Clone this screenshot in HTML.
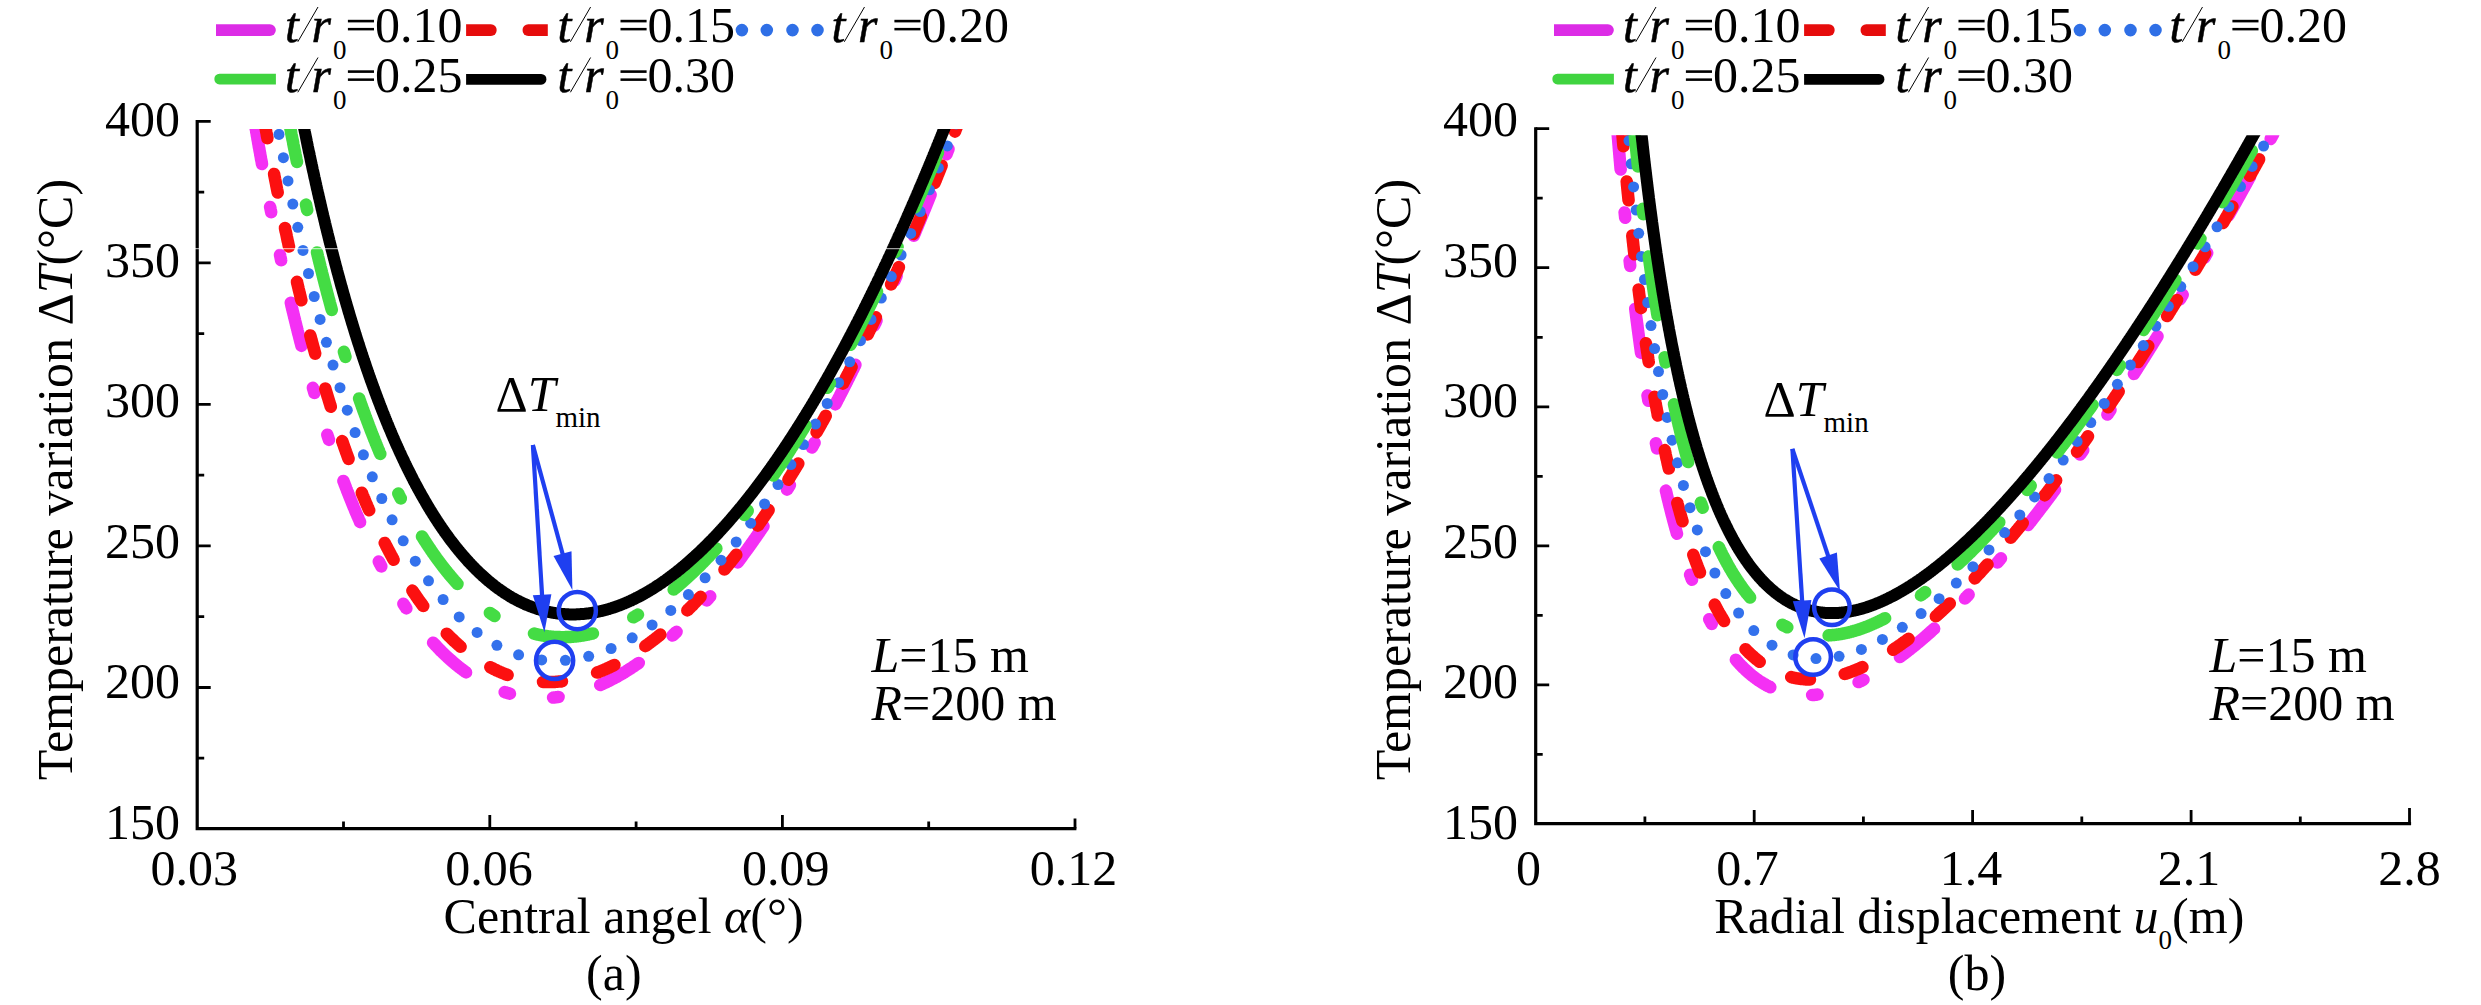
<!DOCTYPE html>
<html><head><meta charset="utf-8"><style>html,body{margin:0;padding:0;background:#fff;overflow:hidden}svg{display:block}text{font-family:"Liberation Serif",serif}</style></head><body>
<svg width="2481" height="1005" viewBox="0 0 2481 1005">
<rect width="2481" height="1005" fill="#fff"/>
<clipPath id="clipL"><rect x="197.2" y="129.0" width="877.8" height="700.0"/></clipPath>
<g clip-path="url(#clipL)"><path d="M254.3,120.3 254.4,120.8 254.5,121.3 254.6,121.7 254.6,122.2 254.7,122.7 254.8,123.2 254.9,123.7 255.0,124.2 255.1,124.7 255.1,125.2 255.2,125.7 255.3,126.2 255.4,126.7 255.5,127.2 255.6,127.7 255.7,128.2 255.7,128.6 255.8,129.1 255.9,129.6 256.0,130.1 256.1,130.6 256.2,131.1 256.2,131.6 256.3,132.1 256.4,132.6 256.5,133.1 256.6,133.6 256.7,134.1 256.8,134.6 256.8,135.0 256.9,135.5 257.0,136.0 257.1,136.5 257.2,137.0 257.3,137.5 257.4,138.0 257.4,138.5 257.5,139.0 257.6,139.5 257.7,140.0 257.8,140.5 257.9,141.0 258.0,141.4 258.1,141.9 258.1,142.4 258.2,142.9 258.3,143.4 258.4,143.9 258.5,144.4 258.6,144.9 258.7,145.4 258.7,145.9 258.8,146.4 258.9,146.9 259.0,147.4 259.1,147.8 259.2,148.3 259.3,148.8 259.4,149.3 259.4,149.8 259.5,150.3 259.6,150.8 259.7,151.3 259.8,151.8 259.9,152.3 260.0,152.8 260.1,153.3 260.2,153.8 260.2,154.2 260.3,154.7 260.4,155.2 260.5,155.7 260.6,156.2 260.7,156.7 260.8,157.2 260.9,157.7 260.9,158.2 261.0,158.7 261.1,159.2 261.2,159.7 261.3,160.1 261.4,160.6 261.5,161.1 261.6,161.6 261.7,162.1 261.8,162.6 261.8,163.1 261.9,163.6 262.0,164.1 262.0,164.1 M270.1,206.9 270.2,207.3 270.3,207.8 270.4,208.3 270.5,208.8 270.6,209.3 270.7,209.8 270.8,210.2 270.9,210.7 271.0,211.2 271.1,211.7 271.2,212.2 271.2,212.3 M280.0,254.9 280.1,255.3 280.2,255.8 280.3,256.3 280.4,256.8 280.5,257.2 280.6,257.7 280.7,258.2 280.8,258.7 280.9,259.2 281.0,259.7 281.1,260.2 281.2,260.3 M290.8,302.7 290.9,303.1 291.0,303.6 291.1,304.0 291.2,304.5 291.3,305.0 291.4,305.5 291.5,306.0 291.7,306.5 291.8,307.0 291.9,307.4 292.0,307.9 292.1,308.4 292.2,308.9 292.4,309.4 292.5,309.9 292.6,310.4 292.7,310.9 292.8,311.3 292.9,311.8 293.1,312.3 293.2,312.8 293.3,313.3 293.4,313.8 293.5,314.3 293.7,314.7 293.8,315.2 293.9,315.7 294.0,316.2 294.1,316.7 294.2,317.2 294.4,317.7 294.5,318.1 294.6,318.6 294.7,319.1 294.8,319.6 295.0,320.1 295.1,320.6 295.2,321.1 295.3,321.5 295.4,322.0 295.6,322.5 295.7,323.0 295.8,323.5 295.9,324.0 296.0,324.5 296.2,324.9 296.3,325.4 296.4,325.9 296.5,326.4 296.6,326.9 296.8,327.4 296.9,327.8 297.0,328.3 297.1,328.8 297.2,329.3 297.4,329.8 297.5,330.3 297.6,330.8 297.7,331.2 297.8,331.7 298.0,332.2 298.1,332.7 298.2,333.2 298.3,333.7 298.5,334.1 298.6,334.6 298.7,335.1 298.8,335.6 299.0,336.1 299.1,336.6 299.2,337.1 299.3,337.5 299.4,338.0 299.6,338.5 299.7,339.0 299.8,339.5 299.9,340.0 300.1,340.4 300.2,340.9 300.3,341.4 300.4,341.9 300.6,342.4 300.7,342.9 300.8,343.3 300.9,343.8 301.1,344.3 301.2,344.8 301.3,345.3 301.4,345.8 301.5,345.9 M312.9,387.8 313.0,388.2 313.2,388.7 313.3,389.2 313.5,389.6 313.6,390.1 313.7,390.6 313.9,391.1 314.0,391.6 314.1,392.0 314.3,392.5 314.4,393.0 314.5,393.1 M327.3,434.7 327.4,435.0 327.5,435.5 327.7,436.0 327.8,436.5 328.0,436.9 328.2,437.4 328.3,437.9 328.5,438.4 328.6,438.8 328.8,439.3 328.9,439.8 329.0,439.9 M343.4,480.9 343.6,481.3 343.7,481.7 343.9,482.2 344.1,482.7 344.3,483.1 344.4,483.6 344.6,484.1 344.8,484.5 345.0,485.0 345.1,485.5 345.3,486.0 345.5,486.4 345.7,486.9 345.9,487.4 346.0,487.8 346.2,488.3 346.4,488.8 346.6,489.2 346.8,489.7 346.9,490.1 347.1,490.6 347.3,491.1 347.5,491.5 347.7,492.0 347.9,492.5 348.0,492.9 348.2,493.4 348.4,493.9 348.6,494.3 348.8,494.8 348.9,495.3 349.1,495.7 349.3,496.2 349.5,496.7 349.7,497.1 349.9,497.6 350.1,498.1 350.2,498.5 350.4,499.0 350.6,499.5 350.8,499.9 351.0,500.4 351.2,500.8 351.4,501.3 351.5,501.8 351.7,502.2 351.9,502.7 352.1,503.2 352.3,503.6 352.5,504.1 352.7,504.5 352.9,505.0 353.0,505.5 353.2,505.9 353.4,506.4 353.6,506.9 353.8,507.3 354.0,507.8 354.2,508.2 354.4,508.7 354.6,509.2 354.8,509.6 355.0,510.1 355.1,510.6 355.3,511.0 355.5,511.5 355.7,511.9 355.9,512.4 356.1,512.9 356.3,513.3 356.5,513.8 356.7,514.2 356.9,514.7 357.1,515.2 357.3,515.6 357.5,516.1 357.7,516.5 357.9,517.0 358.1,517.5 358.3,517.9 358.5,518.4 358.7,518.8 358.9,519.3 359.1,519.8 359.3,520.2 359.5,520.7 359.7,521.1 359.9,521.6 360.1,522.1 360.1,522.2 M378.8,561.5 378.9,561.8 379.1,562.2 379.4,562.7 379.6,563.1 379.8,563.6 380.1,564.0 380.3,564.4 380.5,564.9 380.8,565.3 381.0,565.8 381.2,566.2 381.3,566.4 M403.4,603.8 403.5,604.1 403.8,604.5 404.1,604.9 404.4,605.3 404.7,605.8 404.9,606.2 405.2,606.6 405.5,607.0 405.8,607.4 406.0,607.8 406.3,608.3 406.4,608.4 M433.1,642.7 433.4,642.9 433.7,643.3 434.0,643.6 434.4,644.0 434.7,644.4 435.0,644.8 435.4,645.1 435.7,645.5 436.1,645.8 436.4,646.2 436.8,646.6 437.1,646.9 437.4,647.3 437.8,647.7 438.1,648.0 438.5,648.4 438.8,648.7 439.2,649.1 439.5,649.5 439.9,649.8 440.2,650.2 440.6,650.5 440.9,650.9 441.3,651.2 441.6,651.6 442.0,651.9 442.4,652.3 442.7,652.6 443.1,653.0 443.4,653.3 443.8,653.7 444.1,654.0 444.5,654.4 444.9,654.7 445.2,655.1 445.6,655.4 446.0,655.8 446.3,656.1 446.7,656.4 447.1,656.8 447.4,657.1 447.8,657.5 448.2,657.8 448.5,658.1 448.9,658.5 449.3,658.8 449.6,659.1 450.0,659.5 450.4,659.8 450.8,660.1 451.1,660.5 451.5,660.8 451.9,661.1 452.3,661.5 452.6,661.8 453.0,662.1 453.4,662.4 453.8,662.8 454.2,663.1 454.5,663.4 454.9,663.7 455.3,664.0 455.7,664.4 456.1,664.7 456.5,665.0 456.9,665.3 457.2,665.6 457.6,665.9 458.0,666.3 458.4,666.6 458.8,666.9 459.2,667.2 459.6,667.5 460.0,667.8 460.4,668.1 460.8,668.4 461.2,668.7 461.6,669.0 462.0,669.3 462.4,669.6 462.8,669.9 463.2,670.2 463.6,670.5 464.0,670.8 464.4,671.1 464.8,671.4 465.2,671.7 465.6,672.0 466.0,672.3 466.1,672.4 M504.7,692.1 505.0,692.2 505.5,692.4 506.0,692.5 506.4,692.7 506.9,692.8 507.4,693.0 507.9,693.1 508.4,693.2 508.8,693.4 509.3,693.5 509.8,693.7 510.0,693.7 M553.1,697.6 553.4,697.5 553.9,697.5 554.4,697.4 554.9,697.4 555.4,697.3 555.9,697.3 556.4,697.2 556.8,697.2 557.3,697.1 557.8,697.1 558.3,697.0 558.6,697.0 M600.2,685.0 600.5,684.9 600.9,684.7 601.4,684.5 601.8,684.3 602.3,684.1 602.7,683.8 603.2,683.6 603.7,683.4 604.1,683.2 604.6,683.0 605.0,682.8 605.5,682.6 605.9,682.4 606.4,682.2 606.8,681.9 607.3,681.7 607.7,681.5 608.2,681.3 608.6,681.1 609.1,680.8 609.5,680.6 610.0,680.4 610.4,680.2 610.8,679.9 611.3,679.7 611.7,679.5 612.2,679.2 612.6,679.0 613.1,678.8 613.5,678.5 613.9,678.3 614.4,678.1 614.8,677.8 615.3,677.6 615.7,677.3 616.1,677.1 616.6,676.9 617.0,676.6 617.5,676.4 617.9,676.1 618.3,675.9 618.8,675.6 619.2,675.4 619.6,675.2 620.1,674.9 620.5,674.7 620.9,674.4 621.4,674.1 621.8,673.9 622.2,673.6 622.7,673.4 623.1,673.1 623.5,672.9 623.9,672.6 624.4,672.4 624.8,672.1 625.2,671.8 625.6,671.6 626.1,671.3 626.5,671.1 626.9,670.8 627.3,670.5 627.8,670.3 628.2,670.0 628.6,669.7 629.0,669.5 629.5,669.2 629.9,668.9 630.3,668.6 630.7,668.4 631.1,668.1 631.6,667.8 632.0,667.6 632.4,667.3 632.8,667.0 633.2,666.7 633.6,666.5 634.1,666.2 634.5,665.9 634.9,665.6 635.3,665.3 635.7,665.1 636.1,664.8 636.5,664.5 636.9,664.2 637.4,663.9 637.8,663.6 638.2,663.4 638.6,663.1 638.8,662.9 M672.5,635.5 672.7,635.4 673.1,635.0 673.5,634.7 673.8,634.3 674.2,634.0 674.6,633.7 674.9,633.3 675.3,633.0 675.6,632.6 676.0,632.3 676.4,632.0 676.6,631.8 M706.7,600.4 706.9,600.3 707.2,599.9 707.5,599.5 707.8,599.1 708.2,598.8 708.5,598.4 708.8,598.0 709.2,597.6 709.5,597.2 709.8,596.9 710.1,596.5 710.3,596.3 M737.6,562.4 737.8,562.3 738.1,561.9 738.4,561.5 738.7,561.1 739.0,560.7 739.3,560.3 739.6,559.9 739.9,559.5 740.2,559.1 740.5,558.7 740.8,558.3 741.1,557.9 741.4,557.5 741.7,557.1 742.0,556.7 742.2,556.3 742.5,555.9 742.8,555.5 743.1,555.1 743.4,554.6 743.7,554.2 744.0,553.8 744.3,553.4 744.6,553.0 744.9,552.6 745.2,552.2 745.5,551.8 745.8,551.4 746.1,551.0 746.4,550.6 746.7,550.2 747.0,549.8 747.3,549.4 747.6,549.0 747.9,548.6 748.1,548.2 748.4,547.8 748.7,547.4 749.0,547.0 749.3,546.6 749.6,546.2 749.9,545.7 750.2,545.3 750.5,544.9 750.8,544.5 751.1,544.1 751.3,543.7 751.6,543.3 751.9,542.9 752.2,542.5 752.5,542.1 752.8,541.7 753.1,541.3 753.4,540.9 753.7,540.4 753.9,540.0 754.2,539.6 754.5,539.2 754.8,538.8 755.1,538.4 755.4,538.0 755.7,537.6 756.0,537.2 756.2,536.8 756.5,536.4 756.8,535.9 757.1,535.5 757.4,535.1 757.7,534.7 758.0,534.3 758.2,533.9 758.5,533.5 758.8,533.1 759.1,532.7 759.4,532.2 759.7,531.8 759.9,531.4 760.2,531.0 760.5,530.6 760.8,530.2 761.1,529.8 761.3,529.4 761.6,528.9 761.9,528.5 762.2,528.1 762.5,527.7 762.8,527.3 763.0,526.9 763.3,526.5 763.5,526.2 M787.0,489.7 787.2,489.5 787.4,489.1 787.7,488.6 787.9,488.2 788.2,487.8 788.5,487.4 788.7,486.9 789.0,486.5 789.3,486.1 789.5,485.7 789.8,485.2 789.9,485.0 M811.9,447.5 812.0,447.3 812.3,446.9 812.5,446.4 812.8,446.0 813.0,445.6 813.3,445.1 813.5,444.7 813.7,444.2 814.0,443.8 814.2,443.4 814.5,442.9 814.6,442.7 M835.3,404.4 835.4,404.3 835.6,403.8 835.9,403.4 836.1,402.9 836.3,402.5 836.6,402.0 836.8,401.6 837.0,401.1 837.3,400.7 837.5,400.3 837.7,399.8 837.9,399.4 838.2,398.9 838.4,398.5 838.6,398.0 838.9,397.6 839.1,397.2 839.3,396.7 839.6,396.3 839.8,395.8 840.0,395.4 840.2,394.9 840.5,394.5 840.7,394.0 840.9,393.6 841.2,393.2 841.4,392.7 841.6,392.3 841.8,391.8 842.1,391.4 842.3,390.9 842.5,390.5 842.8,390.0 843.0,389.6 843.2,389.2 843.4,388.7 843.7,388.3 843.9,387.8 844.1,387.4 844.3,386.9 844.6,386.5 844.8,386.0 845.0,385.6 845.2,385.1 845.5,384.7 845.7,384.2 845.9,383.8 846.2,383.4 846.4,382.9 846.6,382.5 846.8,382.0 847.1,381.6 847.3,381.1 847.5,380.7 847.7,380.2 848.0,379.8 848.2,379.3 848.4,378.9 848.6,378.4 848.9,378.0 849.1,377.6 849.3,377.1 849.5,376.7 849.7,376.2 850.0,375.8 850.2,375.3 850.4,374.9 850.6,374.4 850.9,374.0 851.1,373.5 851.3,373.1 851.5,372.6 851.8,372.2 852.0,371.7 852.2,371.3 852.4,370.8 852.6,370.4 852.9,369.9 853.1,369.5 853.3,369.1 853.5,368.6 853.8,368.2 854.0,367.7 854.2,367.3 854.4,366.8 854.6,366.4 854.9,365.9 855.1,365.5 855.3,365.0 855.4,364.7 M874.2,325.5 874.3,325.3 874.5,324.9 874.7,324.4 874.9,324.0 875.1,323.5 875.3,323.1 875.6,322.6 875.8,322.2 876.0,321.7 876.2,321.3 876.4,320.8 876.5,320.5 M894.4,280.8 894.5,280.7 894.7,280.3 894.9,279.8 895.1,279.3 895.3,278.9 895.5,278.4 895.7,278.0 895.9,277.5 896.1,277.0 896.3,276.6 896.5,276.1 896.6,275.8 M913.8,235.8 913.8,235.7 914.0,235.2 914.2,234.8 914.4,234.3 914.6,233.8 914.8,233.4 915.0,232.9 915.2,232.5 915.4,232.0 915.5,231.5 915.7,231.1 915.9,230.6 916.1,230.2 916.3,229.7 916.5,229.2 916.7,228.8 916.9,228.3 917.1,227.8 917.3,227.4 917.5,226.9 917.7,226.5 917.8,226.0 918.0,225.5 918.2,225.1 918.4,224.6 918.6,224.2 918.8,223.7 919.0,223.2 919.2,222.8 919.4,222.3 919.6,221.8 919.8,221.4 919.9,220.9 920.1,220.5 920.3,220.0 920.5,219.5 920.7,219.1 920.9,218.6 921.1,218.1 921.3,217.7 921.5,217.2 921.7,216.8 921.8,216.3 922.0,215.8 922.2,215.4 922.4,214.9 922.6,214.4 922.8,214.0 923.0,213.5 923.2,213.1 923.4,212.6 923.5,212.1 923.7,211.7 923.9,211.2 924.1,210.7 924.3,210.3 924.5,209.8 924.7,209.4 924.9,208.9 925.1,208.4 925.2,208.0 925.4,207.5 925.6,207.0 925.8,206.6 926.0,206.1 926.2,205.7 926.4,205.2 926.6,204.7 926.7,204.3 926.9,203.8 927.1,203.3 927.3,202.9 927.5,202.4 927.7,201.9 927.9,201.5 928.1,201.0 928.2,200.6 928.4,200.1 928.6,199.6 928.8,199.2 929.0,198.7 929.2,198.2 929.4,197.8 929.6,197.3 929.7,196.8 929.9,196.4 930.1,195.9 930.3,195.5 930.5,195.0 930.6,194.6 M946.5,154.2 946.6,154.0 946.8,153.6 946.9,153.1 947.1,152.6 947.3,152.2 947.5,151.7 947.7,151.3 947.8,150.8 948.0,150.3 948.2,149.9 948.4,149.4 948.5,149.0 M963.9,108.3 963.9,108.2 964.1,107.8 964.2,107.3 964.4,106.8 964.6,106.3 964.8,105.9 964.9,105.4 965.1,104.9 965.3,104.5 965.4,104.0 965.4,104.0" fill="none" stroke="#f430f4" stroke-width="12.5" stroke-linecap="round" stroke-linejoin="round"/>
<path d="M264.1,119.6 264.1,119.8 264.2,120.3 264.3,120.7 264.4,121.2 264.5,121.7 264.6,122.2 264.6,122.7 264.7,123.2 264.8,123.7 264.9,124.2 265.0,124.7 265.1,125.2 265.2,125.7 265.3,126.2 265.3,126.7 265.4,127.1 265.5,127.6 265.6,128.1 265.7,128.6 265.8,129.1 265.9,129.6 266.0,130.1 266.0,130.6 266.1,131.1 266.2,131.6 266.3,132.1 266.4,132.6 266.5,133.1 266.6,133.5 266.7,134.0 266.8,134.5 266.8,135.0 266.9,135.5 267.0,136.0 267.1,136.5 267.2,137.0 267.3,137.5 267.4,138.0 267.4,138.3 M274.1,173.9 274.2,174.3 274.2,174.8 274.3,175.3 274.4,175.8 274.5,176.3 274.6,176.8 274.7,177.3 274.8,177.8 274.9,178.3 275.0,178.8 275.1,179.3 275.2,179.7 275.3,180.2 275.4,180.7 275.5,181.2 275.6,181.7 275.7,182.2 275.8,182.7 275.9,183.2 276.0,183.7 276.1,184.2 276.2,184.7 276.2,185.1 276.3,185.6 276.4,186.1 276.5,186.6 276.6,187.1 276.7,187.6 276.8,188.1 276.9,188.6 277.0,189.1 277.1,189.6 277.2,190.0 277.3,190.5 277.4,191.0 277.5,191.5 277.6,192.0 277.7,192.5 277.7,192.5 M285.0,228.0 285.0,228.3 285.1,228.7 285.2,229.2 285.3,229.7 285.4,230.2 285.5,230.7 285.6,231.2 285.8,231.7 285.9,232.2 286.0,232.7 286.1,233.1 286.2,233.6 286.3,234.1 286.4,234.6 286.5,235.1 286.6,235.6 286.7,236.1 286.8,236.6 286.9,237.1 287.0,237.5 287.1,238.0 287.2,238.5 287.3,239.0 287.4,239.5 287.5,240.0 287.6,240.5 287.7,241.0 287.9,241.5 288.0,241.9 288.1,242.4 288.2,242.9 288.3,243.4 288.4,243.9 288.5,244.4 288.6,244.9 288.7,245.4 288.8,245.9 288.9,246.3 289.0,246.5 M297.0,281.8 297.0,281.9 297.1,282.4 297.2,282.9 297.3,283.4 297.5,283.9 297.6,284.4 297.7,284.9 297.8,285.3 297.9,285.8 298.0,286.3 298.1,286.8 298.3,287.3 298.4,287.8 298.5,288.3 298.6,288.7 298.7,289.2 298.8,289.7 299.0,290.2 299.1,290.7 299.2,291.2 299.3,291.7 299.4,292.1 299.5,292.6 299.7,293.1 299.8,293.6 299.9,294.1 300.0,294.6 300.1,295.1 300.2,295.6 300.4,296.0 300.5,296.5 300.6,297.0 300.7,297.5 300.8,298.0 300.9,298.5 301.1,299.0 301.2,299.4 301.3,299.9 301.4,300.3 M310.3,335.4 310.4,335.8 310.5,336.3 310.7,336.8 310.8,337.2 310.9,337.7 311.0,338.2 311.2,338.7 311.3,339.2 311.4,339.7 311.6,340.1 311.7,340.6 311.8,341.1 311.9,341.6 312.1,342.1 312.2,342.5 312.3,343.0 312.5,343.5 312.6,344.0 312.7,344.5 312.9,345.0 313.0,345.4 313.1,345.9 313.2,346.4 313.4,346.9 313.5,347.4 313.6,347.9 313.8,348.3 313.9,348.8 314.0,349.3 314.2,349.8 314.3,350.3 314.4,350.8 314.6,351.2 314.7,351.7 314.8,352.2 315.0,352.7 315.1,353.2 315.2,353.6 315.2,353.8 M325.3,388.5 325.3,388.7 325.4,389.2 325.6,389.7 325.7,390.2 325.9,390.6 326.0,391.1 326.2,391.6 326.3,392.1 326.5,392.6 326.6,393.0 326.8,393.5 326.9,394.0 327.0,394.5 327.2,394.9 327.3,395.4 327.5,395.9 327.6,396.4 327.8,396.9 327.9,397.3 328.1,397.8 328.2,398.3 328.4,398.8 328.5,399.2 328.7,399.7 328.8,400.2 329.0,400.7 329.1,401.2 329.2,401.6 329.4,402.1 329.5,402.6 329.7,403.1 329.8,403.5 330.0,404.0 330.1,404.5 330.3,405.0 330.4,405.4 330.6,405.9 330.7,406.4 330.8,406.7 M342.2,441.1 342.4,441.5 342.5,442.0 342.7,442.5 342.9,442.9 343.0,443.4 343.2,443.9 343.4,444.4 343.5,444.8 343.7,445.3 343.9,445.8 344.0,446.2 344.2,446.7 344.4,447.2 344.5,447.7 344.7,448.1 344.9,448.6 345.0,449.1 345.2,449.5 345.4,450.0 345.5,450.5 345.7,451.0 345.9,451.4 346.0,451.9 346.2,452.4 346.4,452.8 346.5,453.3 346.7,453.8 346.9,454.2 347.1,454.7 347.2,455.2 347.4,455.7 347.6,456.1 347.7,456.6 347.9,457.1 348.1,457.5 348.3,458.0 348.4,458.5 348.6,458.9 348.6,459.0 M361.8,492.7 361.9,492.9 362.1,493.4 362.2,493.9 362.4,494.3 362.6,494.8 362.8,495.3 363.0,495.7 363.2,496.2 363.4,496.6 363.6,497.1 363.8,497.6 364.0,498.0 364.2,498.5 364.4,498.9 364.6,499.4 364.8,499.9 365.0,500.3 365.1,500.8 365.3,501.2 365.5,501.7 365.7,502.2 365.9,502.6 366.1,503.1 366.3,503.5 366.5,504.0 366.7,504.5 366.9,504.9 367.1,505.4 367.3,505.8 367.5,506.3 367.7,506.7 367.9,507.2 368.1,507.7 368.3,508.1 368.5,508.6 368.7,509.0 368.9,509.5 369.1,510.0 369.2,510.2 M384.7,542.9 384.7,542.9 385.0,543.4 385.2,543.8 385.4,544.3 385.7,544.7 385.9,545.2 386.1,545.6 386.3,546.0 386.6,546.5 386.8,546.9 387.0,547.4 387.3,547.8 387.5,548.3 387.7,548.7 388.0,549.2 388.2,549.6 388.4,550.0 388.7,550.5 388.9,550.9 389.1,551.4 389.4,551.8 389.6,552.2 389.8,552.7 390.1,553.1 390.3,553.6 390.5,554.0 390.8,554.5 391.0,554.9 391.3,555.3 391.5,555.8 391.7,556.2 392.0,556.6 392.2,557.1 392.4,557.5 392.7,558.0 392.9,558.4 393.2,558.8 393.4,559.3 393.6,559.7 M412.4,590.6 412.6,590.9 412.9,591.3 413.1,591.7 413.4,592.2 413.7,592.6 414.0,593.0 414.3,593.4 414.5,593.8 414.8,594.2 415.1,594.6 415.4,595.1 415.7,595.5 416.0,595.9 416.2,596.3 416.5,596.7 416.8,597.1 417.1,597.5 417.4,597.9 417.7,598.3 418.0,598.7 418.2,599.2 418.5,599.6 418.8,600.0 419.1,600.4 419.4,600.8 419.7,601.2 420.0,601.6 420.3,602.0 420.6,602.4 420.9,602.8 421.2,603.2 421.5,603.6 421.8,604.0 422.0,604.4 422.3,604.8 422.6,605.2 422.9,605.6 423.2,606.0 423.3,606.1 M446.7,633.7 446.8,633.8 447.2,634.2 447.5,634.5 447.9,634.9 448.2,635.3 448.6,635.6 448.9,636.0 449.3,636.3 449.7,636.7 450.0,637.0 450.4,637.4 450.7,637.7 451.1,638.1 451.4,638.4 451.8,638.8 452.2,639.1 452.5,639.5 452.9,639.8 453.3,640.1 453.6,640.5 454.0,640.8 454.3,641.2 454.7,641.5 455.1,641.9 455.4,642.2 455.8,642.5 456.2,642.9 456.6,643.2 456.9,643.5 457.3,643.9 457.7,644.2 458.0,644.5 458.4,644.9 458.8,645.2 459.2,645.5 459.6,645.9 459.9,646.2 460.3,646.5 460.6,646.7 M490.3,667.2 490.7,667.5 491.1,667.7 491.6,667.9 492.0,668.1 492.5,668.4 492.9,668.6 493.4,668.8 493.8,669.1 494.3,669.3 494.7,669.5 495.2,669.7 495.6,669.9 496.1,670.1 496.5,670.4 497.0,670.6 497.4,670.8 497.9,671.0 498.3,671.2 498.8,671.4 499.3,671.6 499.7,671.8 500.2,672.0 500.6,672.2 501.1,672.4 501.6,672.6 502.0,672.8 502.5,673.0 502.9,673.2 503.4,673.3 503.9,673.5 504.3,673.7 504.8,673.9 505.3,674.1 505.7,674.2 506.2,674.4 506.7,674.6 507.1,674.8 507.6,674.9 507.6,674.9 M543.0,682.0 543.3,682.0 543.8,682.0 544.3,682.0 544.8,682.0 545.3,682.0 545.8,682.0 546.3,682.0 546.8,682.1 547.3,682.1 547.8,682.1 548.3,682.1 548.8,682.1 549.3,682.1 549.8,682.1 550.3,682.0 550.8,682.0 551.3,682.0 551.8,682.0 552.3,682.0 552.8,682.0 553.3,682.0 553.8,681.9 554.3,681.9 554.8,681.9 555.3,681.9 555.8,681.8 556.3,681.8 556.8,681.8 557.3,681.7 557.8,681.7 558.3,681.6 558.8,681.6 559.3,681.6 559.8,681.5 560.3,681.5 560.8,681.4 561.3,681.4 561.7,681.3 562.0,681.3 M597.0,672.6 597.1,672.6 597.6,672.4 598.0,672.2 598.5,672.1 599.0,671.9 599.4,671.7 599.9,671.5 600.4,671.3 600.8,671.1 601.3,671.0 601.7,670.8 602.2,670.6 602.7,670.4 603.1,670.2 603.6,670.0 604.0,669.8 604.5,669.6 605.0,669.4 605.4,669.2 605.9,669.0 606.3,668.8 606.8,668.6 607.2,668.4 607.7,668.2 608.2,668.0 608.6,667.8 609.1,667.5 609.5,667.3 610.0,667.1 610.4,666.9 610.9,666.7 611.3,666.5 611.8,666.3 612.2,666.0 612.7,665.8 613.1,665.6 613.6,665.4 614.0,665.2 614.4,665.0 M645.3,646.2 645.6,645.9 646.0,645.7 646.4,645.4 646.8,645.1 647.2,644.8 647.6,644.5 648.0,644.2 648.4,643.9 648.8,643.6 649.2,643.3 649.6,643.0 650.0,642.7 650.4,642.4 650.8,642.1 651.2,641.8 651.6,641.5 652.0,641.2 652.4,640.9 652.8,640.6 653.2,640.3 653.6,640.0 654.0,639.7 654.4,639.4 654.8,639.1 655.2,638.8 655.6,638.5 656.0,638.2 656.4,637.8 656.8,637.5 657.2,637.2 657.6,636.9 658.0,636.6 658.3,636.3 658.7,636.0 659.1,635.7 659.5,635.4 659.9,635.0 660.3,634.7 660.4,634.6 M687.3,610.4 687.4,610.3 687.8,610.0 688.1,609.6 688.5,609.3 688.8,608.9 689.2,608.6 689.6,608.2 689.9,607.9 690.3,607.5 690.6,607.2 691.0,606.8 691.3,606.4 691.7,606.1 692.0,605.7 692.4,605.4 692.7,605.0 693.1,604.7 693.4,604.3 693.8,603.9 694.1,603.6 694.5,603.2 694.8,602.9 695.2,602.5 695.5,602.2 695.9,601.8 696.2,601.4 696.6,601.1 696.9,600.7 697.2,600.4 697.6,600.0 697.9,599.6 698.3,599.3 698.6,598.9 699.0,598.5 699.3,598.2 699.7,597.8 700.0,597.4 700.3,597.1 700.6,596.8 M724.4,569.6 724.7,569.3 725.0,568.9 725.3,568.5 725.7,568.1 726.0,567.7 726.3,567.3 726.6,566.9 726.9,566.6 727.2,566.2 727.6,565.8 727.9,565.4 728.2,565.0 728.5,564.6 728.8,564.2 729.1,563.8 729.4,563.4 729.8,563.1 730.1,562.7 730.4,562.3 730.7,561.9 731.0,561.5 731.3,561.1 731.6,560.7 731.9,560.3 732.3,559.9 732.6,559.5 732.9,559.1 733.2,558.7 733.5,558.4 733.8,558.0 734.1,557.6 734.4,557.2 734.7,556.8 735.0,556.4 735.3,556.0 735.6,555.6 736.0,555.2 736.3,554.8 736.3,554.8 M757.8,525.7 758.0,525.5 758.3,525.1 758.5,524.7 758.8,524.2 759.1,523.8 759.4,523.4 759.7,523.0 760.0,522.6 760.3,522.2 760.6,521.8 760.8,521.4 761.1,521.0 761.4,520.6 761.7,520.2 762.0,519.7 762.3,519.3 762.6,518.9 762.8,518.5 763.1,518.1 763.4,517.7 763.7,517.3 764.0,516.9 764.3,516.5 764.5,516.0 764.8,515.6 765.1,515.2 765.4,514.8 765.7,514.4 766.0,514.0 766.2,513.6 766.5,513.1 766.8,512.7 767.1,512.3 767.4,511.9 767.6,511.5 767.9,511.1 768.2,510.7 768.5,510.3 768.6,510.0 M788.4,479.7 788.4,479.7 788.6,479.2 788.9,478.8 789.2,478.4 789.4,478.0 789.7,477.5 790.0,477.1 790.2,476.7 790.5,476.3 790.8,475.8 791.0,475.4 791.3,475.0 791.5,474.6 791.8,474.1 792.1,473.7 792.3,473.3 792.6,472.9 792.9,472.4 793.1,472.0 793.4,471.6 793.6,471.2 793.9,470.7 794.2,470.3 794.4,469.9 794.7,469.5 794.9,469.0 795.2,468.6 795.5,468.2 795.7,467.7 796.0,467.3 796.2,466.9 796.5,466.5 796.8,466.0 797.0,465.6 797.3,465.2 797.5,464.8 797.8,464.3 798.1,463.9 798.3,463.5 M816.6,432.3 816.7,432.0 817.0,431.5 817.2,431.1 817.5,430.7 817.7,430.2 818.0,429.8 818.2,429.4 818.5,428.9 818.7,428.5 819.0,428.0 819.2,427.6 819.4,427.2 819.7,426.7 819.9,426.3 820.2,425.9 820.4,425.4 820.7,425.0 820.9,424.6 821.2,424.1 821.4,423.7 821.6,423.2 821.9,422.8 822.1,422.4 822.4,421.9 822.6,421.5 822.9,421.1 823.1,420.6 823.3,420.2 823.6,419.7 823.8,419.3 824.1,418.9 824.3,418.4 824.6,418.0 824.8,417.6 825.0,417.1 825.3,416.7 825.5,416.2 825.8,415.8 825.8,415.7 M842.9,383.7 843.0,383.6 843.2,383.2 843.4,382.7 843.7,382.3 843.9,381.9 844.1,381.4 844.4,381.0 844.6,380.5 844.8,380.1 845.1,379.6 845.3,379.2 845.5,378.7 845.7,378.3 846.0,377.9 846.2,377.4 846.4,377.0 846.7,376.5 846.9,376.1 847.1,375.6 847.3,375.2 847.6,374.7 847.8,374.3 848.0,373.9 848.3,373.4 848.5,373.0 848.7,372.5 848.9,372.1 849.2,371.6 849.4,371.2 849.6,370.7 849.9,370.3 850.1,369.9 850.3,369.4 850.5,369.0 850.8,368.5 851.0,368.1 851.2,367.6 851.4,367.2 851.6,366.9 M867.7,334.4 867.9,334.0 868.1,333.6 868.3,333.1 868.5,332.7 868.7,332.2 869.0,331.8 869.2,331.3 869.4,330.9 869.6,330.4 869.8,330.0 870.0,329.5 870.3,329.1 870.5,328.6 870.7,328.2 870.9,327.7 871.1,327.3 871.3,326.8 871.6,326.4 871.8,325.9 872.0,325.5 872.2,325.0 872.4,324.6 872.6,324.1 872.9,323.7 873.1,323.2 873.3,322.8 873.5,322.3 873.7,321.9 873.9,321.4 874.1,321.0 874.4,320.5 874.6,320.1 874.8,319.6 875.0,319.2 875.2,318.7 875.4,318.3 875.6,317.8 875.9,317.3 875.9,317.3 M891.1,284.4 891.2,284.2 891.4,283.8 891.6,283.3 891.8,282.9 892.0,282.4 892.2,282.0 892.4,281.5 892.6,281.0 892.9,280.6 893.1,280.1 893.3,279.7 893.5,279.2 893.7,278.8 893.9,278.3 894.1,277.9 894.3,277.4 894.5,276.9 894.7,276.5 894.9,276.0 895.1,275.6 895.3,275.1 895.5,274.7 895.7,274.2 895.9,273.7 896.1,273.3 896.3,272.8 896.5,272.4 896.7,271.9 897.0,271.5 897.2,271.0 897.4,270.6 897.6,270.1 897.8,269.6 898.0,269.2 898.2,268.7 898.4,268.3 898.6,267.8 898.8,267.4 898.9,267.1 M913.4,233.9 913.4,233.9 913.6,233.4 913.8,233.0 914.0,232.5 914.2,232.1 914.4,231.6 914.6,231.1 914.8,230.7 915.0,230.2 915.1,229.8 915.3,229.3 915.5,228.8 915.7,228.4 915.9,227.9 916.1,227.5 916.3,227.0 916.5,226.5 916.7,226.1 916.9,225.6 917.1,225.2 917.3,224.7 917.5,224.2 917.7,223.8 917.9,223.3 918.1,222.9 918.3,222.4 918.5,221.9 918.7,221.5 918.9,221.0 919.1,220.6 919.2,220.1 919.4,219.6 919.6,219.2 919.8,218.7 920.0,218.3 920.2,217.8 920.4,217.3 920.6,216.9 920.8,216.4 M934.6,183.0 934.7,182.7 934.9,182.2 935.1,181.8 935.3,181.3 935.5,180.8 935.7,180.4 935.9,179.9 936.0,179.4 936.2,179.0 936.4,178.5 936.6,178.0 936.8,177.6 937.0,177.1 937.2,176.7 937.4,176.2 937.5,175.7 937.7,175.3 937.9,174.8 938.1,174.3 938.3,173.9 938.5,173.4 938.7,172.9 938.9,172.5 939.0,172.0 939.2,171.6 939.4,171.1 939.6,170.6 939.8,170.2 940.0,169.7 940.2,169.2 940.3,168.8 940.5,168.3 940.7,167.8 940.9,167.4 941.1,166.9 941.3,166.5 941.5,166.0 941.6,165.5 941.7,165.4 M955.0,131.7 955.0,131.6 955.2,131.1 955.4,130.6 955.5,130.2 955.7,129.7 955.9,129.2 956.1,128.8 956.3,128.3 956.4,127.8 956.6,127.4 956.8,126.9 957.0,126.4 957.2,126.0 957.3,125.5 957.5,125.0 957.7,124.6 957.9,124.1 958.1,123.6 958.2,123.2 958.4,122.7 958.6,122.2 958.8,121.8 958.9,121.3 959.1,120.8 959.3,120.4 959.5,119.9 959.7,119.4 959.8,119.0 960.0,118.5 960.2,118.0 960.4,117.6 960.6,117.1 960.7,116.6 960.9,116.2 961.1,115.7 961.3,115.2 961.4,114.8 961.6,114.3 961.8,113.9" fill="none" stroke="#fc1010" stroke-width="12.5" stroke-linecap="round" stroke-linejoin="round"/>
<g fill="#3371ec"><circle cx="274.7" cy="111.1" r="5.5"/><circle cx="279.0" cy="134.4" r="5.5"/><circle cx="283.4" cy="157.7" r="5.5"/><circle cx="288.0" cy="180.9" r="5.5"/><circle cx="292.8" cy="204.1" r="5.5"/><circle cx="297.8" cy="227.3" r="5.5"/><circle cx="303.0" cy="250.4" r="5.5"/><circle cx="308.5" cy="273.5" r="5.5"/><circle cx="314.2" cy="296.5" r="5.5"/><circle cx="320.1" cy="319.4" r="5.5"/><circle cx="326.4" cy="342.3" r="5.5"/><circle cx="333.0" cy="365.1" r="5.5"/><circle cx="340.0" cy="387.7" r="5.5"/><circle cx="347.3" cy="410.2" r="5.5"/><circle cx="355.1" cy="432.6" r="5.5"/><circle cx="363.4" cy="454.8" r="5.5"/><circle cx="372.3" cy="476.8" r="5.5"/><circle cx="381.8" cy="498.5" r="5.5"/><circle cx="392.1" cy="519.8" r="5.5"/><circle cx="403.2" cy="540.8" r="5.5"/><circle cx="415.3" cy="561.2" r="5.5"/><circle cx="428.5" cy="580.8" r="5.5"/><circle cx="443.1" cy="599.5" r="5.5"/><circle cx="459.2" cy="616.9" r="5.5"/><circle cx="477.1" cy="632.4" r="5.5"/><circle cx="496.9" cy="645.3" r="5.5"/><circle cx="518.6" cy="654.8" r="5.5"/><circle cx="541.7" cy="659.9" r="5.5"/><circle cx="565.4" cy="660.3" r="5.5"/><circle cx="588.7" cy="656.3" r="5.5"/><circle cx="611.1" cy="648.5" r="5.5"/><circle cx="632.2" cy="637.8" r="5.5"/><circle cx="652.1" cy="624.9" r="5.5"/><circle cx="670.8" cy="610.4" r="5.5"/><circle cx="688.4" cy="594.6" r="5.5"/><circle cx="705.1" cy="577.8" r="5.5"/><circle cx="721.0" cy="560.2" r="5.5"/><circle cx="736.2" cy="542.0" r="5.5"/><circle cx="750.7" cy="523.2" r="5.5"/><circle cx="764.6" cy="504.0" r="5.5"/><circle cx="778.0" cy="484.5" r="5.5"/><circle cx="790.9" cy="464.6" r="5.5"/><circle cx="803.4" cy="444.5" r="5.5"/><circle cx="815.5" cy="424.1" r="5.5"/><circle cx="827.2" cy="403.5" r="5.5"/><circle cx="838.6" cy="382.7" r="5.5"/><circle cx="849.7" cy="361.8" r="5.5"/><circle cx="860.5" cy="340.7" r="5.5"/><circle cx="871.0" cy="319.4" r="5.5"/><circle cx="881.3" cy="298.1" r="5.5"/><circle cx="891.3" cy="276.6" r="5.5"/><circle cx="901.1" cy="255.0" r="5.5"/><circle cx="910.7" cy="233.4" r="5.5"/><circle cx="920.2" cy="211.6" r="5.5"/><circle cx="929.4" cy="189.8" r="5.5"/><circle cx="938.4" cy="167.9" r="5.5"/><circle cx="947.3" cy="145.9" r="5.5"/><circle cx="956.1" cy="123.9" r="5.5"/></g>
<path d="M285.8,104.0 285.8,104.0 285.9,104.5 286.0,105.0 286.1,105.5 286.1,106.0 286.2,106.5 286.3,106.9 286.4,107.4 286.5,107.9 286.6,108.4 286.7,108.9 286.8,109.4 286.9,109.9 287.0,110.4 287.1,110.9 287.1,111.4 287.2,111.9 287.3,112.4 287.4,112.8 287.5,113.3 287.6,113.8 287.7,114.3 287.8,114.8 287.9,115.3 288.0,115.8 288.1,116.3 288.2,116.8 288.2,117.3 288.3,117.8 288.4,118.3 288.5,118.7 288.6,119.2 288.7,119.7 288.8,120.2 288.9,120.7 289.0,121.2 289.1,121.7 289.2,122.2 289.3,122.7 289.4,123.2 289.5,123.7 289.5,124.1 289.6,124.6 289.7,125.1 289.8,125.6 289.9,126.1 290.0,126.6 290.1,127.1 290.2,127.6 290.3,128.1 290.4,128.6 290.5,129.1 290.6,129.5 290.7,130.0 290.8,130.5 290.9,131.0 291.0,131.5 291.1,132.0 291.1,132.5 291.2,133.0 291.3,133.5 291.4,134.0 291.5,134.5 291.6,134.9 291.7,135.4 291.8,135.9 291.9,136.4 292.0,136.9 292.1,137.4 292.2,137.9 292.3,138.4 292.4,138.9 292.5,139.4 292.6,139.8 292.7,140.3 292.8,140.8 292.9,141.3 293.0,141.8 293.1,142.3 293.2,142.8 293.2,143.3 293.3,143.8 293.4,144.3 293.5,144.8 293.6,145.2 293.7,145.7 293.8,146.2 293.9,146.7 294.0,147.2 294.1,147.7 294.2,148.2 294.3,148.7 294.4,149.2 294.5,149.7 294.6,150.1 294.7,150.6 294.8,151.1 294.9,151.6 295.0,152.1 295.1,152.6 295.2,153.1 295.3,153.6 295.4,154.1 295.5,154.6 295.6,155.0 295.7,155.5 295.8,156.0 295.9,156.5 296.0,157.0 296.1,157.5 296.2,158.0 296.3,158.5 296.4,159.0 296.5,159.5 296.6,159.9 296.7,160.4 296.8,160.9 296.9,161.4 297.0,161.9 297.0,162.1 M306.0,204.6 306.1,204.9 306.2,205.4 306.3,205.9 306.4,206.4 306.5,206.9 306.6,207.4 306.7,207.9 306.8,208.4 306.9,208.8 307.0,209.3 307.1,209.8 307.2,210.0 M317.0,252.4 317.1,252.7 317.2,253.2 317.3,253.6 317.4,254.1 317.5,254.6 317.6,255.1 317.8,255.6 317.9,256.1 318.0,256.6 318.1,257.0 318.2,257.5 318.4,258.0 318.5,258.5 318.6,259.0 318.7,259.5 318.8,260.0 319.0,260.4 319.1,260.9 319.2,261.4 319.3,261.9 319.4,262.4 319.6,262.9 319.7,263.4 319.8,263.8 319.9,264.3 320.0,264.8 320.2,265.3 320.3,265.8 320.4,266.3 320.5,266.8 320.6,267.2 320.8,267.7 320.9,268.2 321.0,268.7 321.1,269.2 321.2,269.7 321.4,270.1 321.5,270.6 321.6,271.1 321.7,271.6 321.9,272.1 322.0,272.6 322.1,273.1 322.2,273.5 322.3,274.0 322.5,274.5 322.6,275.0 322.7,275.5 322.8,276.0 323.0,276.4 323.1,276.9 323.2,277.4 323.3,277.9 323.5,278.4 323.6,278.9 323.7,279.4 323.8,279.8 323.9,280.3 324.1,280.8 324.2,281.3 324.3,281.8 324.4,282.3 324.6,282.7 324.7,283.2 324.8,283.7 324.9,284.2 325.1,284.7 325.2,285.2 325.3,285.6 325.4,286.1 325.6,286.6 325.7,287.1 325.8,287.6 326.0,288.1 326.1,288.5 326.2,289.0 326.3,289.5 326.5,290.0 326.6,290.5 326.7,291.0 326.8,291.4 327.0,291.9 327.1,292.4 327.2,292.9 327.3,293.4 327.5,293.9 327.6,294.3 327.7,294.8 327.9,295.3 328.0,295.8 328.1,296.3 328.2,296.8 328.4,297.2 328.5,297.7 328.6,298.2 328.8,298.7 328.9,299.2 329.0,299.7 329.2,300.1 329.3,300.6 329.4,301.1 329.5,301.6 329.7,302.1 329.8,302.6 329.9,303.0 330.1,303.5 330.2,304.0 330.3,304.5 330.5,305.0 330.6,305.4 330.7,305.9 330.8,306.4 331.0,306.9 331.1,307.4 331.2,307.9 331.4,308.3 331.5,308.8 331.6,309.3 331.8,309.8 331.8,310.0 M343.9,351.8 344.0,352.0 344.1,352.5 344.3,353.0 344.4,353.5 344.6,353.9 344.7,354.4 344.9,354.9 345.0,355.4 345.2,355.9 345.3,356.3 345.5,356.8 345.5,357.0 M359.1,398.4 359.2,398.6 359.3,399.1 359.5,399.5 359.7,400.0 359.8,400.5 360.0,401.0 360.2,401.4 360.3,401.9 360.5,402.4 360.7,402.8 360.8,403.3 361.0,403.8 361.2,404.3 361.3,404.7 361.5,405.2 361.7,405.7 361.8,406.1 362.0,406.6 362.2,407.1 362.3,407.6 362.5,408.0 362.7,408.5 362.9,409.0 363.0,409.4 363.2,409.9 363.4,410.4 363.5,410.9 363.7,411.3 363.9,411.8 364.0,412.3 364.2,412.7 364.4,413.2 364.6,413.7 364.7,414.1 364.9,414.6 365.1,415.1 365.2,415.5 365.4,416.0 365.6,416.5 365.8,417.0 365.9,417.4 366.1,417.9 366.3,418.4 366.5,418.8 366.6,419.3 366.8,419.8 367.0,420.2 367.2,420.7 367.3,421.2 367.5,421.6 367.7,422.1 367.9,422.6 368.0,423.0 368.2,423.5 368.4,424.0 368.6,424.4 368.7,424.9 368.9,425.4 369.1,425.8 369.3,426.3 369.4,426.8 369.6,427.2 369.8,427.7 370.0,428.2 370.2,428.6 370.3,429.1 370.5,429.6 370.7,430.0 370.9,430.5 371.1,431.0 371.2,431.4 371.4,431.9 371.6,432.4 371.8,432.8 372.0,433.3 372.1,433.8 372.3,434.2 372.5,434.7 372.7,435.2 372.9,435.6 373.1,436.1 373.2,436.6 373.4,437.0 373.6,437.5 373.8,438.0 374.0,438.4 374.2,438.9 374.3,439.4 374.5,439.8 374.7,440.3 374.9,440.7 375.1,441.2 375.3,441.7 375.5,442.1 375.6,442.6 375.8,443.1 376.0,443.5 376.2,444.0 376.4,444.5 376.6,444.9 376.8,445.4 377.0,445.8 377.2,446.3 377.3,446.8 377.5,447.2 377.7,447.7 377.9,448.2 378.1,448.6 378.3,449.1 378.5,449.5 378.7,450.0 378.9,450.5 379.1,450.9 379.2,451.4 379.4,451.9 379.6,452.3 379.8,452.8 380.0,453.2 380.2,453.7 380.3,453.9 M398.3,493.5 398.4,493.7 398.7,494.2 398.9,494.6 399.1,495.1 399.3,495.5 399.5,496.0 399.8,496.4 400.0,496.9 400.2,497.3 400.4,497.7 400.7,498.2 400.8,498.4 M422.0,536.4 422.1,536.6 422.4,537.0 422.7,537.4 422.9,537.8 423.2,538.3 423.5,538.7 423.7,539.1 424.0,539.5 424.3,539.9 424.5,540.4 424.8,540.8 425.1,541.2 425.3,541.6 425.6,542.1 425.9,542.5 426.2,542.9 426.4,543.3 426.7,543.7 427.0,544.2 427.3,544.6 427.5,545.0 427.8,545.4 428.1,545.8 428.4,546.2 428.6,546.7 428.9,547.1 429.2,547.5 429.5,547.9 429.7,548.3 430.0,548.7 430.3,549.1 430.6,549.6 430.9,550.0 431.1,550.4 431.4,550.8 431.7,551.2 432.0,551.6 432.3,552.0 432.6,552.4 432.8,552.9 433.1,553.3 433.4,553.7 433.7,554.1 434.0,554.5 434.3,554.9 434.6,555.3 434.9,555.7 435.1,556.1 435.4,556.5 435.7,556.9 436.0,557.3 436.3,557.8 436.6,558.2 436.9,558.6 437.2,559.0 437.5,559.4 437.8,559.8 438.1,560.2 438.4,560.6 438.7,561.0 439.0,561.4 439.3,561.8 439.6,562.2 439.9,562.6 440.2,563.0 440.5,563.4 440.8,563.8 441.1,564.2 441.4,564.6 441.7,565.0 442.0,565.4 442.3,565.8 442.6,566.2 442.9,566.6 443.2,567.0 443.5,567.4 443.8,567.7 444.1,568.1 444.4,568.5 444.7,568.9 445.0,569.3 445.3,569.7 445.7,570.1 446.0,570.5 446.3,570.9 446.6,571.3 446.9,571.7 447.2,572.0 447.5,572.4 447.9,572.8 448.2,573.2 448.5,573.6 448.8,574.0 449.1,574.4 449.4,574.8 449.8,575.1 450.1,575.5 450.4,575.9 450.7,576.3 451.1,576.7 451.4,577.0 451.7,577.4 452.0,577.8 452.4,578.2 452.7,578.6 453.0,578.9 453.3,579.3 453.7,579.7 454.0,580.1 454.3,580.4 454.7,580.8 455.0,581.2 455.3,581.6 455.7,581.9 456.0,582.3 456.3,582.7 456.7,583.1 457.0,583.4 457.3,583.8 457.5,584.0 M489.9,612.9 490.1,613.0 490.5,613.3 490.9,613.6 491.3,613.9 491.7,614.2 492.1,614.4 492.6,614.7 493.0,615.0 493.4,615.3 493.8,615.5 494.2,615.8 494.5,616.0 M534.0,633.6 534.2,633.7 534.7,633.8 535.2,633.9 535.7,634.0 536.1,634.1 536.6,634.3 537.1,634.4 537.6,634.5 538.1,634.6 538.6,634.7 539.1,634.8 539.6,634.9 540.0,635.0 540.5,635.1 541.0,635.2 541.5,635.3 542.0,635.4 542.5,635.4 543.0,635.5 543.5,635.6 544.0,635.7 544.5,635.8 545.0,635.9 545.5,635.9 546.0,636.0 546.5,636.1 546.9,636.1 547.4,636.2 547.9,636.3 548.4,636.3 548.9,636.4 549.4,636.4 549.9,636.5 550.4,636.6 550.9,636.6 551.4,636.7 551.9,636.7 552.4,636.7 552.9,636.8 553.4,636.8 553.9,636.9 554.4,636.9 554.9,636.9 555.4,637.0 555.9,637.0 556.4,637.0 556.9,637.0 557.4,637.1 557.9,637.1 558.4,637.1 558.9,637.1 559.4,637.1 559.9,637.1 560.4,637.2 560.9,637.2 561.4,637.2 561.9,637.2 562.4,637.2 562.9,637.2 563.4,637.2 563.9,637.2 564.4,637.2 564.9,637.2 565.4,637.1 565.9,637.1 566.4,637.1 566.9,637.1 567.4,637.1 567.9,637.1 568.4,637.0 568.9,637.0 569.4,637.0 569.9,636.9 570.4,636.9 570.9,636.9 571.4,636.8 571.9,636.8 572.4,636.8 572.9,636.7 573.4,636.7 573.9,636.6 574.4,636.6 574.9,636.5 575.4,636.5 575.9,636.4 576.4,636.4 576.9,636.3 577.4,636.3 577.9,636.2 578.3,636.1 578.8,636.1 579.3,636.0 579.8,635.9 580.3,635.9 580.8,635.8 581.3,635.7 581.8,635.6 582.3,635.5 582.8,635.5 583.3,635.4 583.8,635.3 584.3,635.2 584.8,635.1 585.3,635.0 585.7,634.9 586.2,634.8 586.7,634.8 587.2,634.7 587.7,634.6 588.2,634.5 588.7,634.3 589.2,634.2 589.7,634.1 590.2,634.0 590.6,633.9 591.1,633.8 591.6,633.7 592.1,633.6 592.6,633.5 592.9,633.4 M633.2,617.3 633.3,617.3 633.8,617.0 634.2,616.8 634.7,616.5 635.1,616.3 635.5,616.0 636.0,615.8 636.4,615.6 636.8,615.3 637.3,615.1 637.7,614.8 638.0,614.6 M673.6,589.6 673.7,589.6 674.0,589.2 674.4,588.9 674.8,588.6 675.2,588.3 675.6,588.0 676.0,587.6 676.3,587.3 676.7,587.0 677.1,586.7 677.5,586.4 677.9,586.0 678.3,585.7 678.6,585.4 679.0,585.1 679.4,584.7 679.8,584.4 680.1,584.1 680.5,583.7 680.9,583.4 681.3,583.1 681.7,582.8 682.0,582.4 682.4,582.1 682.8,581.8 683.2,581.4 683.5,581.1 683.9,580.8 684.3,580.4 684.6,580.1 685.0,579.8 685.4,579.4 685.8,579.1 686.1,578.8 686.5,578.4 686.9,578.1 687.2,577.8 687.6,577.4 688.0,577.1 688.3,576.7 688.7,576.4 689.1,576.1 689.4,575.7 689.8,575.4 690.2,575.0 690.5,574.7 690.9,574.4 691.3,574.0 691.6,573.7 692.0,573.3 692.4,573.0 692.7,572.6 693.1,572.3 693.4,572.0 693.8,571.6 694.2,571.3 694.5,570.9 694.9,570.6 695.3,570.2 695.6,569.9 696.0,569.5 696.3,569.2 696.7,568.8 697.0,568.5 697.4,568.1 697.8,567.8 698.1,567.4 698.5,567.1 698.8,566.7 699.2,566.4 699.5,566.0 699.9,565.7 700.2,565.3 700.6,565.0 700.9,564.6 701.3,564.3 701.7,563.9 702.0,563.6 702.4,563.2 702.7,562.8 703.1,562.5 703.4,562.1 703.8,561.8 704.1,561.4 704.5,561.1 704.8,560.7 705.2,560.3 705.5,560.0 705.9,559.6 706.2,559.3 706.5,558.9 706.9,558.5 707.2,558.2 707.6,557.8 707.9,557.5 708.3,557.1 708.6,556.7 709.0,556.4 709.3,556.0 709.6,555.6 710.0,555.3 710.3,554.9 710.7,554.6 711.0,554.2 711.4,553.8 711.7,553.5 712.0,553.1 712.4,552.7 712.7,552.4 713.1,552.0 713.4,551.6 713.7,551.3 714.1,550.9 714.4,550.5 714.8,550.2 715.1,549.8 715.4,549.4 715.8,549.0 716.1,548.7 716.4,548.4 M744.4,515.1 744.4,515.0 744.7,514.6 745.0,514.2 745.3,513.8 745.6,513.4 745.9,513.0 746.2,512.6 746.5,512.3 746.8,511.9 747.2,511.5 747.5,511.1 747.7,510.7 M773.3,475.5 773.3,475.5 773.6,475.1 773.9,474.6 774.1,474.2 774.4,473.8 774.7,473.4 775.0,473.0 775.3,472.6 775.5,472.2 775.8,471.8 776.1,471.3 776.4,470.9 776.7,470.5 776.9,470.1 777.2,469.7 777.5,469.3 777.8,468.9 778.1,468.4 778.3,468.0 778.6,467.6 778.9,467.2 779.2,466.8 779.5,466.4 779.7,465.9 780.0,465.5 780.3,465.1 780.6,464.7 780.8,464.3 781.1,463.9 781.4,463.5 781.7,463.0 781.9,462.6 782.2,462.2 782.5,461.8 782.8,461.4 783.0,461.0 783.3,460.5 783.6,460.1 783.9,459.7 784.1,459.3 784.4,458.9 784.7,458.4 785.0,458.0 785.2,457.6 785.5,457.2 785.8,456.8 786.1,456.4 786.3,455.9 786.6,455.5 786.9,455.1 787.1,454.7 787.4,454.3 787.7,453.8 788.0,453.4 788.2,453.0 788.5,452.6 788.8,452.2 789.0,451.7 789.3,451.3 789.6,450.9 789.9,450.5 790.1,450.1 790.4,449.6 790.7,449.2 790.9,448.8 791.2,448.4 791.5,447.9 791.7,447.5 792.0,447.1 792.3,446.7 792.5,446.3 792.8,445.8 793.1,445.4 793.3,445.0 793.6,444.6 793.9,444.1 794.1,443.7 794.4,443.3 794.7,442.9 794.9,442.5 795.2,442.0 795.5,441.6 795.7,441.2 796.0,440.8 796.3,440.3 796.5,439.9 796.8,439.5 797.1,439.1 797.3,438.6 797.6,438.2 797.9,437.8 798.1,437.4 798.4,436.9 798.6,436.5 798.9,436.1 799.2,435.7 799.4,435.2 799.7,434.8 800.0,434.4 800.2,434.0 800.5,433.5 800.7,433.1 801.0,432.7 801.3,432.3 801.5,431.8 801.8,431.4 802.1,431.0 802.3,430.6 802.6,430.1 802.8,429.7 803.1,429.3 803.4,428.9 803.6,428.4 803.9,428.0 804.1,427.6 804.4,427.1 804.7,426.7 804.9,426.3 805.2,425.9 805.4,425.5 M827.3,387.8 827.3,387.8 827.5,387.4 827.8,387.0 828.0,386.5 828.2,386.1 828.5,385.7 828.7,385.2 829.0,384.8 829.2,384.3 829.5,383.9 829.7,383.5 829.9,383.0 M850.5,344.7 850.7,344.3 850.9,343.8 851.2,343.4 851.4,342.9 851.6,342.5 851.9,342.0 852.1,341.6 852.3,341.1 852.5,340.7 852.8,340.3 853.0,339.8 853.2,339.4 853.5,338.9 853.7,338.5 853.9,338.0 854.1,337.6 854.4,337.1 854.6,336.7 854.8,336.3 855.1,335.8 855.3,335.4 855.5,334.9 855.7,334.5 856.0,334.0 856.2,333.6 856.4,333.1 856.6,332.7 856.9,332.2 857.1,331.8 857.3,331.4 857.5,330.9 857.8,330.5 858.0,330.0 858.2,329.6 858.5,329.1 858.7,328.7 858.9,328.2 859.1,327.8 859.4,327.3 859.6,326.9 859.8,326.5 860.0,326.0 860.3,325.6 860.5,325.1 860.7,324.7 860.9,324.2 861.1,323.8 861.4,323.3 861.6,322.9 861.8,322.4 862.0,322.0 862.3,321.5 862.5,321.1 862.7,320.6 862.9,320.2 863.2,319.7 863.4,319.3 863.6,318.9 863.8,318.4 864.1,318.0 864.3,317.5 864.5,317.1 864.7,316.6 864.9,316.2 865.2,315.7 865.4,315.3 865.6,314.8 865.8,314.4 866.0,313.9 866.3,313.5 866.5,313.0 866.7,312.6 866.9,312.1 867.2,311.7 867.4,311.2 867.6,310.8 867.8,310.3 868.0,309.9 868.3,309.4 868.5,309.0 868.7,308.5 868.9,308.1 869.1,307.6 869.4,307.2 869.6,306.7 869.8,306.3 870.0,305.9 870.2,305.4 870.5,305.0 870.7,304.5 870.9,304.1 871.1,303.6 871.3,303.2 871.5,302.7 871.8,302.3 872.0,301.8 872.2,301.4 872.4,300.9 872.6,300.5 872.9,300.0 873.1,299.6 873.3,299.1 873.5,298.7 873.7,298.2 873.9,297.8 874.2,297.3 874.4,296.9 874.6,296.4 874.8,296.0 875.0,295.5 875.2,295.1 875.5,294.6 875.7,294.2 875.9,293.7 876.1,293.3 876.3,292.8 876.5,292.4 876.8,291.9 877.0,291.4 877.0,291.4 M895.3,252.0 895.5,251.6 895.7,251.1 895.9,250.7 896.2,250.2 896.4,249.8 896.6,249.3 896.8,248.8 897.0,248.4 897.2,247.9 897.4,247.5 897.6,247.0 897.6,247.0 M915.1,207.2 915.3,206.8 915.5,206.3 915.7,205.8 915.9,205.4 916.1,204.9 916.3,204.5 916.5,204.0 916.7,203.5 916.9,203.1 917.1,202.6 917.3,202.2 917.5,201.7 917.7,201.3 917.9,200.8 918.1,200.3 918.3,199.9 918.5,199.4 918.7,199.0 918.9,198.5 919.1,198.0 919.2,197.6 919.4,197.1 919.6,196.7 919.8,196.2 920.0,195.7 920.2,195.3 920.4,194.8 920.6,194.4 920.8,193.9 921.0,193.4 921.2,193.0 921.4,192.5 921.6,192.1 921.8,191.6 922.0,191.1 922.2,190.7 922.4,190.2 922.6,189.7 922.8,189.3 922.9,188.8 923.1,188.4 923.3,187.9 923.5,187.4 923.7,187.0 923.9,186.5 924.1,186.1 924.3,185.6 924.5,185.1 924.7,184.7 924.9,184.2 925.1,183.8 925.3,183.3 925.5,182.8 925.7,182.4 925.9,181.9 926.0,181.5 926.2,181.0 926.4,180.5 926.6,180.1 926.8,179.6 927.0,179.1 927.2,178.7 927.4,178.2 927.6,177.8 927.8,177.3 928.0,176.8 928.2,176.4 928.4,175.9 928.5,175.5 928.7,175.0 928.9,174.5 929.1,174.1 929.3,173.6 929.5,173.1 929.7,172.7 929.9,172.2 930.1,171.8 930.3,171.3 930.5,170.8 930.6,170.4 930.8,169.9 931.0,169.5 931.2,169.0 931.4,168.5 931.6,168.1 931.8,167.6 932.0,167.1 932.2,166.7 932.4,166.2 932.6,165.8 932.7,165.3 932.9,164.8 933.1,164.4 933.3,163.9 933.5,163.4 933.7,163.0 933.9,162.5 934.1,162.1 934.3,161.6 934.4,161.1 934.6,160.7 934.8,160.2 935.0,159.7 935.2,159.3 935.4,158.8 935.6,158.4 935.8,157.9 936.0,157.4 936.1,157.0 936.3,156.5 936.5,156.0 936.7,155.6 936.9,155.1 937.1,154.6 937.3,154.2 937.5,153.7 937.7,153.3 937.8,152.8 938.0,152.3 938.1,152.3 M954.1,111.8 954.3,111.5 954.4,111.0 954.6,110.5 954.8,110.1 955.0,109.6 955.2,109.1 955.4,108.7 955.5,108.2 955.7,107.7 955.9,107.3 956.1,106.8 956.1,106.7" fill="none" stroke="#44dc44" stroke-width="12.5" stroke-linecap="round" stroke-linejoin="round"/>
<path d="M299.3,104.0 299.4,104.5 299.5,105.0 299.6,105.5 299.7,106.0 299.8,106.5 299.9,106.9 300.0,107.4 300.1,107.9 300.2,108.4 300.3,108.9 300.4,109.4 300.5,109.9 300.6,110.4 300.7,110.9 300.8,111.4 300.9,111.9 301.0,112.3 301.1,112.8 301.1,113.3 301.2,113.8 301.3,114.3 301.4,114.8 301.5,115.3 301.6,115.8 301.7,116.3 301.8,116.8 301.9,117.2 302.0,117.7 302.1,118.2 302.2,118.7 302.3,119.2 302.4,119.7 302.5,120.2 302.6,120.7 302.7,121.2 302.8,121.7 302.9,122.2 303.0,122.6 303.1,123.1 303.2,123.6 303.3,124.1 303.4,124.6 303.5,125.1 303.6,125.6 303.7,126.1 303.8,126.6 303.9,127.1 304.0,127.5 304.1,128.0 304.2,128.5 304.3,129.0 304.4,129.5 304.5,130.0 304.6,130.5 304.7,131.0 304.8,131.5 304.9,132.0 305.0,132.4 305.1,132.9 305.2,133.4 305.3,133.9 305.4,134.4 305.5,134.9 305.6,135.4 305.7,135.9 305.8,136.4 305.9,136.9 306.0,137.3 306.1,137.8 306.2,138.3 306.3,138.8 306.4,139.3 306.5,139.8 306.6,140.3 306.7,140.8 306.8,141.3 306.9,141.8 307.0,142.2 307.1,142.7 307.2,143.2 307.3,143.7 307.4,144.2 307.5,144.7 307.6,145.2 307.7,145.7 307.8,146.2 307.9,146.7 308.0,147.1 308.1,147.6 308.2,148.1 308.3,148.6 308.4,149.1 308.5,149.6 308.6,150.1 308.7,150.6 308.8,151.1 308.9,151.5 309.0,152.0 309.1,152.5 309.3,153.0 309.4,153.5 309.5,154.0 309.6,154.5 309.7,155.0 309.8,155.5 309.9,155.9 310.0,156.4 310.1,156.9 310.2,157.4 310.3,157.9 310.4,158.4 310.5,158.9 310.6,159.4 310.7,159.9 310.8,160.4 310.9,160.8 311.0,161.3 311.1,161.8 311.2,162.3 311.3,162.8 311.4,163.3 311.5,163.8 311.7,164.3 311.8,164.8 311.9,165.2 312.0,165.7 312.1,166.2 312.2,166.7 312.3,167.2 312.4,167.7 312.5,168.2 312.6,168.7 312.7,169.2 312.8,169.6 312.9,170.1 313.0,170.6 313.1,171.1 313.2,171.6 313.4,172.1 313.5,172.6 313.6,173.1 313.7,173.5 313.8,174.0 313.9,174.5 314.0,175.0 314.1,175.5 314.2,176.0 314.3,176.5 314.4,177.0 314.5,177.5 314.6,177.9 314.8,178.4 314.9,178.9 315.0,179.4 315.1,179.9 315.2,180.4 315.3,180.9 315.4,181.4 315.5,181.8 315.6,182.3 315.7,182.8 315.8,183.3 315.9,183.8 316.1,184.3 316.2,184.8 316.3,185.3 316.4,185.8 316.5,186.2 316.6,186.7 316.7,187.2 316.8,187.7 316.9,188.2 317.0,188.7 317.2,189.2 317.3,189.7 317.4,190.1 317.5,190.6 317.6,191.1 317.7,191.6 317.8,192.1 317.9,192.6 318.0,193.1 318.1,193.6 318.3,194.0 318.4,194.5 318.5,195.0 318.6,195.5 318.7,196.0 318.8,196.5 318.9,197.0 319.0,197.5 319.2,197.9 319.3,198.4 319.4,198.9 319.5,199.4 319.6,199.9 319.7,200.4 319.8,200.9 319.9,201.4 320.1,201.8 320.2,202.3 320.3,202.8 320.4,203.3 320.5,203.8 320.6,204.3 320.7,204.8 320.8,205.3 321.0,205.7 321.1,206.2 321.2,206.7 321.3,207.2 321.4,207.7 321.5,208.2 321.6,208.7 321.8,209.1 321.9,209.6 322.0,210.1 322.1,210.6 322.2,211.1 322.3,211.6 322.4,212.1 322.6,212.6 322.7,213.0 322.8,213.5 322.9,214.0 323.0,214.5 323.1,215.0 323.3,215.5 323.4,216.0 323.5,216.4 323.6,216.9 323.7,217.4 323.8,217.9 324.0,218.4 324.1,218.9 324.2,219.4 324.3,219.9 324.4,220.3 324.5,220.8 324.7,221.3 324.8,221.8 324.9,222.3 325.0,222.8 325.1,223.3 325.2,223.7 325.4,224.2 325.5,224.7 325.6,225.2 325.7,225.7 325.8,226.2 325.9,226.7 326.1,227.1 326.2,227.6 326.3,228.1 326.4,228.6 326.5,229.1 326.7,229.6 326.8,230.1 326.9,230.5 327.0,231.0 327.1,231.5 327.3,232.0 327.4,232.5 327.5,233.0 327.6,233.5 327.7,233.9 327.9,234.4 328.0,234.9 328.1,235.4 328.2,235.9 328.3,236.4 328.5,236.9 328.6,237.3 328.7,237.8 328.8,238.3 328.9,238.8 329.1,239.3 329.2,239.8 329.3,240.3 329.4,240.7 329.5,241.2 329.7,241.7 329.8,242.2 329.9,242.7 330.0,243.2 330.2,243.6 330.3,244.1 330.4,244.6 330.5,245.1 330.7,245.6 330.8,246.1 330.9,246.6 331.0,247.0 331.1,247.5 331.3,248.0 331.4,248.5 331.5,249.0 331.6,249.5 331.8,249.9 331.9,250.4 332.0,250.9 332.1,251.4 332.3,251.9 332.4,252.4 332.5,252.9 332.6,253.3 332.8,253.8 332.9,254.3 333.0,254.8 333.1,255.3 333.3,255.8 333.4,256.2 333.5,256.7 333.6,257.2 333.8,257.7 333.9,258.2 334.0,258.7 334.1,259.1 334.3,259.6 334.4,260.1 334.5,260.6 334.6,261.1 334.8,261.6 334.9,262.1 335.0,262.5 335.2,263.0 335.3,263.5 335.4,264.0 335.5,264.5 335.7,265.0 335.8,265.4 335.9,265.9 336.0,266.4 336.2,266.9 336.3,267.4 336.4,267.9 336.6,268.3 336.7,268.8 336.8,269.3 336.9,269.8 337.1,270.3 337.2,270.8 337.3,271.2 337.5,271.7 337.6,272.2 337.7,272.7 337.9,273.2 338.0,273.6 338.1,274.1 338.2,274.6 338.4,275.1 338.5,275.6 338.6,276.1 338.8,276.5 338.9,277.0 339.0,277.5 339.2,278.0 339.3,278.5 339.4,279.0 339.6,279.4 339.7,279.9 339.8,280.4 340.0,280.9 340.1,281.4 340.2,281.9 340.3,282.3 340.5,282.8 340.6,283.3 340.7,283.8 340.9,284.3 341.0,284.7 341.1,285.2 341.3,285.7 341.4,286.2 341.5,286.7 341.7,287.2 341.8,287.6 342.0,288.1 342.1,288.6 342.2,289.1 342.4,289.6 342.5,290.0 342.6,290.5 342.8,291.0 342.9,291.5 343.0,292.0 343.2,292.5 343.3,292.9 343.4,293.4 343.6,293.9 343.7,294.4 343.8,294.9 344.0,295.3 344.1,295.8 344.3,296.3 344.4,296.8 344.5,297.3 344.7,297.7 344.8,298.2 344.9,298.7 345.1,299.2 345.2,299.7 345.4,300.1 345.5,300.6 345.6,301.1 345.8,301.6 345.9,302.1 346.0,302.6 346.2,303.0 346.3,303.5 346.5,304.0 346.6,304.5 346.7,305.0 346.9,305.4 347.0,305.9 347.2,306.4 347.3,306.9 347.4,307.4 347.6,307.8 347.7,308.3 347.9,308.8 348.0,309.3 348.1,309.8 348.3,310.2 348.4,310.7 348.6,311.2 348.7,311.7 348.8,312.2 349.0,312.6 349.1,313.1 349.3,313.6 349.4,314.1 349.6,314.6 349.7,315.0 349.8,315.5 350.0,316.0 350.1,316.5 350.3,316.9 350.4,317.4 350.6,317.9 350.7,318.4 350.8,318.9 351.0,319.3 351.1,319.8 351.3,320.3 351.4,320.8 351.6,321.3 351.7,321.7 351.9,322.2 352.0,322.7 352.1,323.2 352.3,323.7 352.4,324.1 352.6,324.6 352.7,325.1 352.9,325.6 353.0,326.0 353.2,326.5 353.3,327.0 353.5,327.5 353.6,328.0 353.8,328.4 353.9,328.9 354.1,329.4 354.2,329.9 354.3,330.3 354.5,330.8 354.6,331.3 354.8,331.8 354.9,332.3 355.1,332.7 355.2,333.2 355.4,333.7 355.5,334.2 355.7,334.6 355.8,335.1 356.0,335.6 356.1,336.1 356.3,336.6 356.4,337.0 356.6,337.5 356.7,338.0 356.9,338.5 357.0,338.9 357.2,339.4 357.3,339.9 357.5,340.4 357.6,340.8 357.8,341.3 357.9,341.8 358.1,342.3 358.2,342.7 358.4,343.2 358.6,343.7 358.7,344.2 358.9,344.7 359.0,345.1 359.2,345.6 359.3,346.1 359.5,346.6 359.6,347.0 359.8,347.5 359.9,348.0 360.1,348.5 360.2,348.9 360.4,349.4 360.6,349.9 360.7,350.4 360.9,350.8 361.0,351.3 361.2,351.8 361.3,352.3 361.5,352.7 361.6,353.2 361.8,353.7 362.0,354.2 362.1,354.6 362.3,355.1 362.4,355.6 362.6,356.1 362.7,356.5 362.9,357.0 363.1,357.5 363.2,358.0 363.4,358.4 363.5,358.9 363.7,359.4 363.9,359.9 364.0,360.3 364.2,360.8 364.3,361.3 364.5,361.8 364.7,362.2 364.8,362.7 365.0,363.2 365.1,363.6 365.3,364.1 365.5,364.6 365.6,365.1 365.8,365.5 365.9,366.0 366.1,366.5 366.3,367.0 366.4,367.4 366.6,367.9 366.7,368.4 366.9,368.9 367.1,369.3 367.2,369.8 367.4,370.3 367.6,370.7 367.7,371.2 367.9,371.7 368.1,372.2 368.2,372.6 368.4,373.1 368.5,373.6 368.7,374.1 368.9,374.5 369.0,375.0 369.2,375.5 369.4,375.9 369.5,376.4 369.7,376.9 369.9,377.4 370.0,377.8 370.2,378.3 370.4,378.8 370.5,379.2 370.7,379.7 370.9,380.2 371.0,380.7 371.2,381.1 371.4,381.6 371.6,382.1 371.7,382.5 371.9,383.0 372.1,383.5 372.2,383.9 372.4,384.4 372.6,384.9 372.7,385.4 372.9,385.8 373.1,386.3 373.2,386.8 373.4,387.2 373.6,387.7 373.8,388.2 373.9,388.6 374.1,389.1 374.3,389.6 374.5,390.1 374.6,390.5 374.8,391.0 375.0,391.5 375.1,391.9 375.3,392.4 375.5,392.9 375.7,393.3 375.8,393.8 376.0,394.3 376.2,394.7 376.4,395.2 376.5,395.7 376.7,396.2 376.9,396.6 377.1,397.1 377.2,397.6 377.4,398.0 377.6,398.5 377.8,399.0 377.9,399.4 378.1,399.9 378.3,400.4 378.5,400.8 378.7,401.3 378.8,401.8 379.0,402.2 379.2,402.7 379.4,403.2 379.5,403.6 379.7,404.1 379.9,404.6 380.1,405.0 380.3,405.5 380.4,406.0 380.6,406.4 380.8,406.9 381.0,407.4 381.2,407.8 381.4,408.3 381.5,408.8 381.7,409.2 381.9,409.7 382.1,410.2 382.3,410.6 382.4,411.1 382.6,411.6 382.8,412.0 383.0,412.5 383.2,413.0 383.4,413.4 383.6,413.9 383.7,414.3 383.9,414.8 384.1,415.3 384.3,415.7 384.5,416.2 384.7,416.7 384.8,417.1 385.0,417.6 385.2,418.1 385.4,418.5 385.6,419.0 385.8,419.5 386.0,419.9 386.2,420.4 386.3,420.8 386.5,421.3 386.7,421.8 386.9,422.2 387.1,422.7 387.3,423.2 387.5,423.6 387.7,424.1 387.9,424.5 388.1,425.0 388.2,425.5 388.4,425.9 388.6,426.4 388.8,426.9 389.0,427.3 389.2,427.8 389.4,428.2 389.6,428.7 389.8,429.2 390.0,429.6 390.2,430.1 390.4,430.5 390.6,431.0 390.8,431.5 391.0,431.9 391.1,432.4 391.3,432.8 391.5,433.3 391.7,433.8 391.9,434.2 392.1,434.7 392.3,435.1 392.5,435.6 392.7,436.1 392.9,436.5 393.1,437.0 393.3,437.4 393.5,437.9 393.7,438.4 393.9,438.8 394.1,439.3 394.3,439.7 394.5,440.2 394.7,440.7 394.9,441.1 395.1,441.6 395.3,442.0 395.5,442.5 395.7,442.9 395.9,443.4 396.1,443.9 396.3,444.3 396.5,444.8 396.7,445.2 396.9,445.7 397.1,446.1 397.4,446.6 397.6,447.1 397.8,447.5 398.0,448.0 398.2,448.4 398.4,448.9 398.6,449.3 398.8,449.8 399.0,450.2 399.2,450.7 399.4,451.2 399.6,451.6 399.8,452.1 400.0,452.5 400.2,453.0 400.5,453.4 400.7,453.9 400.9,454.3 401.1,454.8 401.3,455.2 401.5,455.7 401.7,456.1 401.9,456.6 402.1,457.1 402.4,457.5 402.6,458.0 402.8,458.4 403.0,458.9 403.2,459.3 403.4,459.8 403.6,460.2 403.9,460.7 404.1,461.1 404.3,461.6 404.5,462.0 404.7,462.5 404.9,462.9 405.1,463.4 405.4,463.8 405.6,464.3 405.8,464.7 406.0,465.2 406.2,465.6 406.5,466.1 406.7,466.5 406.9,467.0 407.1,467.4 407.3,467.9 407.6,468.3 407.8,468.8 408.0,469.2 408.2,469.7 408.4,470.1 408.7,470.6 408.9,471.0 409.1,471.5 409.3,471.9 409.6,472.4 409.8,472.8 410.0,473.2 410.2,473.7 410.5,474.1 410.7,474.6 410.9,475.0 411.1,475.5 411.4,475.9 411.6,476.4 411.8,476.8 412.0,477.3 412.3,477.7 412.5,478.1 412.7,478.6 413.0,479.0 413.2,479.5 413.4,479.9 413.6,480.4 413.9,480.8 414.1,481.3 414.3,481.7 414.6,482.1 414.8,482.6 415.0,483.0 415.3,483.5 415.5,483.9 415.7,484.4 416.0,484.8 416.2,485.2 416.4,485.7 416.7,486.1 416.9,486.6 417.2,487.0 417.4,487.4 417.6,487.9 417.9,488.3 418.1,488.8 418.3,489.2 418.6,489.6 418.8,490.1 419.1,490.5 419.3,491.0 419.5,491.4 419.8,491.8 420.0,492.3 420.3,492.7 420.5,493.1 420.8,493.6 421.0,494.0 421.2,494.5 421.5,494.9 421.7,495.3 422.0,495.8 422.2,496.2 422.5,496.6 422.7,497.1 423.0,497.5 423.2,497.9 423.5,498.4 423.7,498.8 424.0,499.2 424.2,499.7 424.5,500.1 424.7,500.5 425.0,501.0 425.2,501.4 425.5,501.8 425.7,502.3 426.0,502.7 426.2,503.1 426.5,503.6 426.7,504.0 427.0,504.4 427.2,504.9 427.5,505.3 427.7,505.7 428.0,506.2 428.2,506.6 428.5,507.0 428.8,507.4 429.0,507.9 429.3,508.3 429.5,508.7 429.8,509.2 430.1,509.6 430.3,510.0 430.6,510.4 430.8,510.9 431.1,511.3 431.4,511.7 431.6,512.1 431.9,512.6 432.2,513.0 432.4,513.4 432.7,513.8 432.9,514.3 433.2,514.7 433.5,515.1 433.7,515.5 434.0,516.0 434.3,516.4 434.5,516.8 434.8,517.2 435.1,517.6 435.4,518.1 435.6,518.5 435.9,518.9 436.2,519.3 436.4,519.7 436.7,520.2 437.0,520.6 437.3,521.0 437.5,521.4 437.8,521.8 438.1,522.3 438.4,522.7 438.6,523.1 438.9,523.5 439.2,523.9 439.5,524.3 439.7,524.8 440.0,525.2 440.3,525.6 440.6,526.0 440.9,526.4 441.1,526.8 441.4,527.2 441.7,527.7 442.0,528.1 442.3,528.5 442.6,528.9 442.8,529.3 443.1,529.7 443.4,530.1 443.7,530.5 444.0,530.9 444.3,531.4 444.6,531.8 444.8,532.2 445.1,532.6 445.4,533.0 445.7,533.4 446.0,533.8 446.3,534.2 446.6,534.6 446.9,535.0 447.2,535.4 447.5,535.8 447.8,536.2 448.1,536.6 448.3,537.0 448.6,537.4 448.9,537.8 449.2,538.2 449.5,538.7 449.8,539.1 450.1,539.5 450.4,539.9 450.7,540.3 451.0,540.7 451.3,541.1 451.6,541.5 451.9,541.8 452.2,542.2 452.5,542.6 452.9,543.0 453.2,543.4 453.5,543.8 453.8,544.2 454.1,544.6 454.4,545.0 454.7,545.4 455.0,545.8 455.3,546.2 455.6,546.6 455.9,547.0 456.2,547.4 456.6,547.8 456.9,548.2 457.2,548.5 457.5,548.9 457.8,549.3 458.1,549.7 458.4,550.1 458.8,550.5 459.1,550.9 459.4,551.3 459.7,551.6 460.0,552.0 460.4,552.4 460.7,552.8 461.0,553.2 461.3,553.6 461.6,553.9 462.0,554.3 462.3,554.7 462.6,555.1 462.9,555.5 463.3,555.8 463.6,556.2 463.9,556.6 464.3,557.0 464.6,557.3 464.9,557.7 465.2,558.1 465.6,558.5 465.9,558.8 466.2,559.2 466.6,559.6 466.9,560.0 467.3,560.3 467.6,560.7 467.9,561.1 468.3,561.4 468.6,561.8 468.9,562.2 469.3,562.5 469.6,562.9 470.0,563.3 470.3,563.6 470.6,564.0 471.0,564.4 471.3,564.7 471.7,565.1 472.0,565.4 472.4,565.8 472.7,566.2 473.1,566.5 473.4,566.9 473.8,567.2 474.1,567.6 474.5,568.0 474.8,568.3 475.2,568.7 475.5,569.0 475.9,569.4 476.2,569.7 476.6,570.1 476.9,570.4 477.3,570.8 477.7,571.1 478.0,571.5 478.4,571.8 478.7,572.2 479.1,572.5 479.5,572.9 479.8,573.2 480.2,573.5 480.6,573.9 480.9,574.2 481.3,574.6 481.7,574.9 482.0,575.2 482.4,575.6 482.8,575.9 483.1,576.3 483.5,576.6 483.9,576.9 484.3,577.3 484.6,577.6 485.0,577.9 485.4,578.3 485.8,578.6 486.1,578.9 486.5,579.2 486.9,579.6 487.3,579.9 487.6,580.2 488.0,580.5 488.4,580.9 488.8,581.2 489.2,581.5 489.6,581.8 489.9,582.1 490.3,582.5 490.7,582.8 491.1,583.1 491.5,583.4 491.9,583.7 492.3,584.0 492.7,584.3 493.1,584.6 493.5,585.0 493.9,585.3 494.2,585.6 494.6,585.9 495.0,586.2 495.4,586.5 495.8,586.8 496.2,587.1 496.6,587.4 497.0,587.7 497.4,588.0 497.8,588.3 498.2,588.6 498.7,588.9 499.1,589.2 499.5,589.4 499.9,589.7 500.3,590.0 500.7,590.3 501.1,590.6 501.5,590.9 501.9,591.2 502.3,591.5 502.7,591.7 503.2,592.0 503.6,592.3 504.0,592.6 504.4,592.8 504.8,593.1 505.2,593.4 505.7,593.7 506.1,593.9 506.5,594.2 506.9,594.5 507.4,594.7 507.8,595.0 508.2,595.3 508.6,595.5 509.1,595.8 509.5,596.0 509.9,596.3 510.3,596.6 510.8,596.8 511.2,597.1 511.6,597.3 512.1,597.6 512.5,597.8 512.9,598.1 513.4,598.3 513.8,598.6 514.2,598.8 514.7,599.0 515.1,599.3 515.6,599.5 516.0,599.8 516.4,600.0 516.9,600.2 517.3,600.5 517.8,600.7 518.2,600.9 518.7,601.1 519.1,601.4 519.6,601.6 520.0,601.8 520.5,602.0 520.9,602.3 521.4,602.5 521.8,602.7 522.3,602.9 522.7,603.1 523.2,603.3 523.6,603.5 524.1,603.7 524.5,603.9 525.0,604.1 525.4,604.4 525.9,604.6 526.4,604.7 526.8,604.9 527.3,605.1 527.7,605.3 528.2,605.5 528.7,605.7 529.1,605.9 529.6,606.1 530.1,606.3 530.5,606.4 531.0,606.6 531.5,606.8 531.9,607.0 532.4,607.2 532.9,607.3 533.3,607.5 533.8,607.7 534.3,607.8 534.8,608.0 535.2,608.2 535.7,608.3 536.2,608.5 536.7,608.6 537.1,608.8 537.6,608.9 538.1,609.1 538.6,609.2 539.0,609.4 539.5,609.5 540.0,609.7 540.5,609.8 541.0,610.0 541.4,610.1 541.9,610.2 542.4,610.4 542.9,610.5 543.4,610.6 543.9,610.7 544.3,610.9 544.8,611.0 545.3,611.1 545.8,611.2 546.3,611.3 546.8,611.5 547.3,611.6 547.7,611.7 548.2,611.8 548.7,611.9 549.2,612.0 549.7,612.1 550.2,612.2 550.7,612.3 551.2,612.4 551.7,612.5 552.2,612.6 552.6,612.7 553.1,612.7 553.6,612.8 554.1,612.9 554.6,613.0 555.1,613.1 555.6,613.1 556.1,613.2 556.6,613.3 557.1,613.4 557.6,613.4 558.1,613.5 558.6,613.5 559.1,613.6 559.6,613.7 560.1,613.7 560.6,613.8 561.1,613.8 561.6,613.9 562.1,613.9 562.6,614.0 563.1,614.0 563.6,614.1 564.1,614.1 564.6,614.1 565.1,614.2 565.5,614.2 566.0,614.2 566.5,614.3 567.0,614.3 567.5,614.3 568.0,614.3 568.5,614.3 569.0,614.4 569.5,614.4 570.0,614.4 570.5,614.4 571.0,614.4 571.5,614.4 572.0,614.4 572.5,614.4 573.0,614.4 573.5,614.4 574.0,614.4 574.5,614.4 575.0,614.4 575.5,614.4 576.0,614.4 576.5,614.3 577.0,614.3 577.5,614.3 578.0,614.3 578.5,614.3 579.0,614.2 579.5,614.2 580.0,614.2 580.5,614.1 581.0,614.1 581.5,614.1 582.0,614.0 582.5,614.0 583.0,614.0 583.5,613.9 584.0,613.9 584.5,613.8 585.0,613.8 585.5,613.7 586.0,613.7 586.5,613.6 587.0,613.5 587.5,613.5 588.0,613.4 588.5,613.4 589.0,613.3 589.5,613.2 590.0,613.1 590.5,613.1 591.0,613.0 591.5,612.9 592.0,612.8 592.5,612.8 593.0,612.7 593.4,612.6 593.9,612.5 594.4,612.4 594.9,612.3 595.4,612.2 595.9,612.1 596.4,612.0 596.9,611.9 597.4,611.8 597.9,611.7 598.4,611.6 598.8,611.5 599.3,611.4 599.8,611.3 600.3,611.2 600.8,611.1 601.3,611.0 601.8,610.9 602.3,610.8 602.7,610.6 603.2,610.5 603.7,610.4 604.2,610.3 604.7,610.1 605.2,610.0 605.6,609.9 606.1,609.8 606.6,609.6 607.1,609.5 607.6,609.3 608.1,609.2 608.5,609.1 609.0,608.9 609.5,608.8 610.0,608.6 610.4,608.5 610.9,608.3 611.4,608.2 611.9,608.0 612.4,607.9 612.8,607.7 613.3,607.6 613.8,607.4 614.3,607.3 614.7,607.1 615.2,606.9 615.7,606.8 616.1,606.6 616.6,606.4 617.1,606.3 617.6,606.1 618.0,605.9 618.5,605.8 619.0,605.6 619.4,605.4 619.9,605.2 620.4,605.1 620.8,604.9 621.3,604.7 621.8,604.5 622.2,604.3 622.7,604.1 623.2,604.0 623.6,603.8 624.1,603.6 624.5,603.4 625.0,603.2 625.5,603.0 625.9,602.8 626.4,602.6 626.9,602.4 627.3,602.2 627.8,602.0 628.2,601.8 628.7,601.6 629.1,601.4 629.6,601.2 630.0,601.0 630.5,600.8 631.0,600.6 631.4,600.3 631.9,600.1 632.3,599.9 632.8,599.7 633.2,599.5 633.7,599.3 634.1,599.1 634.6,598.8 635.0,598.6 635.5,598.4 635.9,598.2 636.4,597.9 636.8,597.7 637.3,597.5 637.7,597.3 638.1,597.0 638.6,596.8 639.0,596.6 639.5,596.3 639.9,596.1 640.4,595.9 640.8,595.6 641.2,595.4 641.7,595.2 642.1,594.9 642.6,594.7 643.0,594.4 643.4,594.2 643.9,594.0 644.3,593.7 644.7,593.5 645.2,593.2 645.6,593.0 646.0,592.7 646.5,592.5 646.9,592.2 647.3,592.0 647.8,591.7 648.2,591.5 648.6,591.2 649.1,591.0 649.5,590.7 649.9,590.4 650.3,590.2 650.8,589.9 651.2,589.7 651.6,589.4 652.1,589.1 652.5,588.9 652.9,588.6 653.3,588.3 653.7,588.1 654.2,587.8 654.6,587.5 655.0,587.3 655.4,587.0 655.9,586.7 656.3,586.5 656.7,586.2 657.1,585.9 657.5,585.6 658.0,585.4 658.4,585.1 658.8,584.8 659.2,584.5 659.6,584.3 660.0,584.0 660.4,583.7 660.9,583.4 661.3,583.1 661.7,582.9 662.1,582.6 662.5,582.3 662.9,582.0 663.3,581.7 663.7,581.4 664.1,581.1 664.6,580.8 665.0,580.6 665.4,580.3 665.8,580.0 666.2,579.7 666.6,579.4 667.0,579.1 667.4,578.8 667.8,578.5 668.2,578.2 668.6,577.9 669.0,577.6 669.4,577.3 669.8,577.0 670.2,576.7 670.6,576.4 671.0,576.1 671.4,575.8 671.8,575.5 672.2,575.2 672.6,574.9 673.0,574.6 673.4,574.3 673.8,574.0 674.2,573.7 674.6,573.4 675.0,573.1 675.4,572.8 675.8,572.5 676.2,572.2 676.6,571.9 677.0,571.5 677.4,571.2 677.7,570.9 678.1,570.6 678.5,570.3 678.9,570.0 679.3,569.7 679.7,569.4 680.1,569.0 680.5,568.7 680.9,568.4 681.2,568.1 681.6,567.8 682.0,567.5 682.4,567.1 682.8,566.8 683.2,566.5 683.5,566.2 683.9,565.9 684.3,565.5 684.7,565.2 685.1,564.9 685.5,564.6 685.8,564.2 686.2,563.9 686.6,563.6 687.0,563.3 687.4,562.9 687.7,562.6 688.1,562.3 688.5,562.0 688.9,561.6 689.2,561.3 689.6,561.0 690.0,560.6 690.4,560.3 690.7,560.0 691.1,559.6 691.5,559.3 691.9,559.0 692.2,558.6 692.6,558.3 693.0,558.0 693.3,557.6 693.7,557.3 694.1,557.0 694.5,556.6 694.8,556.3 695.2,555.9 695.6,555.6 695.9,555.3 696.3,554.9 696.7,554.6 697.0,554.3 697.4,553.9 697.8,553.6 698.1,553.2 698.5,552.9 698.9,552.5 699.2,552.2 699.6,551.9 700.0,551.5 700.3,551.2 700.7,550.8 701.0,550.5 701.4,550.1 701.8,549.8 702.1,549.4 702.5,549.1 702.8,548.7 703.2,548.4 703.6,548.0 703.9,547.7 704.3,547.3 704.6,547.0 705.0,546.6 705.3,546.3 705.7,545.9 706.1,545.6 706.4,545.2 706.8,544.9 707.1,544.5 707.5,544.2 707.8,543.8 708.2,543.5 708.5,543.1 708.9,542.8 709.2,542.4 709.6,542.1 709.9,541.7 710.3,541.3 710.6,541.0 711.0,540.6 711.3,540.3 711.7,539.9 712.0,539.6 712.4,539.2 712.7,538.8 713.1,538.5 713.4,538.1 713.8,537.8 714.1,537.4 714.5,537.0 714.8,536.7 715.2,536.3 715.5,535.9 715.8,535.6 716.2,535.2 716.5,534.9 716.9,534.5 717.2,534.1 717.6,533.8 717.9,533.4 718.2,533.0 718.6,532.7 718.9,532.3 719.3,531.9 719.6,531.6 719.9,531.2 720.3,530.8 720.6,530.5 721.0,530.1 721.3,529.7 721.6,529.4 722.0,529.0 722.3,528.6 722.6,528.3 723.0,527.9 723.3,527.5 723.7,527.1 724.0,526.8 724.3,526.4 724.7,526.0 725.0,525.7 725.3,525.3 725.7,524.9 726.0,524.5 726.3,524.2 726.7,523.8 727.0,523.4 727.3,523.0 727.7,522.7 728.0,522.3 728.3,521.9 728.6,521.5 729.0,521.2 729.3,520.8 729.6,520.4 730.0,520.0 730.3,519.7 730.6,519.3 730.9,518.9 731.3,518.5 731.6,518.1 731.9,517.8 732.3,517.4 732.6,517.0 732.9,516.6 733.2,516.3 733.6,515.9 733.9,515.5 734.2,515.1 734.5,514.7 734.9,514.3 735.2,514.0 735.5,513.6 735.8,513.2 736.1,512.8 736.5,512.4 736.8,512.1 737.1,511.7 737.4,511.3 737.8,510.9 738.1,510.5 738.4,510.1 738.7,509.8 739.0,509.4 739.3,509.0 739.7,508.6 740.0,508.2 740.3,507.8 740.6,507.4 740.9,507.1 741.3,506.7 741.6,506.3 741.9,505.9 742.2,505.5 742.5,505.1 742.8,504.7 743.2,504.3 743.5,504.0 743.8,503.6 744.1,503.2 744.4,502.8 744.7,502.4 745.0,502.0 745.4,501.6 745.7,501.2 746.0,500.8 746.3,500.4 746.6,500.1 746.9,499.7 747.2,499.3 747.5,498.9 747.8,498.5 748.2,498.1 748.5,497.7 748.8,497.3 749.1,496.9 749.4,496.5 749.7,496.1 750.0,495.7 750.3,495.3 750.6,494.9 750.9,494.6 751.2,494.2 751.5,493.8 751.9,493.4 752.2,493.0 752.5,492.6 752.8,492.2 753.1,491.8 753.4,491.4 753.7,491.0 754.0,490.6 754.3,490.2 754.6,489.8 754.9,489.4 755.2,489.0 755.5,488.6 755.8,488.2 756.1,487.8 756.4,487.4 756.7,487.0 757.0,486.6 757.3,486.2 757.6,485.8 757.9,485.4 758.2,485.0 758.5,484.6 758.8,484.2 759.1,483.8 759.4,483.4 759.7,483.0 760.0,482.6 760.3,482.2 760.6,481.8 760.9,481.4 761.2,481.0 761.5,480.6 761.8,480.2 762.1,479.8 762.4,479.4 762.7,479.0 763.0,478.6 763.3,478.2 763.6,477.8 763.9,477.4 764.2,477.0 764.5,476.6 764.8,476.2 765.1,475.8 765.4,475.4 765.7,475.0 766.0,474.6 766.2,474.2 766.5,473.8 766.8,473.3 767.1,472.9 767.4,472.5 767.7,472.1 768.0,471.7 768.3,471.3 768.6,470.9 768.9,470.5 769.2,470.1 769.5,469.7 769.7,469.3 770.0,468.9 770.3,468.5 770.6,468.1 770.9,467.7 771.2,467.2 771.5,466.8 771.8,466.4 772.1,466.0 772.3,465.6 772.6,465.2 772.9,464.8 773.2,464.4 773.5,464.0 773.8,463.6 774.1,463.2 774.4,462.7 774.6,462.3 774.9,461.9 775.2,461.5 775.5,461.1 775.8,460.7 776.1,460.3 776.4,459.9 776.6,459.5 776.9,459.0 777.2,458.6 777.5,458.2 777.8,457.8 778.1,457.4 778.3,457.0 778.6,456.6 778.9,456.2 779.2,455.7 779.5,455.3 779.8,454.9 780.0,454.5 780.3,454.1 780.6,453.7 780.9,453.3 781.2,452.9 781.4,452.4 781.7,452.0 782.0,451.6 782.3,451.2 782.6,450.8 782.8,450.4 783.1,450.0 783.4,449.5 783.7,449.1 784.0,448.7 784.2,448.3 784.5,447.9 784.8,447.5 785.1,447.0 785.3,446.6 785.6,446.2 785.9,445.8 786.2,445.4 786.4,445.0 786.7,444.5 787.0,444.1 787.3,443.7 787.6,443.3 787.8,442.9 788.1,442.5 788.4,442.0 788.7,441.6 788.9,441.2 789.2,440.8 789.5,440.4 789.7,439.9 790.0,439.5 790.3,439.1 790.6,438.7 790.8,438.3 791.1,437.9 791.4,437.4 791.7,437.0 791.9,436.6 792.2,436.2 792.5,435.8 792.7,435.3 793.0,434.9 793.3,434.5 793.6,434.1 793.8,433.7 794.1,433.2 794.4,432.8 794.6,432.4 794.9,432.0 795.2,431.5 795.4,431.1 795.7,430.7 796.0,430.3 796.3,429.9 796.5,429.4 796.8,429.0 797.1,428.6 797.3,428.2 797.6,427.7 797.9,427.3 798.1,426.9 798.4,426.5 798.7,426.1 798.9,425.6 799.2,425.2 799.5,424.8 799.7,424.4 800.0,423.9 800.3,423.5 800.5,423.1 800.8,422.7 801.1,422.2 801.3,421.8 801.6,421.4 801.8,421.0 802.1,420.5 802.4,420.1 802.6,419.7 802.9,419.3 803.2,418.8 803.4,418.4 803.7,418.0 804.0,417.6 804.2,417.1 804.5,416.7 804.7,416.3 805.0,415.9 805.3,415.4 805.5,415.0 805.8,414.6 806.1,414.2 806.3,413.7 806.6,413.3 806.8,412.9 807.1,412.5 807.4,412.0 807.6,411.6 807.9,411.2 808.1,410.7 808.4,410.3 808.7,409.9 808.9,409.5 809.2,409.0 809.4,408.6 809.7,408.2 810.0,407.8 810.2,407.3 810.5,406.9 810.7,406.5 811.0,406.0 811.2,405.6 811.5,405.2 811.8,404.8 812.0,404.3 812.3,403.9 812.5,403.5 812.8,403.0 813.0,402.6 813.3,402.2 813.5,401.8 813.8,401.3 814.1,400.9 814.3,400.5 814.6,400.0 814.8,399.6 815.1,399.2 815.3,398.7 815.6,398.3 815.8,397.9 816.1,397.4 816.4,397.0 816.6,396.6 816.9,396.2 817.1,395.7 817.4,395.3 817.6,394.9 817.9,394.4 818.1,394.0 818.4,393.6 818.6,393.1 818.9,392.7 819.1,392.3 819.4,391.8 819.6,391.4 819.9,391.0 820.1,390.5 820.4,390.1 820.6,389.7 820.9,389.2 821.1,388.8 821.4,388.4 821.6,387.9 821.9,387.5 822.1,387.1 822.4,386.6 822.6,386.2 822.9,385.8 823.1,385.3 823.4,384.9 823.6,384.5 823.9,384.0 824.1,383.6 824.4,383.2 824.6,382.7 824.9,382.3 825.1,381.9 825.4,381.4 825.6,381.0 825.9,380.6 826.1,380.1 826.4,379.7 826.6,379.3 826.9,378.8 827.1,378.4 827.4,378.0 827.6,377.5 827.8,377.1 828.1,376.7 828.3,376.2 828.6,375.8 828.8,375.3 829.1,374.9 829.3,374.5 829.6,374.0 829.8,373.6 830.1,373.2 830.3,372.7 830.5,372.3 830.8,371.9 831.0,371.4 831.3,371.0 831.5,370.6 831.8,370.1 832.0,369.7 832.3,369.2 832.5,368.8 832.7,368.4 833.0,367.9 833.2,367.5 833.5,367.1 833.7,366.6 834.0,366.2 834.2,365.7 834.4,365.3 834.7,364.9 834.9,364.4 835.2,364.0 835.4,363.6 835.6,363.1 835.9,362.7 836.1,362.2 836.4,361.8 836.6,361.4 836.8,360.9 837.1,360.5 837.3,360.0 837.6,359.6 837.8,359.2 838.0,358.7 838.3,358.3 838.5,357.8 838.8,357.4 839.0,357.0 839.2,356.5 839.5,356.1 839.7,355.7 840.0,355.2 840.2,354.8 840.4,354.3 840.7,353.9 840.9,353.5 841.1,353.0 841.4,352.6 841.6,352.1 841.9,351.7 842.1,351.3 842.3,350.8 842.6,350.4 842.8,349.9 843.0,349.5 843.3,349.0 843.5,348.6 843.8,348.2 844.0,347.7 844.2,347.3 844.5,346.8 844.7,346.4 844.9,346.0 845.2,345.5 845.4,345.1 845.6,344.6 845.9,344.2 846.1,343.8 846.3,343.3 846.6,342.9 846.8,342.4 847.0,342.0 847.3,341.5 847.5,341.1 847.7,340.7 848.0,340.2 848.2,339.8 848.4,339.3 848.7,338.9 848.9,338.4 849.1,338.0 849.4,337.6 849.6,337.1 849.8,336.7 850.1,336.2 850.3,335.8 850.5,335.3 850.8,334.9 851.0,334.5 851.2,334.0 851.5,333.6 851.7,333.1 851.9,332.7 852.2,332.2 852.4,331.8 852.6,331.4 852.8,330.9 853.1,330.5 853.3,330.0 853.5,329.6 853.8,329.1 854.0,328.7 854.2,328.3 854.5,327.8 854.7,327.4 854.9,326.9 855.1,326.5 855.4,326.0 855.6,325.6 855.8,325.1 856.1,324.7 856.3,324.2 856.5,323.8 856.7,323.4 857.0,322.9 857.2,322.5 857.4,322.0 857.7,321.6 857.9,321.1 858.1,320.7 858.3,320.2 858.6,319.8 858.8,319.4 859.0,318.9 859.2,318.5 859.5,318.0 859.7,317.6 859.9,317.1 860.2,316.7 860.4,316.2 860.6,315.8 860.8,315.3 861.1,314.9 861.3,314.4 861.5,314.0 861.7,313.6 862.0,313.1 862.2,312.7 862.4,312.2 862.6,311.8 862.9,311.3 863.1,310.9 863.3,310.4 863.5,310.0 863.8,309.5 864.0,309.1 864.2,308.6 864.4,308.2 864.7,307.7 864.9,307.3 865.1,306.8 865.3,306.4 865.5,306.0 865.8,305.5 866.0,305.1 866.2,304.6 866.4,304.2 866.7,303.7 866.9,303.3 867.1,302.8 867.3,302.4 867.5,301.9 867.8,301.5 868.0,301.0 868.2,300.6 868.4,300.1 868.7,299.7 868.9,299.2 869.1,298.8 869.3,298.3 869.5,297.9 869.8,297.4 870.0,297.0 870.2,296.5 870.4,296.1 870.6,295.6 870.9,295.2 871.1,294.7 871.3,294.3 871.5,293.8 871.7,293.4 872.0,293.0 872.2,292.5 872.4,292.1 872.6,291.6 872.8,291.2 873.1,290.7 873.3,290.3 873.5,289.8 873.7,289.4 873.9,288.9 874.2,288.5 874.4,288.0 874.6,287.6 874.8,287.1 875.0,286.7 875.2,286.2 875.5,285.8 875.7,285.3 875.9,284.9 876.1,284.4 876.3,284.0 876.6,283.5 876.8,283.1 877.0,282.6 877.2,282.2 877.4,281.7 877.6,281.2 877.9,280.8 878.1,280.3 878.3,279.9 878.5,279.4 878.7,279.0 878.9,278.5 879.2,278.1 879.4,277.6 879.6,277.2 879.8,276.7 880.0,276.3 880.2,275.8 880.4,275.4 880.7,274.9 880.9,274.5 881.1,274.0 881.3,273.6 881.5,273.1 881.7,272.7 881.9,272.2 882.2,271.8 882.4,271.3 882.6,270.9 882.8,270.4 883.0,270.0 883.2,269.5 883.4,269.1 883.7,268.6 883.9,268.2 884.1,267.7 884.3,267.3 884.5,266.8 884.7,266.3 884.9,265.9 885.2,265.4 885.4,265.0 885.6,264.5 885.8,264.1 886.0,263.6 886.2,263.2 886.4,262.7 886.6,262.3 886.8,261.8 887.1,261.4 887.3,260.9 887.5,260.5 887.7,260.0 887.9,259.6 888.1,259.1 888.3,258.6 888.5,258.2 888.8,257.7 889.0,257.3 889.2,256.8 889.4,256.4 889.6,255.9 889.8,255.5 890.0,255.0 890.2,254.6 890.4,254.1 890.6,253.7 890.9,253.2 891.1,252.7 891.3,252.3 891.5,251.8 891.7,251.4 891.9,250.9 892.1,250.5 892.3,250.0 892.5,249.6 892.7,249.1 892.9,248.7 893.2,248.2 893.4,247.7 893.6,247.3 893.8,246.8 894.0,246.4 894.2,245.9 894.4,245.5 894.6,245.0 894.8,244.6 895.0,244.1 895.2,243.7 895.4,243.2 895.7,242.7 895.9,242.3 896.1,241.8 896.3,241.4 896.5,240.9 896.7,240.5 896.9,240.0 897.1,239.6 897.3,239.1 897.5,238.6 897.7,238.2 897.9,237.7 898.1,237.3 898.3,236.8 898.5,236.4 898.8,235.9 899.0,235.5 899.2,235.0 899.4,234.5 899.6,234.1 899.8,233.6 900.0,233.2 900.2,232.7 900.4,232.3 900.6,231.8 900.8,231.4 901.0,230.9 901.2,230.4 901.4,230.0 901.6,229.5 901.8,229.1 902.0,228.6 902.2,228.2 902.4,227.7 902.6,227.2 902.8,226.8 903.1,226.3 903.3,225.9 903.5,225.4 903.7,225.0 903.9,224.5 904.1,224.1 904.3,223.6 904.5,223.1 904.7,222.7 904.9,222.2 905.1,221.8 905.3,221.3 905.5,220.9 905.7,220.4 905.9,219.9 906.1,219.5 906.3,219.0 906.5,218.6 906.7,218.1 906.9,217.7 907.1,217.2 907.3,216.7 907.5,216.3 907.7,215.8 907.9,215.4 908.1,214.9 908.3,214.4 908.5,214.0 908.7,213.5 908.9,213.1 909.1,212.6 909.3,212.2 909.5,211.7 909.7,211.2 909.9,210.8 910.1,210.3 910.3,209.9 910.5,209.4 910.7,209.0 910.9,208.5 911.1,208.0 911.3,207.6 911.5,207.1 911.7,206.7 911.9,206.2 912.1,205.7 912.3,205.3 912.5,204.8 912.7,204.4 912.9,203.9 913.1,203.4 913.3,203.0 913.5,202.5 913.7,202.1 913.9,201.6 914.1,201.2 914.3,200.7 914.5,200.2 914.7,199.8 914.9,199.3 915.1,198.9 915.3,198.4 915.5,197.9 915.7,197.5 915.9,197.0 916.1,196.6 916.3,196.1 916.5,195.6 916.7,195.2 916.9,194.7 917.1,194.3 917.3,193.8 917.5,193.3 917.7,192.9 917.9,192.4 918.1,192.0 918.3,191.5 918.5,191.0 918.7,190.6 918.9,190.1 919.1,189.7 919.3,189.2 919.4,188.7 919.6,188.3 919.8,187.8 920.0,187.4 920.2,186.9 920.4,186.4 920.6,186.0 920.8,185.5 921.0,185.1 921.2,184.6 921.4,184.1 921.6,183.7 921.8,183.2 922.0,182.8 922.2,182.3 922.4,181.8 922.6,181.4 922.8,180.9 923.0,180.5 923.2,180.0 923.4,179.5 923.6,179.1 923.7,178.6 923.9,178.2 924.1,177.7 924.3,177.2 924.5,176.8 924.7,176.3 924.9,175.9 925.1,175.4 925.3,174.9 925.5,174.5 925.7,174.0 925.9,173.5 926.1,173.1 926.3,172.6 926.5,172.2 926.7,171.7 926.8,171.2 927.0,170.8 927.2,170.3 927.4,169.9 927.6,169.4 927.8,168.9 928.0,168.5 928.2,168.0 928.4,167.5 928.6,167.1 928.8,166.6 929.0,166.2 929.2,165.7 929.3,165.2 929.5,164.8 929.7,164.3 929.9,163.9 930.1,163.4 930.3,162.9 930.5,162.5 930.7,162.0 930.9,161.5 931.1,161.1 931.3,160.6 931.5,160.2 931.6,159.7 931.8,159.2 932.0,158.8 932.2,158.3 932.4,157.8 932.6,157.4 932.8,156.9 933.0,156.5 933.2,156.0 933.4,155.5 933.5,155.1 933.7,154.6 933.9,154.1 934.1,153.7 934.3,153.2 934.5,152.8 934.7,152.3 934.9,151.8 935.1,151.4 935.3,150.9 935.4,150.4 935.6,150.0 935.8,149.5 936.0,149.1 936.2,148.6 936.4,148.1 936.6,147.7 936.8,147.2 937.0,146.7 937.1,146.3 937.3,145.8 937.5,145.4 937.7,144.9 937.9,144.4 938.1,144.0 938.3,143.5 938.5,143.0 938.6,142.6 938.8,142.1 939.0,141.6 939.2,141.2 939.4,140.7 939.6,140.3 939.8,139.8 940.0,139.3 940.2,138.9 940.3,138.4 940.5,137.9 940.7,137.5 940.9,137.0 941.1,136.5 941.3,136.1 941.5,135.6 941.6,135.2 941.8,134.7 942.0,134.2 942.2,133.8 942.4,133.3 942.6,132.8 942.8,132.4 943.0,131.9 943.1,131.4 943.3,131.0 943.5,130.5 943.7,130.0 943.9,129.6 944.1,129.1 944.3,128.7 944.4,128.2 944.6,127.7 944.8,127.3 945.0,126.8 945.2,126.3 945.4,125.9 945.5,125.4 945.7,124.9 945.9,124.5 946.1,124.0 946.3,123.5 946.5,123.1 946.7,122.6 946.8,122.1 947.0,121.7 947.2,121.2 947.4,120.8 947.6,120.3 947.8,119.8 947.9,119.4 948.1,118.9 948.3,118.4 948.5,118.0 948.7,117.5 948.9,117.0 949.1,116.6 949.2,116.1 949.4,115.6 949.6,115.2 949.8,114.7 950.0,114.2 950.2,113.8 950.3,113.3 950.5,112.8 950.7,112.4 950.9,111.9 951.1,111.5 951.3,111.0 951.4,110.5 951.6,110.1 951.8,109.6 952.0,109.1 952.2,108.7 952.3,108.2 952.5,107.7 952.7,107.3 952.9,106.8 953.1,106.3 953.3,105.9 953.4,105.4 953.6,104.9 953.8,104.5 954.0,104.0" fill="none" stroke="#000" stroke-width="12" stroke-linejoin="round"/></g>
<path d="M197.2,120.0 V828.6 H1076.4" fill="none" stroke="#000" stroke-width="3.2" stroke-linejoin="miter"/>
<path d="M197.2,121.3 H210.7 M197.2,192.1 H204.2 M197.2,262.8 H210.7 M197.2,333.6 H204.2 M197.2,404.4 H210.7 M197.2,475.2 H204.2 M197.2,545.9 H210.7 M197.2,616.7 H204.2 M197.2,687.5 H210.7 M197.2,758.2 H204.2 M489.8,828.6 V815.1 M782.4,828.6 V815.1 M1075.0,828.6 V818.6 M343.5,828.6 V821.6 M636.1,828.6 V821.6 M928.7,828.6 V821.6" stroke="#000" stroke-width="2.8" fill="none"/>
<path d="M532.9,445.0 L542.3,598.8" stroke="#1f3ff0" stroke-width="4.2" fill="none"/>
<path d="M544.4,632.3 L532.8,595.3 L551.4,594.2 Z" fill="#1f3ff0"/>
<path d="M532.9,445.0 L563.6,557.5" stroke="#1f3ff0" stroke-width="4.2" fill="none"/>
<path d="M572.4,589.9 L553.5,556.1 L571.5,551.2 Z" fill="#1f3ff0"/>
<circle cx="577.3" cy="610.6" r="18.6" fill="none" stroke="#1f3ff0" stroke-width="4.5"/>
<circle cx="554.6" cy="660.4" r="18.6" fill="none" stroke="#1f3ff0" stroke-width="4.5"/>
<path d="M190,248.6 H1080" stroke="#fff" stroke-opacity="0.62" stroke-width="1.2"/>
<g font-family="Liberation Serif" fill="#000"><text x="180.0" y="136.2" text-anchor="end" font-size="50">400</text>
<text x="180.0" y="276.6" text-anchor="end" font-size="50">350</text>
<text x="180.0" y="417.2" text-anchor="end" font-size="50">300</text>
<text x="180.0" y="557.8" text-anchor="end" font-size="50">250</text>
<text x="180.0" y="698.4" text-anchor="end" font-size="50">200</text>
<text x="180.0" y="839.2" text-anchor="end" font-size="50">150</text>
<text x="194.2" y="884.6" text-anchor="middle" font-size="50">0.03</text>
<text x="489.0" y="884.6" text-anchor="middle" font-size="50">0.06</text>
<text x="785.7" y="884.6" text-anchor="middle" font-size="50">0.09</text>
<text x="1073.5" y="884.6" text-anchor="middle" font-size="50">0.12</text>
<text transform="translate(71.5,479.5) rotate(-90)" text-anchor="middle" font-size="50">Temperature variation &#916;<tspan font-style="italic">T</tspan>(&#176;C)</text>
<text x="623.6" y="933.4" text-anchor="middle" font-size="50">Central angel <tspan font-style="italic">&#945;</tspan>(&#176;)</text>
<text x="613.8" y="989.5" text-anchor="middle" font-size="50">(a)</text>
<text x="495.5" y="410.8" font-size="50">&#916;<tspan font-style="italic">T</tspan><tspan font-size="29" dy="16.4">min</tspan></text>
<text x="871.5" y="671.9" font-size="50"><tspan font-style="italic">L</tspan>=15 m</text>
<text x="871.5" y="719.7" font-size="50"><tspan font-style="italic">R</tspan>=200 m</text><svg x="216.1" y="0" width="59.8" height="120" overflow="hidden"><path d="M-11.9,30.1 H53.8" stroke="#dc2ce6" stroke-width="11.9" stroke-linecap="round"/></svg>
<svg x="214.2" y="0" width="61.7" height="120" overflow="hidden"><path d="M5.3,79.1 H72.3" stroke="#40d440" stroke-width="10.6" stroke-linecap="round"/></svg>
<svg x="466.1" y="0" width="30.7" height="120" overflow="hidden"><path d="M-11.9,30.1 H24.8" stroke="#e60c0c" stroke-width="11.9" stroke-linecap="round"/></svg>
<svg x="522.3" y="0" width="25.5" height="120" overflow="hidden"><path d="M6.0,30.1 H37.4" stroke="#e60c0c" stroke-width="11.9" stroke-linecap="round"/></svg>
<svg x="466.1" y="0" width="80.5" height="120" overflow="hidden"><path d="M-10.8,79.3 H75.1" stroke="#000000" stroke-width="10.8" stroke-linecap="round"/></svg>
<g fill="#2f6fe6"><circle cx="741.9" cy="30.1" r="6.3"/><circle cx="766.8" cy="30.1" r="6.3"/><circle cx="792.5" cy="30.1" r="6.3"/><circle cx="817.5" cy="30.1" r="6.3"/></g>
<text x="284.9" y="41.8" font-size="50" font-style="italic" stroke="#000" stroke-width="0.5">t</text>
<path d="M297.8,41.8 L318.0,7.0" stroke="#000" stroke-width="1.0"/>
<text x="311.6" y="41.8" font-size="50" font-style="italic" stroke="#000" stroke-width="0.5">r</text>
<text x="333.0" y="58.5" font-size="27">0</text>
<rect x="347.9" y="19.8" width="26.1" height="2.6" fill="#000"/><rect x="347.9" y="27.9" width="26.1" height="2.5" fill="#000"/>
<text x="374.9" y="41.8" font-size="50">0.10</text>
<text x="557.5" y="41.8" font-size="50" font-style="italic" stroke="#000" stroke-width="0.5">t</text>
<path d="M570.4,41.8 L590.6,7.0" stroke="#000" stroke-width="1.0"/>
<text x="584.2" y="41.8" font-size="50" font-style="italic" stroke="#000" stroke-width="0.5">r</text>
<text x="605.6" y="58.5" font-size="27">0</text>
<rect x="620.5" y="19.8" width="26.1" height="2.6" fill="#000"/><rect x="620.5" y="27.9" width="26.1" height="2.5" fill="#000"/>
<text x="647.5" y="41.8" font-size="50">0.15</text>
<text x="831.4" y="41.8" font-size="50" font-style="italic" stroke="#000" stroke-width="0.5">t</text>
<path d="M844.3,41.8 L864.5,7.0" stroke="#000" stroke-width="1.0"/>
<text x="858.1" y="41.8" font-size="50" font-style="italic" stroke="#000" stroke-width="0.5">r</text>
<text x="879.5" y="58.5" font-size="27">0</text>
<rect x="894.4" y="19.8" width="26.1" height="2.6" fill="#000"/><rect x="894.4" y="27.9" width="26.1" height="2.5" fill="#000"/>
<text x="921.4" y="41.8" font-size="50">0.20</text>
<text x="284.9" y="92.3" font-size="50" font-style="italic" stroke="#000" stroke-width="0.5">t</text>
<path d="M297.8,92.3 L318.0,57.5" stroke="#000" stroke-width="1.0"/>
<text x="311.6" y="92.3" font-size="50" font-style="italic" stroke="#000" stroke-width="0.5">r</text>
<text x="333.0" y="109.0" font-size="27">0</text>
<rect x="347.9" y="70.3" width="26.1" height="2.6" fill="#000"/><rect x="347.9" y="78.4" width="26.1" height="2.5" fill="#000"/>
<text x="374.9" y="92.3" font-size="50">0.25</text>
<text x="557.5" y="92.3" font-size="50" font-style="italic" stroke="#000" stroke-width="0.5">t</text>
<path d="M570.4,92.3 L590.6,57.5" stroke="#000" stroke-width="1.0"/>
<text x="584.2" y="92.3" font-size="50" font-style="italic" stroke="#000" stroke-width="0.5">r</text>
<text x="605.6" y="109.0" font-size="27">0</text>
<rect x="620.5" y="70.3" width="26.1" height="2.6" fill="#000"/><rect x="620.5" y="78.4" width="26.1" height="2.5" fill="#000"/>
<text x="647.5" y="92.3" font-size="50">0.30</text></g>
<clipPath id="clipR"><rect x="1535.7" y="135.2" width="874.3" height="700.0"/></clipPath>
<g clip-path="url(#clipR)"><path d="M1616.9,125.2 1617.0,125.7 1617.0,126.2 1617.1,126.6 1617.1,127.1 1617.1,127.6 1617.2,128.1 1617.2,128.6 1617.3,129.1 1617.3,129.6 1617.3,130.1 1617.4,130.6 1617.4,131.1 1617.5,131.6 1617.5,132.1 1617.5,132.6 1617.6,133.1 1617.6,133.6 1617.7,134.1 1617.7,134.6 1617.7,135.1 1617.8,135.6 1617.8,136.1 1617.9,136.6 1617.9,137.1 1617.9,137.6 1618.0,138.1 1618.0,138.6 1618.1,139.1 1618.1,139.6 1618.2,140.1 1618.2,140.6 1618.2,141.1 1618.3,141.6 1618.3,142.1 1618.4,142.6 1618.4,143.1 1618.4,143.6 1618.5,144.1 1618.5,144.6 1618.6,145.1 1618.6,145.6 1618.7,146.1 1618.7,146.6 1618.7,147.1 1618.8,147.6 1618.8,148.1 1618.9,148.6 1618.9,149.1 1618.9,149.6 1619.0,150.1 1619.0,150.6 1619.1,151.1 1619.1,151.6 1619.2,152.1 1619.2,152.6 1619.2,153.1 1619.3,153.6 1619.3,154.1 1619.4,154.6 1619.4,155.1 1619.5,155.6 1619.5,156.0 1619.5,156.5 1619.6,157.0 1619.6,157.5 1619.7,158.0 1619.7,158.5 1619.8,159.0 1619.8,159.5 1619.8,160.0 1619.9,160.5 1619.9,161.0 1620.0,161.5 1620.0,162.0 1620.1,162.5 1620.1,163.0 1620.1,163.5 1620.2,164.0 1620.2,164.5 1620.3,165.0 1620.3,165.5 1620.4,166.0 1620.4,166.5 1620.4,167.0 1620.5,167.5 1620.5,168.0 1620.6,168.5 1620.6,169.0 1620.7,169.5 1620.7,169.5 M1624.6,212.4 1624.7,212.8 1624.7,213.3 1624.8,213.8 1624.8,214.3 1624.9,214.8 1624.9,215.3 1625.0,215.8 1625.0,216.3 1625.1,216.8 1625.1,217.3 1625.2,217.8 1625.2,217.8 M1629.6,260.6 1629.7,261.1 1629.7,261.6 1629.8,262.1 1629.8,262.6 1629.9,263.0 1629.9,263.5 1630.0,264.0 1630.1,264.5 1630.1,265.0 1630.2,265.5 1630.2,266.0 1630.2,266.1 M1635.2,308.8 1635.3,309.2 1635.4,309.7 1635.4,310.2 1635.5,310.7 1635.5,311.2 1635.6,311.7 1635.7,312.2 1635.7,312.7 1635.8,313.2 1635.9,313.7 1635.9,314.2 1636.0,314.7 1636.0,315.2 1636.1,315.7 1636.2,316.2 1636.2,316.7 1636.3,317.2 1636.4,317.7 1636.4,318.2 1636.5,318.7 1636.6,319.2 1636.6,319.7 1636.7,320.1 1636.7,320.6 1636.8,321.1 1636.9,321.6 1636.9,322.1 1637.0,322.6 1637.1,323.1 1637.1,323.6 1637.2,324.1 1637.3,324.6 1637.3,325.1 1637.4,325.6 1637.5,326.1 1637.5,326.6 1637.6,327.1 1637.6,327.6 1637.7,328.1 1637.8,328.6 1637.8,329.1 1637.9,329.6 1638.0,330.1 1638.0,330.6 1638.1,331.1 1638.2,331.5 1638.2,332.0 1638.3,332.5 1638.4,333.0 1638.4,333.5 1638.5,334.0 1638.6,334.5 1638.6,335.0 1638.7,335.5 1638.8,336.0 1638.8,336.5 1638.9,337.0 1639.0,337.5 1639.0,338.0 1639.1,338.5 1639.2,339.0 1639.2,339.5 1639.3,340.0 1639.4,340.5 1639.4,341.0 1639.5,341.5 1639.6,342.0 1639.6,342.5 1639.7,342.9 1639.8,343.4 1639.8,343.9 1639.9,344.4 1640.0,344.9 1640.0,345.4 1640.1,345.9 1640.2,346.4 1640.3,346.9 1640.3,347.4 1640.4,347.9 1640.5,348.4 1640.5,348.9 1640.6,349.4 1640.7,349.9 1640.7,350.4 1640.8,350.9 1640.9,351.4 1640.9,351.9 1641.0,352.4 1641.1,352.9 1641.1,352.9 M1647.5,395.4 1647.6,395.9 1647.7,396.4 1647.8,396.9 1647.8,397.3 1647.9,397.8 1648.0,398.3 1648.1,398.8 1648.2,399.3 1648.2,399.8 1648.3,400.3 1648.4,400.8 1648.4,400.8 M1655.9,443.2 1656.0,443.6 1656.1,444.1 1656.2,444.6 1656.3,445.1 1656.4,445.6 1656.5,446.1 1656.6,446.6 1656.7,447.1 1656.8,447.6 1656.9,448.0 1657.0,448.5 1657.0,448.6 M1665.9,490.6 1666.0,491.1 1666.1,491.6 1666.2,492.1 1666.4,492.5 1666.5,493.0 1666.6,493.5 1666.7,494.0 1666.8,494.5 1666.9,495.0 1667.0,495.5 1667.2,496.0 1667.3,496.4 1667.4,496.9 1667.5,497.4 1667.6,497.9 1667.7,498.4 1667.9,498.9 1668.0,499.4 1668.1,499.8 1668.2,500.3 1668.3,500.8 1668.4,501.3 1668.6,501.8 1668.7,502.3 1668.8,502.8 1668.9,503.2 1669.0,503.7 1669.2,504.2 1669.3,504.7 1669.4,505.2 1669.5,505.7 1669.6,506.2 1669.8,506.6 1669.9,507.1 1670.0,507.6 1670.1,508.1 1670.3,508.6 1670.4,509.1 1670.5,509.5 1670.6,510.0 1670.7,510.5 1670.9,511.0 1671.0,511.5 1671.1,512.0 1671.2,512.5 1671.4,512.9 1671.5,513.4 1671.6,513.9 1671.7,514.4 1671.9,514.9 1672.0,515.4 1672.1,515.8 1672.2,516.3 1672.4,516.8 1672.5,517.3 1672.6,517.8 1672.7,518.3 1672.9,518.7 1673.0,519.2 1673.1,519.7 1673.3,520.2 1673.4,520.7 1673.5,521.2 1673.6,521.6 1673.8,522.1 1673.9,522.6 1674.0,523.1 1674.2,523.6 1674.3,524.1 1674.4,524.5 1674.6,525.0 1674.7,525.5 1674.8,526.0 1675.0,526.5 1675.1,527.0 1675.2,527.4 1675.4,527.9 1675.5,528.4 1675.6,528.9 1675.8,529.4 1675.9,529.8 1676.0,530.3 1676.2,530.8 1676.3,531.3 1676.4,531.8 1676.6,532.2 1676.7,532.7 1676.8,533.2 1677.0,533.7 1677.0,533.7 M1690.1,574.7 1690.3,575.1 1690.5,575.6 1690.6,576.0 1690.8,576.5 1691.0,577.0 1691.1,577.4 1691.3,577.9 1691.5,578.4 1691.7,578.9 1691.8,579.3 1692.0,579.8 1692.0,579.8 M1709.2,619.2 1709.5,619.6 1709.7,620.1 1709.9,620.5 1710.2,620.9 1710.4,621.4 1710.6,621.8 1710.9,622.3 1711.1,622.7 1711.3,623.2 1711.6,623.6 1711.8,624.0 1711.8,624.1 M1735.8,659.7 1736.1,660.0 1736.4,660.4 1736.7,660.8 1737.1,661.2 1737.4,661.5 1737.7,661.9 1738.1,662.3 1738.4,662.7 1738.7,663.0 1739.1,663.4 1739.4,663.8 1739.7,664.1 1740.1,664.5 1740.4,664.8 1740.8,665.2 1741.1,665.6 1741.5,665.9 1741.8,666.3 1742.2,666.6 1742.5,667.0 1742.9,667.3 1743.2,667.7 1743.6,668.0 1744.0,668.4 1744.3,668.7 1744.7,669.1 1745.0,669.4 1745.4,669.8 1745.8,670.1 1746.1,670.5 1746.5,670.8 1746.9,671.1 1747.2,671.5 1747.6,671.8 1748.0,672.1 1748.4,672.5 1748.7,672.8 1749.1,673.1 1749.5,673.4 1749.9,673.8 1750.3,674.1 1750.6,674.4 1751.0,674.7 1751.4,675.1 1751.8,675.4 1752.2,675.7 1752.6,676.0 1753.0,676.3 1753.4,676.6 1753.8,676.9 1754.2,677.2 1754.6,677.5 1755.0,677.8 1755.4,678.1 1755.8,678.4 1756.2,678.7 1756.6,679.0 1757.0,679.3 1757.4,679.6 1757.8,679.9 1758.2,680.1 1758.6,680.4 1759.0,680.7 1759.5,681.0 1759.9,681.3 1760.3,681.5 1760.7,681.8 1761.1,682.1 1761.6,682.3 1762.0,682.6 1762.4,682.9 1762.8,683.1 1763.3,683.4 1763.7,683.6 1764.1,683.9 1764.6,684.1 1765.0,684.4 1765.4,684.6 1765.9,684.9 1766.3,685.1 1766.7,685.4 1767.2,685.6 1767.6,685.8 1768.1,686.1 1768.5,686.3 1769.0,686.5 1769.4,686.7 1769.9,686.9 1770.3,687.2 1770.3,687.2 M1812.1,695.1 1812.6,695.1 1813.1,695.0 1813.6,695.0 1814.1,694.9 1814.6,694.9 1815.1,694.8 1815.6,694.8 1816.1,694.8 1816.6,694.7 1817.1,694.6 1817.6,694.6 1817.6,694.6 M1858.6,682.1 1859.0,681.9 1859.4,681.7 1859.9,681.5 1860.4,681.3 1860.8,681.1 1861.2,680.8 1861.7,680.6 1862.1,680.4 1862.6,680.2 1863.0,680.0 1863.5,679.7 1863.5,679.7 M1899.9,657.0 1900.3,656.7 1900.7,656.4 1901.1,656.1 1901.5,655.8 1901.9,655.5 1902.3,655.2 1902.7,654.9 1903.1,654.6 1903.5,654.3 1903.9,654.0 1904.3,653.7 1904.7,653.4 1905.1,653.1 1905.5,652.8 1905.9,652.5 1906.3,652.2 1906.7,651.9 1907.1,651.6 1907.5,651.3 1907.9,650.9 1908.3,650.6 1908.7,650.3 1909.1,650.0 1909.5,649.7 1909.9,649.4 1910.3,649.1 1910.6,648.8 1911.0,648.5 1911.4,648.2 1911.8,647.8 1912.2,647.5 1912.6,647.2 1913.0,646.9 1913.4,646.6 1913.8,646.3 1914.2,646.0 1914.5,645.6 1914.9,645.3 1915.3,645.0 1915.7,644.7 1916.1,644.4 1916.5,644.1 1916.9,643.7 1917.2,643.4 1917.6,643.1 1918.0,642.8 1918.4,642.5 1918.8,642.1 1919.2,641.8 1919.5,641.5 1919.9,641.2 1920.3,640.9 1920.7,640.5 1921.1,640.2 1921.5,639.9 1921.8,639.6 1922.2,639.2 1922.6,638.9 1923.0,638.6 1923.4,638.3 1923.7,637.9 1924.1,637.6 1924.5,637.3 1924.9,637.0 1925.3,636.6 1925.6,636.3 1926.0,636.0 1926.4,635.6 1926.8,635.3 1927.1,635.0 1927.5,634.7 1927.9,634.3 1928.3,634.0 1928.6,633.7 1929.0,633.3 1929.4,633.0 1929.8,632.7 1930.1,632.3 1930.5,632.0 1930.9,631.7 1931.2,631.3 1931.6,631.0 1932.0,630.7 1932.4,630.3 1932.7,630.0 1933.1,629.7 1933.5,629.3 1933.8,629.0 1934.2,628.7 1934.2,628.6 M1964.9,598.6 1965.3,598.2 1965.6,597.8 1966.0,597.5 1966.3,597.1 1966.6,596.8 1967.0,596.4 1967.3,596.0 1967.7,595.7 1968.0,595.3 1968.4,594.9 1968.7,594.6 1968.7,594.6 M1997.4,562.5 1997.7,562.2 1998.0,561.8 1998.4,561.4 1998.7,561.0 1999.0,560.6 1999.3,560.3 1999.7,559.9 2000.0,559.5 2000.3,559.1 2000.6,558.7 2001.0,558.4 2001.0,558.3 M2028.1,525.0 2028.4,524.6 2028.7,524.2 2029.0,523.8 2029.3,523.4 2029.6,523.0 2030.0,522.6 2030.3,522.2 2030.6,521.9 2030.9,521.5 2031.2,521.1 2031.5,520.7 2031.8,520.3 2032.1,519.9 2032.4,519.5 2032.7,519.1 2033.0,518.7 2033.3,518.3 2033.6,517.9 2033.9,517.5 2034.2,517.1 2034.6,516.7 2034.9,516.3 2035.2,515.9 2035.5,515.5 2035.8,515.1 2036.1,514.7 2036.4,514.3 2036.7,513.9 2037.0,513.6 2037.3,513.2 2037.6,512.8 2037.9,512.4 2038.2,512.0 2038.5,511.6 2038.8,511.2 2039.1,510.8 2039.4,510.4 2039.7,510.0 2040.0,509.6 2040.3,509.2 2040.6,508.8 2040.9,508.4 2041.2,508.0 2041.5,507.6 2041.8,507.2 2042.1,506.8 2042.5,506.4 2042.8,506.0 2043.1,505.6 2043.4,505.2 2043.7,504.8 2044.0,504.4 2044.3,504.0 2044.6,503.6 2044.9,503.2 2045.2,502.8 2045.5,502.4 2045.8,502.0 2046.1,501.6 2046.4,501.2 2046.7,500.8 2047.0,500.4 2047.3,500.0 2047.6,499.6 2047.9,499.2 2048.2,498.8 2048.5,498.4 2048.8,498.0 2049.1,497.6 2049.4,497.2 2049.7,496.8 2050.0,496.4 2050.3,496.0 2050.6,495.6 2050.9,495.2 2051.2,494.8 2051.5,494.4 2051.8,494.0 2052.0,493.6 2052.3,493.2 2052.6,492.8 2052.9,492.4 2053.2,492.0 2053.5,491.6 2053.8,491.2 2054.1,490.8 2054.4,490.4 2054.7,490.0 2055.0,489.6 2055.0,489.6 M2080.1,454.6 2080.4,454.2 2080.7,453.8 2081.0,453.4 2081.2,453.0 2081.5,452.6 2081.8,452.2 2082.1,451.8 2082.4,451.4 2082.7,450.9 2083.0,450.5 2083.2,450.1 2083.2,450.1 M2107.4,414.6 2107.7,414.2 2108.0,413.7 2108.3,413.3 2108.5,412.9 2108.8,412.5 2109.1,412.1 2109.4,411.7 2109.6,411.2 2109.9,410.8 2110.2,410.4 2110.5,410.0 2110.5,410.0 M2133.9,373.9 2134.2,373.5 2134.4,373.1 2134.7,372.7 2135.0,372.3 2135.3,371.8 2135.5,371.4 2135.8,371.0 2136.1,370.6 2136.3,370.1 2136.6,369.7 2136.9,369.3 2137.1,368.9 2137.4,368.5 2137.7,368.0 2137.9,367.6 2138.2,367.2 2138.5,366.8 2138.7,366.3 2139.0,365.9 2139.3,365.5 2139.5,365.1 2139.8,364.7 2140.1,364.2 2140.3,363.8 2140.6,363.4 2140.9,363.0 2141.1,362.5 2141.4,362.1 2141.7,361.7 2141.9,361.3 2142.2,360.8 2142.5,360.4 2142.7,360.0 2143.0,359.6 2143.3,359.2 2143.5,358.7 2143.8,358.3 2144.1,357.9 2144.3,357.5 2144.6,357.0 2144.9,356.6 2145.1,356.2 2145.4,355.8 2145.7,355.3 2145.9,354.9 2146.2,354.5 2146.5,354.1 2146.7,353.6 2147.0,353.2 2147.3,352.8 2147.5,352.4 2147.8,352.0 2148.1,351.5 2148.3,351.1 2148.6,350.7 2148.8,350.3 2149.1,349.8 2149.4,349.4 2149.6,349.0 2149.9,348.6 2150.2,348.1 2150.4,347.7 2150.7,347.3 2151.0,346.9 2151.2,346.4 2151.5,346.0 2151.8,345.6 2152.0,345.2 2152.3,344.7 2152.5,344.3 2152.8,343.9 2153.1,343.5 2153.3,343.0 2153.6,342.6 2153.9,342.2 2154.1,341.8 2154.4,341.3 2154.6,340.9 2154.9,340.5 2155.2,340.1 2155.4,339.6 2155.7,339.2 2156.0,338.8 2156.2,338.4 2156.5,337.9 2156.8,337.5 2157.0,337.1 2157.3,336.7 2157.5,336.2 2157.5,336.2 M2179.8,299.5 2180.1,299.0 2180.4,298.6 2180.6,298.2 2180.9,297.7 2181.1,297.3 2181.4,296.9 2181.6,296.5 2181.9,296.0 2182.1,295.6 2182.4,295.2 2182.7,294.7 2182.7,294.7 M2204.4,257.7 2204.7,257.2 2204.9,256.8 2205.2,256.4 2205.4,255.9 2205.7,255.5 2205.9,255.1 2206.2,254.6 2206.4,254.2 2206.7,253.8 2206.9,253.3 2207.2,252.9 2207.2,252.9 M2228.5,215.5 2228.7,215.1 2229.0,214.7 2229.2,214.2 2229.5,213.8 2229.7,213.4 2229.9,212.9 2230.2,212.5 2230.4,212.1 2230.7,211.6 2230.9,211.2 2231.2,210.7 2231.4,210.3 2231.7,209.9 2231.9,209.4 2232.2,209.0 2232.4,208.6 2232.6,208.1 2232.9,207.7 2233.1,207.3 2233.4,206.8 2233.6,206.4 2233.9,205.9 2234.1,205.5 2234.4,205.1 2234.6,204.6 2234.8,204.2 2235.1,203.8 2235.3,203.3 2235.6,202.9 2235.8,202.5 2236.1,202.0 2236.3,201.6 2236.5,201.1 2236.8,200.7 2237.0,200.3 2237.3,199.8 2237.5,199.4 2237.8,199.0 2238.0,198.5 2238.2,198.1 2238.5,197.6 2238.7,197.2 2239.0,196.8 2239.2,196.3 2239.5,195.9 2239.7,195.5 2240.0,195.0 2240.2,194.6 2240.4,194.2 2240.7,193.7 2240.9,193.3 2241.2,192.8 2241.4,192.4 2241.7,192.0 2241.9,191.5 2242.1,191.1 2242.4,190.7 2242.6,190.2 2242.9,189.8 2243.1,189.3 2243.3,188.9 2243.6,188.5 2243.8,188.0 2244.1,187.6 2244.3,187.2 2244.6,186.7 2244.8,186.3 2245.0,185.8 2245.3,185.4 2245.5,185.0 2245.8,184.5 2246.0,184.1 2246.3,183.7 2246.5,183.2 2246.7,182.8 2247.0,182.3 2247.2,181.9 2247.5,181.5 2247.7,181.0 2247.9,180.6 2248.2,180.2 2248.4,179.7 2248.7,179.3 2248.9,178.8 2249.1,178.4 2249.4,178.0 2249.6,177.5 2249.9,177.1 2250.1,176.6 M2270.7,138.9 2270.7,138.9 2270.9,138.4 2271.1,138.0 2271.4,137.5 2271.6,137.1 2271.8,136.7 2272.1,136.2 2272.3,135.8 2272.5,135.3 2272.8,134.9 2273.0,134.5 2273.3,134.0" fill="none" stroke="#f430f4" stroke-width="12.5" stroke-linecap="round" stroke-linejoin="round"/>
<path d="M1621.8,127.3 1621.8,127.6 1621.9,128.1 1621.9,128.6 1621.9,129.1 1622.0,129.6 1622.0,130.1 1622.1,130.6 1622.1,131.1 1622.2,131.6 1622.2,132.1 1622.2,132.6 1622.3,133.1 1622.3,133.6 1622.4,134.1 1622.4,134.6 1622.5,135.1 1622.5,135.6 1622.6,136.1 1622.6,136.6 1622.6,137.1 1622.7,137.6 1622.7,138.1 1622.8,138.6 1622.8,139.1 1622.9,139.6 1622.9,140.1 1622.9,140.6 1623.0,141.1 1623.0,141.6 1623.1,142.1 1623.1,142.6 1623.2,143.1 1623.2,143.6 1623.3,144.1 1623.3,144.6 1623.3,145.1 1623.4,145.6 1623.4,146.1 1623.4,146.3 M1626.7,181.4 1626.8,181.9 1626.8,182.4 1626.9,182.9 1626.9,183.4 1626.9,183.9 1627.0,184.4 1627.0,184.9 1627.1,185.4 1627.1,185.9 1627.2,186.4 1627.2,186.9 1627.3,187.4 1627.3,187.9 1627.4,188.4 1627.4,188.9 1627.5,189.4 1627.5,189.9 1627.6,190.4 1627.6,190.9 1627.7,191.4 1627.7,191.9 1627.8,192.4 1627.8,192.9 1627.9,193.4 1627.9,193.8 1628.0,194.3 1628.0,194.8 1628.1,195.3 1628.1,195.8 1628.2,196.3 1628.2,196.8 1628.3,197.3 1628.3,197.8 1628.4,198.3 1628.4,198.8 1628.5,199.3 1628.5,199.8 1628.6,200.3 1628.6,200.3 M1632.3,235.4 1632.3,235.6 1632.3,236.1 1632.4,236.6 1632.4,237.1 1632.5,237.6 1632.6,238.1 1632.6,238.6 1632.7,239.1 1632.7,239.6 1632.8,240.1 1632.8,240.6 1632.9,241.1 1632.9,241.6 1633.0,242.1 1633.1,242.6 1633.1,243.1 1633.2,243.6 1633.2,244.1 1633.3,244.6 1633.3,245.1 1633.4,245.6 1633.4,246.1 1633.5,246.6 1633.6,247.0 1633.6,247.5 1633.7,248.0 1633.7,248.5 1633.8,249.0 1633.8,249.5 1633.9,250.0 1633.9,250.5 1634.0,251.0 1634.1,251.5 1634.1,252.0 1634.2,252.5 1634.2,253.0 1634.3,253.5 1634.3,254.0 1634.4,254.3 M1638.6,289.4 1638.6,289.7 1638.7,290.2 1638.8,290.7 1638.8,291.2 1638.9,291.7 1639.0,292.2 1639.0,292.7 1639.1,293.2 1639.1,293.7 1639.2,294.2 1639.3,294.7 1639.3,295.2 1639.4,295.7 1639.5,296.2 1639.5,296.7 1639.6,297.2 1639.7,297.7 1639.7,298.2 1639.8,298.7 1639.9,299.2 1639.9,299.7 1640.0,300.2 1640.0,300.7 1640.1,301.1 1640.2,301.6 1640.2,302.1 1640.3,302.6 1640.4,303.1 1640.4,303.6 1640.5,304.1 1640.6,304.6 1640.6,305.1 1640.7,305.6 1640.8,306.1 1640.8,306.6 1640.9,307.1 1641.0,307.6 1641.0,308.1 1641.0,308.2 M1645.9,343.2 1645.9,343.2 1646.0,343.7 1646.1,344.2 1646.1,344.7 1646.2,345.2 1646.3,345.7 1646.4,346.2 1646.4,346.7 1646.5,347.2 1646.6,347.7 1646.7,348.2 1646.7,348.7 1646.8,349.2 1646.9,349.7 1647.0,350.2 1647.0,350.7 1647.1,351.2 1647.2,351.6 1647.3,352.1 1647.3,352.6 1647.4,353.1 1647.5,353.6 1647.6,354.1 1647.6,354.6 1647.7,355.1 1647.8,355.6 1647.9,356.1 1647.9,356.6 1648.0,357.1 1648.1,357.6 1648.2,358.1 1648.2,358.6 1648.3,359.1 1648.4,359.6 1648.5,360.0 1648.5,360.5 1648.6,361.0 1648.7,361.5 1648.8,361.9 M1654.5,396.8 1654.5,397.0 1654.6,397.5 1654.7,398.0 1654.8,398.5 1654.9,399.0 1655.0,399.5 1655.1,400.0 1655.2,400.5 1655.2,401.0 1655.3,401.5 1655.4,402.0 1655.5,402.5 1655.6,403.0 1655.7,403.4 1655.8,403.9 1655.9,404.4 1655.9,404.9 1656.0,405.4 1656.1,405.9 1656.2,406.4 1656.3,406.9 1656.4,407.4 1656.5,407.9 1656.6,408.4 1656.7,408.9 1656.7,409.4 1656.8,409.8 1656.9,410.3 1657.0,410.8 1657.1,411.3 1657.2,411.8 1657.3,412.3 1657.4,412.8 1657.5,413.3 1657.6,413.8 1657.6,414.3 1657.7,414.8 1657.8,415.3 1657.9,415.5 M1664.8,450.1 1664.9,450.6 1665.0,451.0 1665.1,451.5 1665.2,452.0 1665.3,452.5 1665.4,453.0 1665.5,453.5 1665.6,454.0 1665.7,454.5 1665.8,455.0 1665.9,455.4 1666.0,455.9 1666.1,456.4 1666.2,456.9 1666.3,457.4 1666.4,457.9 1666.5,458.4 1666.7,458.9 1666.8,459.4 1666.9,459.8 1667.0,460.3 1667.1,460.8 1667.2,461.3 1667.3,461.8 1667.4,462.3 1667.5,462.8 1667.6,463.3 1667.7,463.7 1667.8,464.2 1668.0,464.7 1668.1,465.2 1668.2,465.7 1668.3,466.2 1668.4,466.7 1668.5,467.2 1668.6,467.6 1668.7,468.1 1668.8,468.6 1668.9,468.6 M1677.3,502.9 1677.4,503.1 1677.5,503.6 1677.6,504.0 1677.8,504.5 1677.9,505.0 1678.0,505.5 1678.2,506.0 1678.3,506.5 1678.4,506.9 1678.6,507.4 1678.7,507.9 1678.8,508.4 1679.0,508.9 1679.1,509.3 1679.2,509.8 1679.4,510.3 1679.5,510.8 1679.6,511.3 1679.8,511.8 1679.9,512.2 1680.0,512.7 1680.2,513.2 1680.3,513.7 1680.4,514.2 1680.6,514.6 1680.7,515.1 1680.8,515.6 1681.0,516.1 1681.1,516.6 1681.3,517.0 1681.4,517.5 1681.5,518.0 1681.7,518.5 1681.8,519.0 1682.0,519.4 1682.1,519.9 1682.2,520.4 1682.4,520.9 1682.5,521.2 M1693.3,554.8 1693.4,555.1 1693.6,555.6 1693.8,556.1 1693.9,556.5 1694.1,557.0 1694.3,557.5 1694.5,558.0 1694.6,558.4 1694.8,558.9 1695.0,559.4 1695.1,559.8 1695.3,560.3 1695.5,560.8 1695.7,561.2 1695.8,561.7 1696.0,562.2 1696.2,562.6 1696.4,563.1 1696.5,563.6 1696.7,564.0 1696.9,564.5 1697.1,565.0 1697.3,565.4 1697.4,565.9 1697.6,566.4 1697.8,566.8 1698.0,567.3 1698.2,567.8 1698.3,568.2 1698.5,568.7 1698.7,569.2 1698.9,569.6 1699.1,570.1 1699.3,570.6 1699.4,571.0 1699.6,571.5 1699.8,572.0 1700.0,572.4 1700.0,572.6 M1714.7,604.6 1714.7,604.7 1715.0,605.1 1715.2,605.6 1715.4,606.0 1715.7,606.5 1715.9,606.9 1716.2,607.3 1716.4,607.8 1716.6,608.2 1716.9,608.7 1717.1,609.1 1717.3,609.5 1717.6,610.0 1717.8,610.4 1718.1,610.9 1718.3,611.3 1718.6,611.7 1718.8,612.2 1719.0,612.6 1719.3,613.0 1719.5,613.5 1719.8,613.9 1720.0,614.3 1720.3,614.8 1720.5,615.2 1720.8,615.6 1721.0,616.1 1721.3,616.5 1721.6,616.9 1721.8,617.4 1722.1,617.8 1722.3,618.2 1722.6,618.6 1722.8,619.1 1723.1,619.5 1723.4,619.9 1723.6,620.3 1723.9,620.8 1724.1,621.1 M1745.5,649.2 1745.7,649.3 1746.0,649.7 1746.4,650.1 1746.7,650.4 1747.1,650.8 1747.4,651.1 1747.8,651.5 1748.1,651.8 1748.5,652.2 1748.9,652.5 1749.2,652.9 1749.6,653.2 1749.9,653.6 1750.3,653.9 1750.7,654.3 1751.0,654.6 1751.4,654.9 1751.8,655.3 1752.1,655.6 1752.5,655.9 1752.9,656.3 1753.3,656.6 1753.6,656.9 1754.0,657.3 1754.4,657.6 1754.8,657.9 1755.2,658.2 1755.5,658.6 1755.9,658.9 1756.3,659.2 1756.7,659.5 1757.1,659.8 1757.5,660.1 1757.9,660.4 1758.3,660.7 1758.7,661.1 1759.1,661.4 1759.5,661.7 1759.7,661.8 M1791.2,677.1 1791.6,677.2 1792.1,677.3 1792.6,677.5 1793.1,677.6 1793.6,677.7 1794.1,677.8 1794.6,677.9 1795.1,678.0 1795.5,678.1 1796.0,678.2 1796.5,678.3 1797.0,678.3 1797.5,678.4 1798.0,678.5 1798.5,678.6 1799.0,678.7 1799.5,678.7 1800.0,678.8 1800.5,678.9 1801.0,678.9 1801.5,679.0 1802.0,679.0 1802.5,679.1 1803.0,679.1 1803.5,679.2 1804.0,679.2 1804.5,679.3 1805.0,679.3 1805.5,679.4 1806.0,679.4 1806.4,679.4 1806.9,679.4 1807.4,679.5 1807.9,679.5 1808.4,679.5 1808.9,679.5 1809.4,679.5 1809.9,679.5 1810.0,679.5 M1844.7,674.0 1844.8,674.0 1845.3,673.8 1845.8,673.7 1846.3,673.5 1846.7,673.3 1847.2,673.2 1847.7,673.0 1848.2,672.9 1848.6,672.7 1849.1,672.5 1849.6,672.4 1850.0,672.2 1850.5,672.0 1851.0,671.8 1851.5,671.7 1851.9,671.5 1852.4,671.3 1852.9,671.1 1853.3,671.0 1853.8,670.8 1854.2,670.6 1854.7,670.4 1855.2,670.2 1855.6,670.0 1856.1,669.8 1856.6,669.6 1857.0,669.5 1857.5,669.3 1857.9,669.1 1858.4,668.9 1858.9,668.7 1859.3,668.5 1859.8,668.3 1860.2,668.1 1860.7,667.9 1861.2,667.7 1861.6,667.5 1862.1,667.2 1862.4,667.1 M1893.1,649.8 1893.4,649.6 1893.8,649.3 1894.2,649.0 1894.6,648.7 1895.0,648.5 1895.5,648.2 1895.9,647.9 1896.3,647.6 1896.7,647.3 1897.1,647.1 1897.5,646.8 1897.9,646.5 1898.3,646.2 1898.8,645.9 1899.2,645.6 1899.6,645.3 1900.0,645.1 1900.4,644.8 1900.8,644.5 1901.2,644.2 1901.6,643.9 1902.0,643.6 1902.4,643.3 1902.8,643.0 1903.2,642.7 1903.6,642.4 1904.0,642.1 1904.4,641.9 1904.9,641.6 1905.3,641.3 1905.7,641.0 1906.1,640.7 1906.5,640.4 1906.9,640.1 1907.3,639.8 1907.7,639.5 1908.1,639.2 1908.5,638.9 1908.6,638.8 M1935.8,616.3 1935.9,616.3 1936.2,616.0 1936.6,615.7 1937.0,615.3 1937.4,615.0 1937.7,614.7 1938.1,614.3 1938.5,614.0 1938.8,613.6 1939.2,613.3 1939.6,613.0 1939.9,612.6 1940.3,612.3 1940.7,612.0 1941.1,611.6 1941.4,611.3 1941.8,611.0 1942.2,610.6 1942.5,610.3 1942.9,609.9 1943.3,609.6 1943.6,609.3 1944.0,608.9 1944.4,608.6 1944.7,608.2 1945.1,607.9 1945.5,607.6 1945.8,607.2 1946.2,606.9 1946.6,606.5 1946.9,606.2 1947.3,605.8 1947.6,605.5 1948.0,605.2 1948.4,604.8 1948.7,604.5 1949.1,604.1 1949.5,603.8 1949.8,603.4 M1974.7,578.4 1974.8,578.2 1975.2,577.9 1975.5,577.5 1975.8,577.1 1976.2,576.8 1976.5,576.4 1976.9,576.0 1977.2,575.7 1977.5,575.3 1977.9,574.9 1978.2,574.6 1978.6,574.2 1978.9,573.8 1979.3,573.5 1979.6,573.1 1979.9,572.7 1980.3,572.4 1980.6,572.0 1980.9,571.6 1981.3,571.3 1981.6,570.9 1982.0,570.5 1982.3,570.2 1982.6,569.8 1983.0,569.4 1983.3,569.1 1983.7,568.7 1984.0,568.3 1984.3,568.0 1984.7,567.6 1985.0,567.2 1985.3,566.9 1985.7,566.5 1986.0,566.1 1986.3,565.7 1986.7,565.4 1987.0,565.0 1987.4,564.6 1987.5,564.4 M2010.7,537.8 2011.0,537.5 2011.3,537.1 2011.6,536.7 2011.9,536.3 2012.3,535.9 2012.6,535.5 2012.9,535.2 2013.2,534.8 2013.5,534.4 2013.9,534.0 2014.2,533.6 2014.5,533.2 2014.8,532.9 2015.1,532.5 2015.4,532.1 2015.8,531.7 2016.1,531.3 2016.4,530.9 2016.7,530.5 2017.0,530.2 2017.4,529.8 2017.7,529.4 2018.0,529.0 2018.3,528.6 2018.6,528.2 2018.9,527.8 2019.3,527.5 2019.6,527.1 2019.9,526.7 2020.2,526.3 2020.5,525.9 2020.8,525.5 2021.2,525.1 2021.5,524.8 2021.8,524.4 2022.1,524.0 2022.4,523.6 2022.7,523.2 2022.8,523.1 M2044.7,495.4 2044.7,495.3 2045.0,494.9 2045.4,494.6 2045.7,494.2 2046.0,493.8 2046.3,493.4 2046.6,493.0 2046.9,492.6 2047.2,492.2 2047.5,491.8 2047.8,491.4 2048.1,491.0 2048.4,490.6 2048.7,490.2 2049.0,489.8 2049.3,489.4 2049.6,489.0 2049.9,488.6 2050.2,488.2 2050.5,487.8 2050.8,487.4 2051.1,487.0 2051.4,486.6 2051.7,486.2 2052.0,485.8 2052.3,485.4 2052.6,485.0 2052.9,484.6 2053.2,484.2 2053.5,483.8 2053.8,483.4 2054.1,483.0 2054.4,482.6 2054.7,482.2 2055.0,481.8 2055.3,481.4 2055.6,481.0 2055.9,480.6 2056.2,480.3 M2077.0,451.8 2077.2,451.6 2077.5,451.2 2077.8,450.8 2078.1,450.4 2078.4,450.0 2078.7,449.6 2079.0,449.1 2079.3,448.7 2079.5,448.3 2079.8,447.9 2080.1,447.5 2080.4,447.1 2080.7,446.7 2081.0,446.3 2081.3,445.9 2081.6,445.5 2081.9,445.1 2082.2,444.7 2082.4,444.3 2082.7,443.9 2083.0,443.4 2083.3,443.0 2083.6,442.6 2083.9,442.2 2084.2,441.8 2084.5,441.4 2084.8,441.0 2085.0,440.6 2085.3,440.2 2085.6,439.8 2085.9,439.4 2086.2,439.0 2086.5,438.5 2086.8,438.1 2087.1,437.7 2087.4,437.3 2087.6,436.9 2087.9,436.5 2088.0,436.3 M2108.1,407.3 2108.1,407.3 2108.4,406.9 2108.7,406.5 2108.9,406.1 2109.2,405.6 2109.5,405.2 2109.8,404.8 2110.1,404.4 2110.3,404.0 2110.6,403.6 2110.9,403.2 2111.2,402.7 2111.5,402.3 2111.7,401.9 2112.0,401.5 2112.3,401.1 2112.6,400.7 2112.9,400.3 2113.1,399.8 2113.4,399.4 2113.7,399.0 2114.0,398.6 2114.3,398.2 2114.5,397.8 2114.8,397.3 2115.1,396.9 2115.4,396.5 2115.6,396.1 2115.9,395.7 2116.2,395.3 2116.5,394.9 2116.8,394.4 2117.0,394.0 2117.3,393.6 2117.6,393.2 2117.9,392.8 2118.1,392.4 2118.4,391.9 2118.7,391.5 M2138.1,362.0 2138.2,361.9 2138.4,361.4 2138.7,361.0 2139.0,360.6 2139.3,360.2 2139.5,359.8 2139.8,359.3 2140.1,358.9 2140.3,358.5 2140.6,358.1 2140.9,357.7 2141.2,357.2 2141.4,356.8 2141.7,356.4 2142.0,356.0 2142.2,355.6 2142.5,355.1 2142.8,354.7 2143.1,354.3 2143.3,353.9 2143.6,353.4 2143.9,353.0 2144.1,352.6 2144.4,352.2 2144.7,351.8 2144.9,351.3 2145.2,350.9 2145.5,350.5 2145.7,350.1 2146.0,349.7 2146.3,349.2 2146.6,348.8 2146.8,348.4 2147.1,348.0 2147.4,347.6 2147.6,347.1 2147.9,346.7 2148.2,346.3 2148.3,346.0 M2167.1,316.1 2167.3,315.8 2167.6,315.4 2167.9,315.0 2168.1,314.5 2168.4,314.1 2168.6,313.7 2168.9,313.3 2169.2,312.8 2169.4,312.4 2169.7,312.0 2170.0,311.6 2170.2,311.1 2170.5,310.7 2170.7,310.3 2171.0,309.9 2171.3,309.4 2171.5,309.0 2171.8,308.6 2172.1,308.2 2172.3,307.7 2172.6,307.3 2172.8,306.9 2173.1,306.5 2173.4,306.0 2173.6,305.6 2173.9,305.2 2174.2,304.8 2174.4,304.3 2174.7,303.9 2174.9,303.5 2175.2,303.0 2175.5,302.6 2175.7,302.2 2176.0,301.8 2176.2,301.3 2176.5,300.9 2176.8,300.5 2177.0,300.1 2177.1,300.0 M2195.4,269.8 2195.4,269.7 2195.7,269.3 2195.9,268.8 2196.2,268.4 2196.4,268.0 2196.7,267.6 2197.0,267.1 2197.2,266.7 2197.5,266.3 2197.7,265.8 2198.0,265.4 2198.2,265.0 2198.5,264.5 2198.7,264.1 2199.0,263.7 2199.3,263.3 2199.5,262.8 2199.8,262.4 2200.0,262.0 2200.3,261.5 2200.5,261.1 2200.8,260.7 2201.0,260.2 2201.3,259.8 2201.6,259.4 2201.8,259.0 2202.1,258.5 2202.3,258.1 2202.6,257.7 2202.8,257.2 2203.1,256.8 2203.3,256.4 2203.6,256.0 2203.9,255.5 2204.1,255.1 2204.4,254.7 2204.6,254.2 2204.9,253.8 2205.1,253.4 M2222.9,223.0 2223.1,222.7 2223.3,222.3 2223.6,221.9 2223.8,221.4 2224.1,221.0 2224.3,220.6 2224.6,220.1 2224.8,219.7 2225.1,219.3 2225.3,218.8 2225.6,218.4 2225.8,218.0 2226.1,217.5 2226.3,217.1 2226.6,216.7 2226.8,216.2 2227.1,215.8 2227.3,215.4 2227.6,214.9 2227.8,214.5 2228.1,214.1 2228.3,213.6 2228.6,213.2 2228.8,212.8 2229.1,212.3 2229.3,211.9 2229.6,211.5 2229.8,211.0 2230.1,210.6 2230.3,210.2 2230.6,209.7 2230.8,209.3 2231.0,208.9 2231.3,208.4 2231.5,208.0 2231.8,207.6 2232.0,207.1 2232.3,206.7 2232.4,206.5 M2249.8,175.8 2250.1,175.4 2250.3,175.0 2250.6,174.5 2250.8,174.1 2251.0,173.7 2251.3,173.2 2251.5,172.8 2251.8,172.4 2252.0,171.9 2252.3,171.5 2252.5,171.0 2252.8,170.6 2253.0,170.2 2253.3,169.7 2253.5,169.3 2253.7,168.9 2254.0,168.4 2254.2,168.0 2254.5,167.6 2254.7,167.1 2255.0,166.7 2255.2,166.2 2255.5,165.8 2255.7,165.4 2255.9,164.9 2256.2,164.5 2256.4,164.1 2256.7,163.6 2256.9,163.2 2257.2,162.8 2257.4,162.3 2257.6,161.9 2257.9,161.4 2258.1,161.0 2258.4,160.6 2258.6,160.1 2258.9,159.7 2259.1,159.3 2259.1,159.2 M2276.2,128.4 2276.3,128.2 2276.5,127.8 2276.8,127.3 2277.0,126.9 2277.2,126.4 2277.5,126.0 2277.7,125.6 2278.0,125.1 2278.2,124.7 2278.4,124.2 2278.7,123.8 2278.9,123.4 2279.2,122.9 2279.4,122.5 2279.6,122.1 2279.9,121.6 2280.1,121.2 2280.4,120.7 2280.6,120.3 2280.8,119.9 2281.1,119.4 2281.3,119.0 2281.6,118.5 2281.8,118.1 2282.0,117.7 2282.3,117.2 2282.5,116.8 2282.7,116.3 2283.0,115.9 2283.2,115.5 2283.5,115.0 2283.7,114.6 2283.9,114.2 2284.2,113.7 2284.4,113.3 2284.7,112.8 2284.9,112.4 2285.1,112.0 2285.3,111.7" fill="none" stroke="#fc1010" stroke-width="12.5" stroke-linecap="round" stroke-linejoin="round"/>
<g fill="#3371ec"><circle cx="1626.8" cy="117.4" r="5.5"/><circle cx="1629.0" cy="140.6" r="5.5"/><circle cx="1631.2" cy="163.8" r="5.5"/><circle cx="1633.6" cy="186.9" r="5.5"/><circle cx="1636.1" cy="210.1" r="5.5"/><circle cx="1638.7" cy="233.3" r="5.5"/><circle cx="1641.5" cy="256.4" r="5.5"/><circle cx="1644.5" cy="279.5" r="5.5"/><circle cx="1647.7" cy="302.6" r="5.5"/><circle cx="1651.0" cy="325.6" r="5.5"/><circle cx="1654.6" cy="348.6" r="5.5"/><circle cx="1658.5" cy="371.6" r="5.5"/><circle cx="1662.7" cy="394.5" r="5.5"/><circle cx="1667.2" cy="417.4" r="5.5"/><circle cx="1672.1" cy="440.2" r="5.5"/><circle cx="1677.5" cy="462.8" r="5.5"/><circle cx="1683.4" cy="485.4" r="5.5"/><circle cx="1690.0" cy="507.7" r="5.5"/><circle cx="1697.3" cy="529.9" r="5.5"/><circle cx="1705.5" cy="551.7" r="5.5"/><circle cx="1714.9" cy="573.0" r="5.5"/><circle cx="1725.8" cy="593.6" r="5.5"/><circle cx="1738.6" cy="613.0" r="5.5"/><circle cx="1753.8" cy="630.6" r="5.5"/><circle cx="1772.0" cy="645.2" r="5.5"/><circle cx="1793.1" cy="654.9" r="5.5"/><circle cx="1816.0" cy="658.6" r="5.5"/><circle cx="1839.1" cy="656.3" r="5.5"/><circle cx="1861.4" cy="649.4" r="5.5"/><circle cx="1882.4" cy="639.4" r="5.5"/><circle cx="1902.3" cy="627.3" r="5.5"/><circle cx="1921.1" cy="613.6" r="5.5"/><circle cx="1939.1" cy="598.7" r="5.5"/><circle cx="1956.3" cy="583.1" r="5.5"/><circle cx="1972.9" cy="566.7" r="5.5"/><circle cx="1989.0" cy="549.9" r="5.5"/><circle cx="2004.6" cy="532.6" r="5.5"/><circle cx="2019.8" cy="514.9" r="5.5"/><circle cx="2034.6" cy="496.9" r="5.5"/><circle cx="2049.0" cy="478.6" r="5.5"/><circle cx="2063.2" cy="460.1" r="5.5"/><circle cx="2077.1" cy="441.4" r="5.5"/><circle cx="2090.8" cy="422.6" r="5.5"/><circle cx="2104.2" cy="403.5" r="5.5"/><circle cx="2117.4" cy="384.3" r="5.5"/><circle cx="2130.4" cy="365.0" r="5.5"/><circle cx="2143.3" cy="345.6" r="5.5"/><circle cx="2155.9" cy="326.0" r="5.5"/><circle cx="2168.4" cy="306.3" r="5.5"/><circle cx="2180.8" cy="286.6" r="5.5"/><circle cx="2193.0" cy="266.7" r="5.5"/><circle cx="2205.1" cy="246.8" r="5.5"/><circle cx="2217.0" cy="226.8" r="5.5"/><circle cx="2228.8" cy="206.7" r="5.5"/><circle cx="2240.5" cy="186.6" r="5.5"/><circle cx="2252.1" cy="166.4" r="5.5"/><circle cx="2263.6" cy="146.1" r="5.5"/><circle cx="2275.0" cy="125.8" r="5.5"/></g>
<path d="M1632.3,110.2 1632.3,110.2 1632.4,110.7 1632.4,111.2 1632.5,111.7 1632.5,112.2 1632.6,112.7 1632.6,113.2 1632.7,113.7 1632.7,114.2 1632.7,114.7 1632.8,115.2 1632.8,115.7 1632.9,116.2 1632.9,116.7 1633.0,117.2 1633.0,117.7 1633.1,118.2 1633.1,118.7 1633.2,119.2 1633.2,119.7 1633.3,120.2 1633.3,120.7 1633.4,121.2 1633.4,121.7 1633.5,122.1 1633.5,122.6 1633.6,123.1 1633.6,123.6 1633.7,124.1 1633.7,124.6 1633.8,125.1 1633.8,125.6 1633.9,126.1 1633.9,126.6 1634.0,127.1 1634.0,127.6 1634.1,128.1 1634.1,128.6 1634.1,129.1 1634.2,129.6 1634.2,130.1 1634.3,130.6 1634.3,131.1 1634.4,131.6 1634.4,132.1 1634.5,132.6 1634.5,133.1 1634.6,133.6 1634.6,134.1 1634.7,134.6 1634.7,135.1 1634.8,135.6 1634.8,136.1 1634.9,136.6 1634.9,137.1 1635.0,137.6 1635.0,138.1 1635.1,138.6 1635.1,139.1 1635.2,139.6 1635.2,140.1 1635.3,140.6 1635.3,141.1 1635.4,141.6 1635.4,142.1 1635.5,142.6 1635.5,143.1 1635.6,143.6 1635.6,144.0 1635.7,144.5 1635.7,145.0 1635.8,145.5 1635.9,146.0 1635.9,146.5 1636.0,147.0 1636.0,147.5 1636.1,148.0 1636.1,148.5 1636.2,149.0 1636.2,149.5 1636.3,150.0 1636.3,150.5 1636.4,151.0 1636.4,151.5 1636.5,152.0 1636.5,152.5 1636.6,153.0 1636.6,153.5 1636.7,154.0 1636.7,154.5 1636.8,155.0 1636.8,155.5 1636.9,156.0 1636.9,156.5 1637.0,157.0 1637.0,157.5 1637.1,158.0 1637.1,158.5 1637.2,159.0 1637.3,159.5 1637.3,160.0 1637.4,160.5 1637.4,161.0 1637.5,161.5 1637.5,162.0 1637.6,162.5 1637.6,163.0 1637.7,163.5 1637.7,163.9 1637.8,164.4 1637.8,164.9 1637.9,165.4 1637.9,165.9 1638.0,166.4 1638.0,166.6 M1642.8,208.8 1642.8,209.2 1642.9,209.7 1642.9,210.2 1643.0,210.7 1643.1,211.2 1643.1,211.7 1643.2,212.2 1643.2,212.7 1643.3,213.2 1643.4,213.6 1643.4,214.1 1643.4,214.3 M1648.8,256.4 1648.9,256.8 1648.9,257.3 1649.0,257.8 1649.1,258.3 1649.1,258.8 1649.2,259.3 1649.3,259.8 1649.3,260.3 1649.4,260.8 1649.5,261.3 1649.5,261.8 1649.6,262.3 1649.7,262.8 1649.7,263.3 1649.8,263.8 1649.9,264.2 1649.9,264.7 1650.0,265.2 1650.1,265.7 1650.2,266.2 1650.2,266.7 1650.3,267.2 1650.4,267.7 1650.4,268.2 1650.5,268.7 1650.6,269.2 1650.6,269.7 1650.7,270.2 1650.8,270.7 1650.8,271.2 1650.9,271.7 1651.0,272.2 1651.1,272.7 1651.1,273.2 1651.2,273.7 1651.3,274.2 1651.3,274.7 1651.4,275.1 1651.5,275.6 1651.5,276.1 1651.6,276.6 1651.7,277.1 1651.8,277.6 1651.8,278.1 1651.9,278.6 1652.0,279.1 1652.0,279.6 1652.1,280.1 1652.2,280.6 1652.3,281.1 1652.3,281.6 1652.4,282.1 1652.5,282.6 1652.5,283.1 1652.6,283.6 1652.7,284.1 1652.8,284.6 1652.8,285.0 1652.9,285.5 1653.0,286.0 1653.0,286.5 1653.1,287.0 1653.2,287.5 1653.3,288.0 1653.3,288.5 1653.4,289.0 1653.5,289.5 1653.6,290.0 1653.6,290.5 1653.7,291.0 1653.8,291.5 1653.9,292.0 1653.9,292.5 1654.0,293.0 1654.1,293.5 1654.1,294.0 1654.2,294.4 1654.3,294.9 1654.4,295.4 1654.4,295.9 1654.5,296.4 1654.6,296.9 1654.7,297.4 1654.7,297.9 1654.8,298.4 1654.9,298.9 1655.0,299.4 1655.0,299.9 1655.1,300.4 1655.2,300.9 1655.3,301.4 1655.3,301.9 1655.4,302.4 1655.5,302.9 1655.6,303.3 1655.7,303.8 1655.7,304.3 1655.8,304.8 1655.9,305.3 1656.0,305.8 1656.0,306.3 1656.1,306.8 1656.2,307.3 1656.3,307.8 1656.3,308.3 1656.4,308.8 1656.5,309.3 1656.6,309.8 1656.7,310.3 1656.7,310.8 1656.8,311.3 1656.9,311.8 1657.0,312.2 1657.0,312.7 1657.1,313.2 1657.2,313.7 1657.3,314.2 1657.4,314.7 1657.4,315.2 1657.4,315.3 M1664.6,357.2 1664.7,357.6 1664.8,358.1 1664.9,358.6 1665.0,359.1 1665.1,359.6 1665.1,360.1 1665.2,360.6 1665.3,361.1 1665.4,361.5 1665.5,362.0 1665.6,362.5 1665.6,362.6 M1674.0,404.3 1674.1,404.7 1674.2,405.2 1674.3,405.7 1674.4,406.2 1674.5,406.6 1674.6,407.1 1674.7,407.6 1674.8,408.1 1674.9,408.6 1675.1,409.1 1675.2,409.6 1675.3,410.1 1675.4,410.6 1675.5,411.0 1675.6,411.5 1675.7,412.0 1675.8,412.5 1675.9,413.0 1676.0,413.5 1676.1,414.0 1676.3,414.5 1676.4,414.9 1676.5,415.4 1676.6,415.9 1676.7,416.4 1676.8,416.9 1676.9,417.4 1677.0,417.9 1677.2,418.4 1677.3,418.8 1677.4,419.3 1677.5,419.8 1677.6,420.3 1677.7,420.8 1677.8,421.3 1677.9,421.8 1678.1,422.3 1678.2,422.7 1678.3,423.2 1678.4,423.7 1678.5,424.2 1678.6,424.7 1678.7,425.2 1678.9,425.7 1679.0,426.2 1679.1,426.6 1679.2,427.1 1679.3,427.6 1679.4,428.1 1679.6,428.6 1679.7,429.1 1679.8,429.6 1679.9,430.0 1680.0,430.5 1680.1,431.0 1680.3,431.5 1680.4,432.0 1680.5,432.5 1680.6,433.0 1680.7,433.4 1680.9,433.9 1681.0,434.4 1681.1,434.9 1681.2,435.4 1681.3,435.9 1681.5,436.4 1681.6,436.8 1681.7,437.3 1681.8,437.8 1681.9,438.3 1682.1,438.8 1682.2,439.3 1682.3,439.8 1682.4,440.2 1682.5,440.7 1682.7,441.2 1682.8,441.7 1682.9,442.2 1683.0,442.7 1683.2,443.1 1683.3,443.6 1683.4,444.1 1683.5,444.6 1683.7,445.1 1683.8,445.6 1683.9,446.1 1684.0,446.5 1684.2,447.0 1684.3,447.5 1684.4,448.0 1684.5,448.5 1684.7,449.0 1684.8,449.4 1684.9,449.9 1685.1,450.4 1685.2,450.9 1685.3,451.4 1685.4,451.9 1685.6,452.3 1685.7,452.8 1685.8,453.3 1686.0,453.8 1686.1,454.3 1686.2,454.8 1686.3,455.2 1686.5,455.7 1686.6,456.2 1686.7,456.7 1686.9,457.2 1687.0,457.7 1687.1,458.1 1687.3,458.6 1687.4,459.1 1687.5,459.6 1687.7,460.1 1687.8,460.5 1687.9,461.0 1688.1,461.5 1688.2,462.0 1688.2,462.0 M1700.8,502.6 1701.0,503.1 1701.2,503.5 1701.3,504.0 1701.5,504.5 1701.7,504.9 1701.8,505.4 1702.0,505.9 1702.2,506.4 1702.3,506.8 1702.5,507.3 1702.7,507.8 1702.7,507.8 M1718.8,547.1 1718.8,547.1 1719.0,547.5 1719.3,548.0 1719.5,548.4 1719.7,548.9 1719.9,549.3 1720.1,549.8 1720.3,550.2 1720.6,550.7 1720.8,551.1 1721.0,551.6 1721.2,552.0 1721.4,552.5 1721.7,552.9 1721.9,553.4 1722.1,553.8 1722.3,554.3 1722.6,554.7 1722.8,555.2 1723.0,555.6 1723.3,556.0 1723.5,556.5 1723.7,556.9 1723.9,557.4 1724.2,557.8 1724.4,558.3 1724.6,558.7 1724.9,559.2 1725.1,559.6 1725.3,560.0 1725.6,560.5 1725.8,560.9 1726.0,561.4 1726.3,561.8 1726.5,562.2 1726.8,562.7 1727.0,563.1 1727.2,563.6 1727.5,564.0 1727.7,564.4 1728.0,564.9 1728.2,565.3 1728.5,565.7 1728.7,566.2 1728.9,566.6 1729.2,567.0 1729.4,567.5 1729.7,567.9 1729.9,568.4 1730.2,568.8 1730.4,569.2 1730.7,569.6 1731.0,570.1 1731.2,570.5 1731.5,570.9 1731.7,571.4 1732.0,571.8 1732.2,572.2 1732.5,572.7 1732.7,573.1 1733.0,573.5 1733.3,573.9 1733.5,574.4 1733.8,574.8 1734.1,575.2 1734.3,575.6 1734.6,576.1 1734.9,576.5 1735.1,576.9 1735.4,577.3 1735.7,577.8 1735.9,578.2 1736.2,578.6 1736.5,579.0 1736.7,579.4 1737.0,579.8 1737.3,580.3 1737.6,580.7 1737.9,581.1 1738.1,581.5 1738.4,581.9 1738.7,582.3 1739.0,582.8 1739.3,583.2 1739.5,583.6 1739.8,584.0 1740.1,584.4 1740.4,584.8 1740.7,585.2 1741.0,585.6 1741.3,586.0 1741.5,586.4 1741.8,586.9 1742.1,587.3 1742.4,587.7 1742.7,588.1 1743.0,588.5 1743.3,588.9 1743.6,589.3 1743.9,589.7 1744.2,590.1 1744.5,590.5 1744.8,590.9 1745.1,591.3 1745.4,591.7 1745.7,592.1 1746.0,592.5 1746.3,592.9 1746.7,593.2 1747.0,593.6 1747.3,594.0 1747.6,594.4 1747.9,594.8 1748.2,595.2 1748.5,595.6 1748.9,596.0 1749.2,596.4 1749.5,596.7 1749.8,597.1 1750.1,597.5 M1782.4,624.8 1782.4,624.8 1782.9,625.1 1783.3,625.3 1783.7,625.5 1784.2,625.8 1784.6,626.0 1785.1,626.2 1785.5,626.4 1786.0,626.7 1786.4,626.9 1786.9,627.1 1787.3,627.3 M1828.6,635.4 1828.6,635.3 1829.1,635.3 1829.6,635.3 1830.1,635.3 1830.6,635.2 1831.1,635.2 1831.6,635.2 1832.1,635.1 1832.6,635.1 1833.1,635.0 1833.6,635.0 1834.1,634.9 1834.6,634.9 1835.1,634.8 1835.6,634.8 1836.1,634.7 1836.6,634.6 1837.1,634.6 1837.6,634.5 1838.1,634.4 1838.6,634.4 1839.1,634.3 1839.6,634.2 1840.1,634.1 1840.5,634.0 1841.0,634.0 1841.5,633.9 1842.0,633.8 1842.5,633.7 1843.0,633.6 1843.5,633.5 1844.0,633.4 1844.5,633.3 1845.0,633.2 1845.5,633.1 1845.9,633.0 1846.4,632.9 1846.9,632.8 1847.4,632.7 1847.9,632.6 1848.4,632.4 1848.9,632.3 1849.4,632.2 1849.8,632.1 1850.3,632.0 1850.8,631.8 1851.3,631.7 1851.8,631.6 1852.3,631.4 1852.7,631.3 1853.2,631.2 1853.7,631.0 1854.2,630.9 1854.7,630.8 1855.1,630.6 1855.6,630.5 1856.1,630.3 1856.6,630.2 1857.1,630.0 1857.5,629.9 1858.0,629.7 1858.5,629.6 1859.0,629.4 1859.4,629.3 1859.9,629.1 1860.4,629.0 1860.9,628.8 1861.3,628.6 1861.8,628.5 1862.3,628.3 1862.7,628.1 1863.2,628.0 1863.7,627.8 1864.2,627.6 1864.6,627.4 1865.1,627.3 1865.6,627.1 1866.0,626.9 1866.5,626.7 1867.0,626.5 1867.4,626.4 1867.9,626.2 1868.4,626.0 1868.8,625.8 1869.3,625.6 1869.7,625.4 1870.2,625.2 1870.7,625.0 1871.1,624.8 1871.6,624.6 1872.0,624.4 1872.5,624.2 1873.0,624.0 1873.4,623.8 1873.9,623.6 1874.3,623.4 1874.8,623.2 1875.2,623.0 1875.7,622.8 1876.2,622.6 1876.6,622.4 1877.1,622.2 1877.5,622.0 1878.0,621.8 1878.4,621.5 1878.9,621.3 1879.3,621.1 1879.8,620.9 1880.2,620.7 1880.7,620.4 1881.1,620.2 1881.6,620.0 1882.0,619.8 1882.5,619.6 1882.9,619.3 1883.4,619.1 1883.8,618.9 1884.2,618.6 1884.7,618.4 1885.1,618.2 M1920.9,595.4 1920.9,595.3 1921.3,595.0 1921.7,594.7 1922.1,594.4 1922.5,594.1 1922.9,593.8 1923.3,593.5 1923.7,593.2 1924.1,592.9 1924.5,592.6 1924.9,592.3 1925.2,592.1 M1957.6,564.6 1957.7,564.5 1958.1,564.1 1958.4,563.8 1958.8,563.5 1959.2,563.1 1959.5,562.8 1959.9,562.4 1960.3,562.1 1960.6,561.8 1961.0,561.4 1961.4,561.1 1961.7,560.7 1962.1,560.4 1962.4,560.0 1962.8,559.7 1963.2,559.4 1963.5,559.0 1963.9,558.7 1964.3,558.3 1964.6,558.0 1965.0,557.6 1965.3,557.3 1965.7,556.9 1966.1,556.6 1966.4,556.2 1966.8,555.9 1967.1,555.5 1967.5,555.2 1967.9,554.8 1968.2,554.5 1968.6,554.1 1968.9,553.8 1969.3,553.4 1969.6,553.1 1970.0,552.7 1970.4,552.4 1970.7,552.0 1971.1,551.7 1971.4,551.3 1971.8,551.0 1972.1,550.6 1972.5,550.3 1972.8,549.9 1973.2,549.6 1973.6,549.2 1973.9,548.9 1974.3,548.5 1974.6,548.2 1975.0,547.8 1975.3,547.5 1975.7,547.1 1976.0,546.7 1976.4,546.4 1976.7,546.0 1977.1,545.7 1977.4,545.3 1977.8,545.0 1978.1,544.6 1978.5,544.3 1978.8,543.9 1979.2,543.5 1979.5,543.2 1979.9,542.8 1980.2,542.5 1980.6,542.1 1980.9,541.8 1981.3,541.4 1981.6,541.0 1982.0,540.7 1982.3,540.3 1982.7,540.0 1983.0,539.6 1983.4,539.2 1983.7,538.9 1984.1,538.5 1984.4,538.2 1984.8,537.8 1985.1,537.4 1985.5,537.1 1985.8,536.7 1986.1,536.3 1986.5,536.0 1986.8,535.6 1987.2,535.3 1987.5,534.9 1987.9,534.5 1988.2,534.2 1988.6,533.8 1988.9,533.4 1989.2,533.1 1989.6,532.7 1989.9,532.4 1990.3,532.0 1990.6,531.6 1990.9,531.3 1991.3,530.9 1991.6,530.5 1992.0,530.2 1992.3,529.8 1992.7,529.4 1993.0,529.1 1993.3,528.7 1993.7,528.3 1994.0,528.0 1994.4,527.6 1994.7,527.2 1995.0,526.9 1995.4,526.5 1995.7,526.1 1996.1,525.8 1996.4,525.4 1996.7,525.0 1997.1,524.6 1997.4,524.3 1997.7,523.9 1998.1,523.5 1998.4,523.2 1998.8,522.8 1999.1,522.4 1999.3,522.2 M2027.2,490.1 2027.3,490.0 2027.6,489.6 2027.9,489.2 2028.3,488.8 2028.6,488.4 2028.9,488.0 2029.2,487.7 2029.5,487.3 2029.9,486.9 2030.2,486.5 2030.5,486.1 2030.7,485.8 M2057.2,452.6 2057.3,452.5 2057.6,452.1 2057.9,451.7 2058.2,451.3 2058.5,450.9 2058.8,450.5 2059.1,450.1 2059.4,449.7 2059.7,449.3 2060.0,448.9 2060.3,448.5 2060.6,448.1 2060.9,447.7 2061.2,447.3 2061.5,446.9 2061.8,446.5 2062.1,446.1 2062.4,445.7 2062.8,445.3 2063.1,444.9 2063.4,444.5 2063.7,444.1 2064.0,443.7 2064.3,443.3 2064.6,442.9 2064.9,442.5 2065.2,442.1 2065.5,441.7 2065.8,441.3 2066.1,440.9 2066.4,440.5 2066.7,440.1 2067.0,439.7 2067.3,439.3 2067.6,438.9 2067.9,438.5 2068.2,438.1 2068.5,437.7 2068.8,437.3 2069.1,436.9 2069.4,436.5 2069.7,436.1 2070.0,435.7 2070.3,435.3 2070.6,434.9 2070.9,434.5 2071.2,434.1 2071.5,433.7 2071.8,433.3 2072.1,432.9 2072.4,432.5 2072.7,432.1 2073.0,431.7 2073.3,431.3 2073.6,430.9 2073.9,430.5 2074.2,430.1 2074.5,429.7 2074.8,429.3 2075.1,428.9 2075.4,428.5 2075.7,428.1 2075.9,427.7 2076.2,427.3 2076.5,426.9 2076.8,426.5 2077.1,426.1 2077.4,425.7 2077.7,425.3 2078.0,424.9 2078.3,424.5 2078.6,424.1 2078.9,423.7 2079.2,423.3 2079.5,422.9 2079.8,422.5 2080.1,422.1 2080.4,421.7 2080.7,421.2 2081.0,420.8 2081.3,420.4 2081.6,420.0 2081.9,419.6 2082.2,419.2 2082.5,418.8 2082.7,418.4 2083.0,418.0 2083.3,417.6 2083.6,417.2 2083.9,416.8 2084.2,416.4 2084.5,416.0 2084.8,415.6 2085.1,415.2 2085.4,414.8 2085.7,414.4 2086.0,414.0 2086.3,413.6 2086.6,413.2 2086.9,412.7 2087.2,412.3 2087.4,411.9 2087.7,411.5 2088.0,411.1 2088.3,410.7 2088.6,410.3 2088.9,409.9 2089.2,409.5 2089.5,409.1 2089.8,408.7 2090.1,408.3 2090.4,407.9 2090.7,407.5 2090.9,407.1 2091.2,406.7 2091.5,406.2 2091.8,405.8 2092.1,405.4 2092.4,405.0 2092.6,404.8 M2116.9,369.9 2117.0,369.7 2117.3,369.3 2117.6,368.9 2117.8,368.5 2118.1,368.1 2118.4,367.7 2118.7,367.3 2119.0,366.8 2119.2,366.4 2119.5,366.0 2119.8,365.6 2120.0,365.4 M2143.5,330.0 2143.6,329.8 2143.9,329.4 2144.2,328.9 2144.4,328.5 2144.7,328.1 2145.0,327.7 2145.3,327.3 2145.5,326.8 2145.8,326.4 2146.1,326.0 2146.3,325.6 2146.6,325.2 2146.9,324.7 2147.2,324.3 2147.4,323.9 2147.7,323.5 2148.0,323.1 2148.2,322.6 2148.5,322.2 2148.8,321.8 2149.1,321.4 2149.3,321.0 2149.6,320.5 2149.9,320.1 2150.1,319.7 2150.4,319.3 2150.7,318.9 2151.0,318.4 2151.2,318.0 2151.5,317.6 2151.8,317.2 2152.0,316.8 2152.3,316.3 2152.6,315.9 2152.9,315.5 2153.1,315.1 2153.4,314.7 2153.7,314.2 2153.9,313.8 2154.2,313.4 2154.5,313.0 2154.7,312.6 2155.0,312.1 2155.3,311.7 2155.6,311.3 2155.8,310.9 2156.1,310.4 2156.4,310.0 2156.6,309.6 2156.9,309.2 2157.2,308.8 2157.4,308.3 2157.7,307.9 2158.0,307.5 2158.2,307.1 2158.5,306.6 2158.8,306.2 2159.1,305.8 2159.3,305.4 2159.6,305.0 2159.9,304.5 2160.1,304.1 2160.4,303.7 2160.7,303.3 2160.9,302.9 2161.2,302.4 2161.5,302.0 2161.7,301.6 2162.0,301.2 2162.3,300.7 2162.5,300.3 2162.8,299.9 2163.1,299.5 2163.3,299.0 2163.6,298.6 2163.9,298.2 2164.1,297.8 2164.4,297.4 2164.7,296.9 2164.9,296.5 2165.2,296.1 2165.5,295.7 2165.7,295.2 2166.0,294.8 2166.3,294.4 2166.5,294.0 2166.8,293.5 2167.1,293.1 2167.3,292.7 2167.6,292.3 2167.9,291.9 2168.1,291.4 2168.4,291.0 2168.7,290.6 2168.9,290.2 2169.2,289.7 2169.5,289.3 2169.7,288.9 2170.0,288.5 2170.3,288.0 2170.5,287.6 2170.8,287.2 2171.1,286.8 2171.3,286.3 2171.6,285.9 2171.9,285.5 2172.1,285.1 2172.4,284.6 2172.7,284.2 2172.9,283.8 2173.2,283.4 2173.4,283.0 2173.7,282.5 2174.0,282.1 2174.2,281.7 2174.5,281.3 2174.8,280.8 2175.0,280.4 2175.3,280.0 2175.4,279.8 M2197.6,243.5 2197.7,243.3 2198.0,242.9 2198.3,242.4 2198.5,242.0 2198.8,241.6 2199.0,241.1 2199.3,240.7 2199.6,240.3 2199.8,239.9 2200.1,239.4 2200.3,239.0 2200.5,238.8 M2222.1,202.2 2222.3,202.0 2222.5,201.6 2222.8,201.1 2223.0,200.7 2223.3,200.3 2223.5,199.8 2223.8,199.4 2224.0,199.0 2224.3,198.5 2224.5,198.1 2224.8,197.7 2225.0,197.2 2225.3,196.8 2225.5,196.4 2225.8,195.9 2226.0,195.5 2226.3,195.1 2226.5,194.7 2226.8,194.2 2227.0,193.8 2227.3,193.4 2227.5,192.9 2227.8,192.5 2228.0,192.1 2228.3,191.6 2228.6,191.2 2228.8,190.8 2229.1,190.3 2229.3,189.9 2229.6,189.5 2229.8,189.0 2230.1,188.6 2230.3,188.2 2230.6,187.7 2230.8,187.3 2231.1,186.9 2231.3,186.4 2231.6,186.0 2231.8,185.6 2232.1,185.1 2232.3,184.7 2232.6,184.3 2232.8,183.8 2233.1,183.4 2233.3,183.0 2233.6,182.5 2233.8,182.1 2234.1,181.7 2234.3,181.2 2234.6,180.8 2234.8,180.4 2235.1,179.9 2235.3,179.5 2235.6,179.1 2235.8,178.6 2236.1,178.2 2236.3,177.8 2236.6,177.3 2236.8,176.9 2237.1,176.5 2237.3,176.0 2237.6,175.6 2237.8,175.2 2238.0,174.7 2238.3,174.3 2238.5,173.9 2238.8,173.4 2239.0,173.0 2239.3,172.6 2239.5,172.1 2239.8,171.7 2240.0,171.3 2240.3,170.8 2240.5,170.4 2240.8,170.0 2241.0,169.5 2241.3,169.1 2241.5,168.7 2241.8,168.2 2242.0,167.8 2242.3,167.3 2242.5,166.9 2242.8,166.5 2243.0,166.0 2243.3,165.6 2243.5,165.2 2243.8,164.7 2244.0,164.3 2244.3,163.9 2244.5,163.4 2244.8,163.0 2245.0,162.6 2245.2,162.1 2245.5,161.7 2245.7,161.3 2246.0,160.8 2246.2,160.4 2246.5,160.0 2246.7,159.5 2247.0,159.1 2247.2,158.7 2247.5,158.2 2247.7,157.8 2248.0,157.3 2248.2,156.9 2248.5,156.5 2248.7,156.0 2249.0,155.6 2249.2,155.2 2249.4,154.7 2249.7,154.3 2249.9,153.9 2250.2,153.4 2250.4,153.0 2250.7,152.6 2250.9,152.1 2251.2,151.7 2251.4,151.3 2251.7,150.8 2251.8,150.6 M2272.5,113.5 2272.6,113.3 2272.9,112.8 2273.1,112.4 2273.4,112.0 2273.6,111.5 2273.8,111.1 2274.1,110.6 2274.3,110.2 2274.3,110.2" fill="none" stroke="#44dc44" stroke-width="12.5" stroke-linecap="round" stroke-linejoin="round"/>
<path d="M1638.9,110.2 1639.0,110.7 1639.0,111.2 1639.1,111.7 1639.2,112.2 1639.2,112.7 1639.3,113.2 1639.3,113.7 1639.4,114.2 1639.4,114.7 1639.5,115.2 1639.5,115.7 1639.6,116.2 1639.6,116.7 1639.7,117.2 1639.7,117.7 1639.8,118.2 1639.8,118.7 1639.9,119.2 1639.9,119.7 1640.0,120.1 1640.0,120.6 1640.1,121.1 1640.1,121.6 1640.2,122.1 1640.2,122.6 1640.3,123.1 1640.4,123.6 1640.4,124.1 1640.5,124.6 1640.5,125.1 1640.6,125.6 1640.6,126.1 1640.7,126.6 1640.7,127.1 1640.8,127.6 1640.8,128.1 1640.9,128.6 1640.9,129.1 1641.0,129.6 1641.0,130.1 1641.1,130.6 1641.2,131.1 1641.2,131.6 1641.3,132.1 1641.3,132.6 1641.4,133.1 1641.4,133.6 1641.5,134.1 1641.5,134.6 1641.6,135.1 1641.6,135.6 1641.7,136.1 1641.7,136.6 1641.8,137.1 1641.9,137.6 1641.9,138.1 1642.0,138.5 1642.0,139.0 1642.1,139.5 1642.1,140.0 1642.2,140.5 1642.2,141.0 1642.3,141.5 1642.4,142.0 1642.4,142.5 1642.5,143.0 1642.5,143.5 1642.6,144.0 1642.6,144.5 1642.7,145.0 1642.7,145.5 1642.8,146.0 1642.8,146.5 1642.9,147.0 1643.0,147.5 1643.0,148.0 1643.1,148.5 1643.1,149.0 1643.2,149.5 1643.2,150.0 1643.3,150.5 1643.4,151.0 1643.4,151.5 1643.5,152.0 1643.5,152.5 1643.6,153.0 1643.6,153.5 1643.7,154.0 1643.7,154.5 1643.8,155.0 1643.9,155.4 1643.9,155.9 1644.0,156.4 1644.0,156.9 1644.1,157.4 1644.1,157.9 1644.2,158.4 1644.3,158.9 1644.3,159.4 1644.4,159.9 1644.4,160.4 1644.5,160.9 1644.5,161.4 1644.6,161.9 1644.7,162.4 1644.7,162.9 1644.8,163.4 1644.8,163.9 1644.9,164.4 1645.0,164.9 1645.0,165.4 1645.1,165.9 1645.1,166.4 1645.2,166.9 1645.2,167.4 1645.3,167.9 1645.4,168.4 1645.4,168.9 1645.5,169.4 1645.5,169.9 1645.6,170.4 1645.7,170.8 1645.7,171.3 1645.8,171.8 1645.8,172.3 1645.9,172.8 1646.0,173.3 1646.0,173.8 1646.1,174.3 1646.1,174.8 1646.2,175.3 1646.2,175.8 1646.3,176.3 1646.4,176.8 1646.4,177.3 1646.5,177.8 1646.5,178.3 1646.6,178.8 1646.7,179.3 1646.7,179.8 1646.8,180.3 1646.8,180.8 1646.9,181.3 1647.0,181.8 1647.0,182.3 1647.1,182.8 1647.2,183.3 1647.2,183.8 1647.3,184.3 1647.3,184.8 1647.4,185.2 1647.5,185.7 1647.5,186.2 1647.6,186.7 1647.6,187.2 1647.7,187.7 1647.8,188.2 1647.8,188.7 1647.9,189.2 1647.9,189.7 1648.0,190.2 1648.1,190.7 1648.1,191.2 1648.2,191.7 1648.3,192.2 1648.3,192.7 1648.4,193.2 1648.4,193.7 1648.5,194.2 1648.6,194.7 1648.6,195.2 1648.7,195.7 1648.8,196.2 1648.8,196.7 1648.9,197.2 1648.9,197.7 1649.0,198.2 1649.1,198.6 1649.1,199.1 1649.2,199.6 1649.3,200.1 1649.3,200.6 1649.4,201.1 1649.4,201.6 1649.5,202.1 1649.6,202.6 1649.6,203.1 1649.7,203.6 1649.8,204.1 1649.8,204.6 1649.9,205.1 1650.0,205.6 1650.0,206.1 1650.1,206.6 1650.2,207.1 1650.2,207.6 1650.3,208.1 1650.3,208.6 1650.4,209.1 1650.5,209.6 1650.5,210.1 1650.6,210.6 1650.7,211.0 1650.7,211.5 1650.8,212.0 1650.9,212.5 1650.9,213.0 1651.0,213.5 1651.1,214.0 1651.1,214.5 1651.2,215.0 1651.3,215.5 1651.3,216.0 1651.4,216.5 1651.5,217.0 1651.5,217.5 1651.6,218.0 1651.7,218.5 1651.7,219.0 1651.8,219.5 1651.9,220.0 1651.9,220.5 1652.0,221.0 1652.1,221.5 1652.1,222.0 1652.2,222.5 1652.3,222.9 1652.3,223.4 1652.4,223.9 1652.5,224.4 1652.5,224.9 1652.6,225.4 1652.7,225.9 1652.7,226.4 1652.8,226.9 1652.9,227.4 1652.9,227.9 1653.0,228.4 1653.1,228.9 1653.1,229.4 1653.2,229.9 1653.3,230.4 1653.3,230.9 1653.4,231.4 1653.5,231.9 1653.5,232.4 1653.6,232.9 1653.7,233.4 1653.8,233.8 1653.8,234.3 1653.9,234.8 1654.0,235.3 1654.0,235.8 1654.1,236.3 1654.2,236.8 1654.2,237.3 1654.3,237.8 1654.4,238.3 1654.4,238.8 1654.5,239.3 1654.6,239.8 1654.7,240.3 1654.7,240.8 1654.8,241.3 1654.9,241.8 1654.9,242.3 1655.0,242.8 1655.1,243.3 1655.1,243.8 1655.2,244.2 1655.3,244.7 1655.4,245.2 1655.4,245.7 1655.5,246.2 1655.6,246.7 1655.6,247.2 1655.7,247.7 1655.8,248.2 1655.9,248.7 1655.9,249.2 1656.0,249.7 1656.1,250.2 1656.2,250.7 1656.2,251.2 1656.3,251.7 1656.4,252.2 1656.4,252.7 1656.5,253.2 1656.6,253.7 1656.7,254.1 1656.7,254.6 1656.8,255.1 1656.9,255.6 1657.0,256.1 1657.0,256.6 1657.1,257.1 1657.2,257.6 1657.2,258.1 1657.3,258.6 1657.4,259.1 1657.5,259.6 1657.5,260.1 1657.6,260.6 1657.7,261.1 1657.8,261.6 1657.8,262.1 1657.9,262.6 1658.0,263.1 1658.1,263.5 1658.1,264.0 1658.2,264.5 1658.3,265.0 1658.4,265.5 1658.4,266.0 1658.5,266.5 1658.6,267.0 1658.7,267.5 1658.7,268.0 1658.8,268.5 1658.9,269.0 1659.0,269.5 1659.0,270.0 1659.1,270.5 1659.2,271.0 1659.3,271.5 1659.3,272.0 1659.4,272.4 1659.5,272.9 1659.6,273.4 1659.7,273.9 1659.7,274.4 1659.8,274.9 1659.9,275.4 1660.0,275.9 1660.0,276.4 1660.1,276.9 1660.2,277.4 1660.3,277.9 1660.4,278.4 1660.4,278.9 1660.5,279.4 1660.6,279.9 1660.7,280.4 1660.7,280.8 1660.8,281.3 1660.9,281.8 1661.0,282.3 1661.1,282.8 1661.1,283.3 1661.2,283.8 1661.3,284.3 1661.4,284.8 1661.5,285.3 1661.5,285.8 1661.6,286.3 1661.7,286.8 1661.8,287.3 1661.9,287.8 1661.9,288.3 1662.0,288.7 1662.1,289.2 1662.2,289.7 1662.3,290.2 1662.3,290.7 1662.4,291.2 1662.5,291.7 1662.6,292.2 1662.7,292.7 1662.7,293.2 1662.8,293.7 1662.9,294.2 1663.0,294.7 1663.1,295.2 1663.2,295.7 1663.2,296.1 1663.3,296.6 1663.4,297.1 1663.5,297.6 1663.6,298.1 1663.6,298.6 1663.7,299.1 1663.8,299.6 1663.9,300.1 1664.0,300.6 1664.1,301.1 1664.1,301.6 1664.2,302.1 1664.3,302.6 1664.4,303.1 1664.5,303.5 1664.6,304.0 1664.6,304.5 1664.7,305.0 1664.8,305.5 1664.9,306.0 1665.0,306.5 1665.1,307.0 1665.2,307.5 1665.2,308.0 1665.3,308.5 1665.4,309.0 1665.5,309.5 1665.6,310.0 1665.7,310.4 1665.8,310.9 1665.8,311.4 1665.9,311.9 1666.0,312.4 1666.1,312.9 1666.2,313.4 1666.3,313.9 1666.4,314.4 1666.4,314.9 1666.5,315.4 1666.6,315.9 1666.7,316.4 1666.8,316.9 1666.9,317.3 1667.0,317.8 1667.1,318.3 1667.1,318.8 1667.2,319.3 1667.3,319.8 1667.4,320.3 1667.5,320.8 1667.6,321.3 1667.7,321.8 1667.8,322.3 1667.9,322.8 1667.9,323.3 1668.0,323.7 1668.1,324.2 1668.2,324.7 1668.3,325.2 1668.4,325.7 1668.5,326.2 1668.6,326.7 1668.7,327.2 1668.8,327.7 1668.8,328.2 1668.9,328.7 1669.0,329.2 1669.1,329.6 1669.2,330.1 1669.3,330.6 1669.4,331.1 1669.5,331.6 1669.6,332.1 1669.7,332.6 1669.8,333.1 1669.9,333.6 1669.9,334.1 1670.0,334.6 1670.1,335.1 1670.2,335.5 1670.3,336.0 1670.4,336.5 1670.5,337.0 1670.6,337.5 1670.7,338.0 1670.8,338.5 1670.9,339.0 1671.0,339.5 1671.1,340.0 1671.2,340.5 1671.3,341.0 1671.3,341.4 1671.4,341.9 1671.5,342.4 1671.6,342.9 1671.7,343.4 1671.8,343.9 1671.9,344.4 1672.0,344.9 1672.1,345.4 1672.2,345.9 1672.3,346.4 1672.4,346.8 1672.5,347.3 1672.6,347.8 1672.7,348.3 1672.8,348.8 1672.9,349.3 1673.0,349.8 1673.1,350.3 1673.2,350.8 1673.3,351.3 1673.4,351.7 1673.5,352.2 1673.6,352.7 1673.7,353.2 1673.8,353.7 1673.9,354.2 1674.0,354.7 1674.1,355.2 1674.2,355.7 1674.3,356.2 1674.4,356.7 1674.5,357.1 1674.6,357.6 1674.7,358.1 1674.8,358.6 1674.9,359.1 1675.0,359.6 1675.1,360.1 1675.2,360.6 1675.3,361.1 1675.4,361.6 1675.5,362.0 1675.6,362.5 1675.7,363.0 1675.8,363.5 1675.9,364.0 1676.0,364.5 1676.1,365.0 1676.2,365.5 1676.3,366.0 1676.4,366.4 1676.5,366.9 1676.6,367.4 1676.7,367.9 1676.8,368.4 1676.9,368.9 1677.0,369.4 1677.1,369.9 1677.2,370.4 1677.3,370.8 1677.4,371.3 1677.5,371.8 1677.6,372.3 1677.7,372.8 1677.8,373.3 1678.0,373.8 1678.1,374.3 1678.2,374.8 1678.3,375.2 1678.4,375.7 1678.5,376.2 1678.6,376.7 1678.7,377.2 1678.8,377.7 1678.9,378.2 1679.0,378.7 1679.1,379.2 1679.2,379.6 1679.3,380.1 1679.5,380.6 1679.6,381.1 1679.7,381.6 1679.8,382.1 1679.9,382.6 1680.0,383.1 1680.1,383.6 1680.2,384.0 1680.3,384.5 1680.4,385.0 1680.6,385.5 1680.7,386.0 1680.8,386.5 1680.9,387.0 1681.0,387.5 1681.1,387.9 1681.2,388.4 1681.3,388.9 1681.4,389.4 1681.6,389.9 1681.7,390.4 1681.8,390.9 1681.9,391.4 1682.0,391.8 1682.1,392.3 1682.2,392.8 1682.3,393.3 1682.5,393.8 1682.6,394.3 1682.7,394.8 1682.8,395.2 1682.9,395.7 1683.0,396.2 1683.1,396.7 1683.3,397.2 1683.4,397.7 1683.5,398.2 1683.6,398.7 1683.7,399.1 1683.8,399.6 1684.0,400.1 1684.1,400.6 1684.2,401.1 1684.3,401.6 1684.4,402.1 1684.5,402.5 1684.7,403.0 1684.8,403.5 1684.9,404.0 1685.0,404.5 1685.1,405.0 1685.3,405.5 1685.4,405.9 1685.5,406.4 1685.6,406.9 1685.7,407.4 1685.9,407.9 1686.0,408.4 1686.1,408.9 1686.2,409.3 1686.3,409.8 1686.5,410.3 1686.6,410.8 1686.7,411.3 1686.8,411.8 1687.0,412.3 1687.1,412.7 1687.2,413.2 1687.3,413.7 1687.4,414.2 1687.6,414.7 1687.7,415.2 1687.8,415.6 1687.9,416.1 1688.1,416.6 1688.2,417.1 1688.3,417.6 1688.4,418.1 1688.6,418.6 1688.7,419.0 1688.8,419.5 1688.9,420.0 1689.1,420.5 1689.2,421.0 1689.3,421.5 1689.5,421.9 1689.6,422.4 1689.7,422.9 1689.8,423.4 1690.0,423.9 1690.1,424.4 1690.2,424.8 1690.4,425.3 1690.5,425.8 1690.6,426.3 1690.7,426.8 1690.9,427.3 1691.0,427.7 1691.1,428.2 1691.3,428.7 1691.4,429.2 1691.5,429.7 1691.7,430.2 1691.8,430.6 1691.9,431.1 1692.1,431.6 1692.2,432.1 1692.3,432.6 1692.5,433.0 1692.6,433.5 1692.7,434.0 1692.9,434.5 1693.0,435.0 1693.1,435.5 1693.3,435.9 1693.4,436.4 1693.5,436.9 1693.7,437.4 1693.8,437.9 1693.9,438.3 1694.1,438.8 1694.2,439.3 1694.4,439.8 1694.5,440.3 1694.6,440.7 1694.8,441.2 1694.9,441.7 1695.1,442.2 1695.2,442.7 1695.3,443.1 1695.5,443.6 1695.6,444.1 1695.8,444.6 1695.9,445.1 1696.0,445.5 1696.2,446.0 1696.3,446.5 1696.5,447.0 1696.6,447.5 1696.7,447.9 1696.9,448.4 1697.0,448.9 1697.2,449.4 1697.3,449.9 1697.5,450.3 1697.6,450.8 1697.8,451.3 1697.9,451.8 1698.0,452.3 1698.2,452.7 1698.3,453.2 1698.5,453.7 1698.6,454.2 1698.8,454.6 1698.9,455.1 1699.1,455.6 1699.2,456.1 1699.4,456.6 1699.5,457.0 1699.7,457.5 1699.8,458.0 1700.0,458.5 1700.1,458.9 1700.3,459.4 1700.4,459.9 1700.6,460.4 1700.7,460.8 1700.9,461.3 1701.0,461.8 1701.2,462.3 1701.3,462.8 1701.5,463.2 1701.6,463.7 1701.8,464.2 1702.0,464.7 1702.1,465.1 1702.3,465.6 1702.4,466.1 1702.6,466.6 1702.7,467.0 1702.9,467.5 1703.0,468.0 1703.2,468.5 1703.4,468.9 1703.5,469.4 1703.7,469.9 1703.8,470.4 1704.0,470.8 1704.2,471.3 1704.3,471.8 1704.5,472.3 1704.6,472.7 1704.8,473.2 1705.0,473.7 1705.1,474.1 1705.3,474.6 1705.4,475.1 1705.6,475.6 1705.8,476.0 1705.9,476.5 1706.1,477.0 1706.3,477.5 1706.4,477.9 1706.6,478.4 1706.8,478.9 1706.9,479.3 1707.1,479.8 1707.3,480.3 1707.4,480.8 1707.6,481.2 1707.8,481.7 1707.9,482.2 1708.1,482.6 1708.3,483.1 1708.4,483.6 1708.6,484.0 1708.8,484.5 1709.0,485.0 1709.1,485.5 1709.3,485.9 1709.5,486.4 1709.7,486.9 1709.8,487.3 1710.0,487.8 1710.2,488.3 1710.4,488.7 1710.5,489.2 1710.7,489.7 1710.9,490.1 1711.1,490.6 1711.2,491.1 1711.4,491.5 1711.6,492.0 1711.8,492.5 1711.9,493.0 1712.1,493.4 1712.3,493.9 1712.5,494.4 1712.7,494.8 1712.9,495.3 1713.0,495.7 1713.2,496.2 1713.4,496.7 1713.6,497.1 1713.8,497.6 1713.9,498.1 1714.1,498.5 1714.3,499.0 1714.5,499.5 1714.7,499.9 1714.9,500.4 1715.1,500.9 1715.3,501.3 1715.4,501.8 1715.6,502.3 1715.8,502.7 1716.0,503.2 1716.2,503.6 1716.4,504.1 1716.6,504.6 1716.8,505.0 1717.0,505.5 1717.2,505.9 1717.4,506.4 1717.6,506.9 1717.7,507.3 1717.9,507.8 1718.1,508.3 1718.3,508.7 1718.5,509.2 1718.7,509.6 1718.9,510.1 1719.1,510.5 1719.3,511.0 1719.5,511.5 1719.7,511.9 1719.9,512.4 1720.1,512.8 1720.3,513.3 1720.5,513.8 1720.7,514.2 1720.9,514.7 1721.1,515.1 1721.3,515.6 1721.6,516.0 1721.8,516.5 1722.0,516.9 1722.2,517.4 1722.4,517.9 1722.6,518.3 1722.8,518.8 1723.0,519.2 1723.2,519.7 1723.4,520.1 1723.6,520.6 1723.9,521.0 1724.1,521.5 1724.3,521.9 1724.5,522.4 1724.7,522.8 1724.9,523.3 1725.1,523.7 1725.4,524.2 1725.6,524.6 1725.8,525.1 1726.0,525.5 1726.2,526.0 1726.4,526.4 1726.7,526.9 1726.9,527.3 1727.1,527.8 1727.3,528.2 1727.6,528.7 1727.8,529.1 1728.0,529.6 1728.2,530.0 1728.5,530.5 1728.7,530.9 1728.9,531.4 1729.1,531.8 1729.4,532.3 1729.6,532.7 1729.8,533.1 1730.1,533.6 1730.3,534.0 1730.5,534.5 1730.8,534.9 1731.0,535.4 1731.2,535.8 1731.5,536.2 1731.7,536.7 1731.9,537.1 1732.2,537.6 1732.4,538.0 1732.6,538.4 1732.9,538.9 1733.1,539.3 1733.4,539.8 1733.6,540.2 1733.9,540.6 1734.1,541.1 1734.3,541.5 1734.6,541.9 1734.8,542.4 1735.1,542.8 1735.3,543.2 1735.6,543.7 1735.8,544.1 1736.1,544.5 1736.3,545.0 1736.6,545.4 1736.8,545.8 1737.1,546.3 1737.3,546.7 1737.6,547.1 1737.9,547.6 1738.1,548.0 1738.4,548.4 1738.6,548.9 1738.9,549.3 1739.1,549.7 1739.4,550.1 1739.7,550.6 1739.9,551.0 1740.2,551.4 1740.5,551.8 1740.7,552.3 1741.0,552.7 1741.3,553.1 1741.5,553.5 1741.8,553.9 1742.1,554.4 1742.3,554.8 1742.6,555.2 1742.9,555.6 1743.2,556.0 1743.4,556.5 1743.7,556.9 1744.0,557.3 1744.3,557.7 1744.5,558.1 1744.8,558.5 1745.1,559.0 1745.4,559.4 1745.7,559.8 1745.9,560.2 1746.2,560.6 1746.5,561.0 1746.8,561.4 1747.1,561.8 1747.4,562.2 1747.7,562.6 1748.0,563.1 1748.3,563.5 1748.5,563.9 1748.8,564.3 1749.1,564.7 1749.4,565.1 1749.7,565.5 1750.0,565.9 1750.3,566.3 1750.6,566.7 1750.9,567.1 1751.2,567.5 1751.5,567.9 1751.8,568.3 1752.1,568.7 1752.5,569.1 1752.8,569.5 1753.1,569.9 1753.4,570.2 1753.7,570.6 1754.0,571.0 1754.3,571.4 1754.6,571.8 1754.9,572.2 1755.3,572.6 1755.6,573.0 1755.9,573.4 1756.2,573.7 1756.5,574.1 1756.9,574.5 1757.2,574.9 1757.5,575.3 1757.8,575.6 1758.2,576.0 1758.5,576.4 1758.8,576.8 1759.2,577.1 1759.5,577.5 1759.8,577.9 1760.2,578.3 1760.5,578.6 1760.8,579.0 1761.2,579.4 1761.5,579.7 1761.9,580.1 1762.2,580.5 1762.5,580.8 1762.9,581.2 1763.2,581.6 1763.6,581.9 1763.9,582.3 1764.3,582.6 1764.6,583.0 1765.0,583.3 1765.3,583.7 1765.7,584.0 1766.1,584.4 1766.4,584.7 1766.8,585.1 1767.1,585.4 1767.5,585.8 1767.9,586.1 1768.2,586.5 1768.6,586.8 1769.0,587.1 1769.3,587.5 1769.7,587.8 1770.1,588.2 1770.4,588.5 1770.8,588.8 1771.2,589.2 1771.6,589.5 1771.9,589.8 1772.3,590.1 1772.7,590.5 1773.1,590.8 1773.5,591.1 1773.9,591.4 1774.2,591.7 1774.6,592.1 1775.0,592.4 1775.4,592.7 1775.8,593.0 1776.2,593.3 1776.6,593.6 1777.0,593.9 1777.4,594.2 1777.8,594.5 1778.2,594.8 1778.6,595.1 1779.0,595.4 1779.4,595.7 1779.8,596.0 1780.2,596.3 1780.6,596.6 1781.0,596.9 1781.4,597.1 1781.9,597.4 1782.3,597.7 1782.7,598.0 1783.1,598.3 1783.5,598.5 1783.9,598.8 1784.4,599.1 1784.8,599.3 1785.2,599.6 1785.6,599.9 1786.1,600.1 1786.5,600.4 1786.9,600.7 1787.3,600.9 1787.8,601.2 1788.2,601.4 1788.6,601.7 1789.1,601.9 1789.5,602.1 1790.0,602.4 1790.4,602.6 1790.8,602.9 1791.3,603.1 1791.7,603.3 1792.2,603.6 1792.6,603.8 1793.1,604.0 1793.5,604.2 1794.0,604.4 1794.4,604.7 1794.9,604.9 1795.3,605.1 1795.8,605.3 1796.2,605.5 1796.7,605.7 1797.1,605.9 1797.6,606.1 1798.1,606.3 1798.5,606.5 1799.0,606.7 1799.4,606.9 1799.9,607.1 1800.4,607.3 1800.8,607.4 1801.3,607.6 1801.8,607.8 1802.2,608.0 1802.7,608.1 1803.2,608.3 1803.7,608.5 1804.1,608.6 1804.6,608.8 1805.1,608.9 1805.6,609.1 1806.0,609.2 1806.5,609.4 1807.0,609.5 1807.5,609.7 1807.9,609.8 1808.4,609.9 1808.9,610.1 1809.4,610.2 1809.9,610.3 1810.4,610.5 1810.8,610.6 1811.3,610.7 1811.8,610.8 1812.3,610.9 1812.8,611.0 1813.3,611.1 1813.8,611.2 1814.3,611.3 1814.8,611.4 1815.2,611.5 1815.7,611.6 1816.2,611.7 1816.7,611.8 1817.2,611.9 1817.7,612.0 1818.2,612.1 1818.7,612.1 1819.2,612.2 1819.7,612.3 1820.2,612.3 1820.7,612.4 1821.2,612.5 1821.7,612.5 1822.2,612.6 1822.7,612.6 1823.2,612.7 1823.7,612.7 1824.2,612.8 1824.7,612.8 1825.2,612.9 1825.7,612.9 1826.2,612.9 1826.7,613.0 1827.2,613.0 1827.7,613.0 1828.2,613.0 1828.7,613.0 1829.2,613.1 1829.7,613.1 1830.2,613.1 1830.7,613.1 1831.2,613.1 1831.7,613.1 1832.2,613.1 1832.7,613.1 1833.2,613.1 1833.7,613.1 1834.2,613.1 1834.7,613.1 1835.2,613.0 1835.7,613.0 1836.2,613.0 1836.7,613.0 1837.2,613.0 1837.7,612.9 1838.1,612.9 1838.6,612.9 1839.1,612.8 1839.6,612.8 1840.1,612.7 1840.6,612.7 1841.1,612.7 1841.6,612.6 1842.1,612.6 1842.6,612.5 1843.1,612.4 1843.6,612.4 1844.1,612.3 1844.6,612.3 1845.1,612.2 1845.6,612.1 1846.1,612.1 1846.6,612.0 1847.1,611.9 1847.6,611.8 1848.1,611.8 1848.6,611.7 1849.1,611.6 1849.6,611.5 1850.1,611.4 1850.5,611.3 1851.0,611.2 1851.5,611.1 1852.0,611.0 1852.5,610.9 1853.0,610.8 1853.5,610.7 1854.0,610.6 1854.5,610.5 1855.0,610.4 1855.4,610.3 1855.9,610.2 1856.4,610.1 1856.9,610.0 1857.4,609.8 1857.9,609.7 1858.4,609.6 1858.8,609.5 1859.3,609.3 1859.8,609.2 1860.3,609.1 1860.8,609.0 1861.3,608.8 1861.7,608.7 1862.2,608.6 1862.7,608.4 1863.2,608.3 1863.7,608.1 1864.1,608.0 1864.6,607.8 1865.1,607.7 1865.6,607.5 1866.0,607.4 1866.5,607.2 1867.0,607.1 1867.5,606.9 1867.9,606.8 1868.4,606.6 1868.9,606.4 1869.4,606.3 1869.8,606.1 1870.3,605.9 1870.8,605.8 1871.3,605.6 1871.7,605.4 1872.2,605.3 1872.7,605.1 1873.1,604.9 1873.6,604.7 1874.1,604.6 1874.5,604.4 1875.0,604.2 1875.5,604.0 1875.9,603.8 1876.4,603.6 1876.9,603.4 1877.3,603.3 1877.8,603.1 1878.2,602.9 1878.7,602.7 1879.2,602.5 1879.6,602.3 1880.1,602.1 1880.5,601.9 1881.0,601.7 1881.5,601.5 1881.9,601.3 1882.4,601.1 1882.8,600.9 1883.3,600.7 1883.7,600.5 1884.2,600.3 1884.6,600.1 1885.1,599.8 1885.6,599.6 1886.0,599.4 1886.5,599.2 1886.9,599.0 1887.4,598.8 1887.8,598.5 1888.3,598.3 1888.7,598.1 1889.2,597.9 1889.6,597.7 1890.1,597.4 1890.5,597.2 1890.9,597.0 1891.4,596.8 1891.8,596.5 1892.3,596.3 1892.7,596.1 1893.2,595.8 1893.6,595.6 1894.1,595.4 1894.5,595.1 1894.9,594.9 1895.4,594.7 1895.8,594.4 1896.3,594.2 1896.7,593.9 1897.1,593.7 1897.6,593.5 1898.0,593.2 1898.4,593.0 1898.9,592.7 1899.3,592.5 1899.7,592.2 1900.2,592.0 1900.6,591.7 1901.1,591.5 1901.5,591.2 1901.9,591.0 1902.3,590.7 1902.8,590.5 1903.2,590.2 1903.6,590.0 1904.1,589.7 1904.5,589.5 1904.9,589.2 1905.4,589.0 1905.8,588.7 1906.2,588.4 1906.6,588.2 1907.1,587.9 1907.5,587.6 1907.9,587.4 1908.3,587.1 1908.8,586.9 1909.2,586.6 1909.6,586.3 1910.0,586.1 1910.5,585.8 1910.9,585.5 1911.3,585.2 1911.7,585.0 1912.1,584.7 1912.6,584.4 1913.0,584.2 1913.4,583.9 1913.8,583.6 1914.2,583.3 1914.6,583.1 1915.1,582.8 1915.5,582.5 1915.9,582.2 1916.3,582.0 1916.7,581.7 1917.1,581.4 1917.6,581.1 1918.0,580.8 1918.4,580.5 1918.8,580.3 1919.2,580.0 1919.6,579.7 1920.0,579.4 1920.4,579.1 1920.9,578.8 1921.3,578.6 1921.7,578.3 1922.1,578.0 1922.5,577.7 1922.9,577.4 1923.3,577.1 1923.7,576.8 1924.1,576.5 1924.5,576.2 1924.9,575.9 1925.3,575.6 1925.7,575.4 1926.1,575.1 1926.5,574.8 1926.9,574.5 1927.4,574.2 1927.8,573.9 1928.2,573.6 1928.6,573.3 1929.0,573.0 1929.4,572.7 1929.8,572.4 1930.2,572.1 1930.6,571.8 1931.0,571.5 1931.4,571.2 1931.8,570.9 1932.2,570.6 1932.6,570.3 1932.9,570.0 1933.3,569.7 1933.7,569.4 1934.1,569.0 1934.5,568.7 1934.9,568.4 1935.3,568.1 1935.7,567.8 1936.1,567.5 1936.5,567.2 1936.9,566.9 1937.3,566.6 1937.7,566.3 1938.1,566.0 1938.5,565.7 1938.9,565.3 1939.2,565.0 1939.6,564.7 1940.0,564.4 1940.4,564.1 1940.8,563.8 1941.2,563.5 1941.6,563.1 1942.0,562.8 1942.4,562.5 1942.7,562.2 1943.1,561.9 1943.5,561.6 1943.9,561.2 1944.3,560.9 1944.7,560.6 1945.1,560.3 1945.4,560.0 1945.8,559.6 1946.2,559.3 1946.6,559.0 1947.0,558.7 1947.4,558.4 1947.7,558.0 1948.1,557.7 1948.5,557.4 1948.9,557.1 1949.3,556.7 1949.6,556.4 1950.0,556.1 1950.4,555.8 1950.8,555.4 1951.2,555.1 1951.5,554.8 1951.9,554.5 1952.3,554.1 1952.7,553.8 1953.1,553.5 1953.4,553.1 1953.8,552.8 1954.2,552.5 1954.6,552.2 1954.9,551.8 1955.3,551.5 1955.7,551.2 1956.1,550.8 1956.4,550.5 1956.8,550.2 1957.2,549.8 1957.6,549.5 1957.9,549.2 1958.3,548.8 1958.7,548.5 1959.0,548.2 1959.4,547.8 1959.8,547.5 1960.2,547.2 1960.5,546.8 1960.9,546.5 1961.3,546.2 1961.6,545.8 1962.0,545.5 1962.4,545.1 1962.7,544.8 1963.1,544.5 1963.5,544.1 1963.9,543.8 1964.2,543.4 1964.6,543.1 1965.0,542.8 1965.3,542.4 1965.7,542.1 1966.1,541.7 1966.4,541.4 1966.8,541.1 1967.1,540.7 1967.5,540.4 1967.9,540.0 1968.2,539.7 1968.6,539.4 1969.0,539.0 1969.3,538.7 1969.7,538.3 1970.1,538.0 1970.4,537.6 1970.8,537.3 1971.1,536.9 1971.5,536.6 1971.9,536.2 1972.2,535.9 1972.6,535.6 1972.9,535.2 1973.3,534.9 1973.7,534.5 1974.0,534.2 1974.4,533.8 1974.7,533.5 1975.1,533.1 1975.5,532.8 1975.8,532.4 1976.2,532.1 1976.5,531.7 1976.9,531.4 1977.2,531.0 1977.6,530.7 1978.0,530.3 1978.3,530.0 1978.7,529.6 1979.0,529.3 1979.4,528.9 1979.7,528.6 1980.1,528.2 1980.4,527.9 1980.8,527.5 1981.1,527.1 1981.5,526.8 1981.9,526.4 1982.2,526.1 1982.6,525.7 1982.9,525.4 1983.3,525.0 1983.6,524.7 1984.0,524.3 1984.3,523.9 1984.7,523.6 1985.0,523.2 1985.4,522.9 1985.7,522.5 1986.1,522.2 1986.4,521.8 1986.8,521.4 1987.1,521.1 1987.5,520.7 1987.8,520.4 1988.2,520.0 1988.5,519.7 1988.9,519.3 1989.2,518.9 1989.6,518.6 1989.9,518.2 1990.3,517.9 1990.6,517.5 1990.9,517.1 1991.3,516.8 1991.6,516.4 1992.0,516.1 1992.3,515.7 1992.7,515.3 1993.0,515.0 1993.4,514.6 1993.7,514.2 1994.1,513.9 1994.4,513.5 1994.7,513.2 1995.1,512.8 1995.4,512.4 1995.8,512.1 1996.1,511.7 1996.5,511.3 1996.8,511.0 1997.1,510.6 1997.5,510.2 1997.8,509.9 1998.2,509.5 1998.5,509.1 1998.8,508.8 1999.2,508.4 1999.5,508.0 1999.9,507.7 2000.2,507.3 2000.5,506.9 2000.9,506.6 2001.2,506.2 2001.6,505.8 2001.9,505.5 2002.2,505.1 2002.6,504.7 2002.9,504.4 2003.3,504.0 2003.6,503.6 2003.9,503.3 2004.3,502.9 2004.6,502.5 2004.9,502.2 2005.3,501.8 2005.6,501.4 2006.0,501.0 2006.3,500.7 2006.6,500.3 2007.0,499.9 2007.3,499.6 2007.6,499.2 2008.0,498.8 2008.3,498.4 2008.6,498.1 2009.0,497.7 2009.3,497.3 2009.6,497.0 2010.0,496.6 2010.3,496.2 2010.6,495.8 2011.0,495.5 2011.3,495.1 2011.6,494.7 2012.0,494.3 2012.3,494.0 2012.6,493.6 2013.0,493.2 2013.3,492.8 2013.6,492.5 2014.0,492.1 2014.3,491.7 2014.6,491.3 2014.9,491.0 2015.3,490.6 2015.6,490.2 2015.9,489.8 2016.3,489.5 2016.6,489.1 2016.9,488.7 2017.3,488.3 2017.6,488.0 2017.9,487.6 2018.2,487.2 2018.6,486.8 2018.9,486.5 2019.2,486.1 2019.6,485.7 2019.9,485.3 2020.2,484.9 2020.5,484.6 2020.9,484.2 2021.2,483.8 2021.5,483.4 2021.8,483.0 2022.2,482.7 2022.5,482.3 2022.8,481.9 2023.1,481.5 2023.5,481.1 2023.8,480.8 2024.1,480.4 2024.4,480.0 2024.8,479.6 2025.1,479.2 2025.4,478.9 2025.7,478.5 2026.1,478.1 2026.4,477.7 2026.7,477.3 2027.0,477.0 2027.4,476.6 2027.7,476.2 2028.0,475.8 2028.3,475.4 2028.7,475.0 2029.0,474.7 2029.3,474.3 2029.6,473.9 2029.9,473.5 2030.3,473.1 2030.6,472.8 2030.9,472.4 2031.2,472.0 2031.5,471.6 2031.9,471.2 2032.2,470.8 2032.5,470.4 2032.8,470.1 2033.1,469.7 2033.5,469.3 2033.8,468.9 2034.1,468.5 2034.4,468.1 2034.7,467.8 2035.1,467.4 2035.4,467.0 2035.7,466.6 2036.0,466.2 2036.3,465.8 2036.7,465.4 2037.0,465.1 2037.3,464.7 2037.6,464.3 2037.9,463.9 2038.2,463.5 2038.6,463.1 2038.9,462.7 2039.2,462.3 2039.5,462.0 2039.8,461.6 2040.1,461.2 2040.5,460.8 2040.8,460.4 2041.1,460.0 2041.4,459.6 2041.7,459.2 2042.0,458.9 2042.3,458.5 2042.7,458.1 2043.0,457.7 2043.3,457.3 2043.6,456.9 2043.9,456.5 2044.2,456.1 2044.5,455.7 2044.9,455.4 2045.2,455.0 2045.5,454.6 2045.8,454.2 2046.1,453.8 2046.4,453.4 2046.7,453.0 2047.0,452.6 2047.4,452.2 2047.7,451.8 2048.0,451.4 2048.3,451.1 2048.6,450.7 2048.9,450.3 2049.2,449.9 2049.5,449.5 2049.9,449.1 2050.2,448.7 2050.5,448.3 2050.8,447.9 2051.1,447.5 2051.4,447.1 2051.7,446.7 2052.0,446.4 2052.3,446.0 2052.6,445.6 2053.0,445.2 2053.3,444.8 2053.6,444.4 2053.9,444.0 2054.2,443.6 2054.5,443.2 2054.8,442.8 2055.1,442.4 2055.4,442.0 2055.7,441.6 2056.0,441.2 2056.3,440.8 2056.7,440.5 2057.0,440.1 2057.3,439.7 2057.6,439.3 2057.9,438.9 2058.2,438.5 2058.5,438.1 2058.8,437.7 2059.1,437.3 2059.4,436.9 2059.7,436.5 2060.0,436.1 2060.3,435.7 2060.6,435.3 2060.9,434.9 2061.3,434.5 2061.6,434.1 2061.9,433.7 2062.2,433.3 2062.5,432.9 2062.8,432.5 2063.1,432.1 2063.4,431.7 2063.7,431.3 2064.0,431.0 2064.3,430.6 2064.6,430.2 2064.9,429.8 2065.2,429.4 2065.5,429.0 2065.8,428.6 2066.1,428.2 2066.4,427.8 2066.7,427.4 2067.0,427.0 2067.3,426.6 2067.6,426.2 2067.9,425.8 2068.2,425.4 2068.5,425.0 2068.8,424.6 2069.1,424.2 2069.4,423.8 2069.7,423.4 2070.0,423.0 2070.4,422.6 2070.7,422.2 2071.0,421.8 2071.3,421.4 2071.6,421.0 2071.9,420.6 2072.2,420.2 2072.5,419.8 2072.8,419.4 2073.1,419.0 2073.4,418.6 2073.7,418.2 2074.0,417.8 2074.3,417.4 2074.6,417.0 2074.9,416.6 2075.2,416.2 2075.5,415.8 2075.8,415.4 2076.0,415.0 2076.3,414.6 2076.6,414.2 2076.9,413.8 2077.2,413.4 2077.5,413.0 2077.8,412.6 2078.1,412.2 2078.4,411.8 2078.7,411.4 2079.0,411.0 2079.3,410.6 2079.6,410.2 2079.9,409.8 2080.2,409.4 2080.5,409.0 2080.8,408.6 2081.1,408.1 2081.4,407.7 2081.7,407.3 2082.0,406.9 2082.3,406.5 2082.6,406.1 2082.9,405.7 2083.2,405.3 2083.5,404.9 2083.8,404.5 2084.1,404.1 2084.4,403.7 2084.7,403.3 2085.0,402.9 2085.2,402.5 2085.5,402.1 2085.8,401.7 2086.1,401.3 2086.4,400.9 2086.7,400.5 2087.0,400.1 2087.3,399.7 2087.6,399.3 2087.9,398.9 2088.2,398.5 2088.5,398.1 2088.8,397.6 2089.1,397.2 2089.4,396.8 2089.7,396.4 2089.9,396.0 2090.2,395.6 2090.5,395.2 2090.8,394.8 2091.1,394.4 2091.4,394.0 2091.7,393.6 2092.0,393.2 2092.3,392.8 2092.6,392.4 2092.9,392.0 2093.2,391.6 2093.4,391.2 2093.7,390.7 2094.0,390.3 2094.3,389.9 2094.6,389.5 2094.9,389.1 2095.2,388.7 2095.5,388.3 2095.8,387.9 2096.1,387.5 2096.4,387.1 2096.6,386.7 2096.9,386.3 2097.2,385.9 2097.5,385.5 2097.8,385.0 2098.1,384.6 2098.4,384.2 2098.7,383.8 2099.0,383.4 2099.3,383.0 2099.5,382.6 2099.8,382.2 2100.1,381.8 2100.4,381.4 2100.7,381.0 2101.0,380.6 2101.3,380.1 2101.6,379.7 2101.9,379.3 2102.1,378.9 2102.4,378.5 2102.7,378.1 2103.0,377.7 2103.3,377.3 2103.6,376.9 2103.9,376.5 2104.2,376.1 2104.4,375.6 2104.7,375.2 2105.0,374.8 2105.3,374.4 2105.6,374.0 2105.9,373.6 2106.2,373.2 2106.4,372.8 2106.7,372.4 2107.0,372.0 2107.3,371.5 2107.6,371.1 2107.9,370.7 2108.2,370.3 2108.4,369.9 2108.7,369.5 2109.0,369.1 2109.3,368.7 2109.6,368.3 2109.9,367.8 2110.2,367.4 2110.4,367.0 2110.7,366.6 2111.0,366.2 2111.3,365.8 2111.6,365.4 2111.9,365.0 2112.1,364.6 2112.4,364.1 2112.7,363.7 2113.0,363.3 2113.3,362.9 2113.6,362.5 2113.9,362.1 2114.1,361.7 2114.4,361.3 2114.7,360.9 2115.0,360.4 2115.3,360.0 2115.6,359.6 2115.8,359.2 2116.1,358.8 2116.4,358.4 2116.7,358.0 2117.0,357.6 2117.2,357.1 2117.5,356.7 2117.8,356.3 2118.1,355.9 2118.4,355.5 2118.7,355.1 2118.9,354.7 2119.2,354.2 2119.5,353.8 2119.8,353.4 2120.1,353.0 2120.3,352.6 2120.6,352.2 2120.9,351.8 2121.2,351.4 2121.5,350.9 2121.8,350.5 2122.0,350.1 2122.3,349.7 2122.6,349.3 2122.9,348.9 2123.2,348.5 2123.4,348.0 2123.7,347.6 2124.0,347.2 2124.3,346.8 2124.6,346.4 2124.8,346.0 2125.1,345.6 2125.4,345.1 2125.7,344.7 2126.0,344.3 2126.2,343.9 2126.5,343.5 2126.8,343.1 2127.1,342.6 2127.3,342.2 2127.6,341.8 2127.9,341.4 2128.2,341.0 2128.5,340.6 2128.7,340.2 2129.0,339.7 2129.3,339.3 2129.6,338.9 2129.9,338.5 2130.1,338.1 2130.4,337.7 2130.7,337.2 2131.0,336.8 2131.2,336.4 2131.5,336.0 2131.8,335.6 2132.1,335.2 2132.4,334.7 2132.6,334.3 2132.9,333.9 2133.2,333.5 2133.5,333.1 2133.7,332.7 2134.0,332.2 2134.3,331.8 2134.6,331.4 2134.8,331.0 2135.1,330.6 2135.4,330.2 2135.7,329.7 2135.9,329.3 2136.2,328.9 2136.5,328.5 2136.8,328.1 2137.0,327.7 2137.3,327.2 2137.6,326.8 2137.9,326.4 2138.1,326.0 2138.4,325.6 2138.7,325.2 2139.0,324.7 2139.2,324.3 2139.5,323.9 2139.8,323.5 2140.1,323.1 2140.3,322.6 2140.6,322.2 2140.9,321.8 2141.2,321.4 2141.4,321.0 2141.7,320.6 2142.0,320.1 2142.3,319.7 2142.5,319.3 2142.8,318.9 2143.1,318.5 2143.4,318.0 2143.6,317.6 2143.9,317.2 2144.2,316.8 2144.5,316.4 2144.7,315.9 2145.0,315.5 2145.3,315.1 2145.5,314.7 2145.8,314.3 2146.1,313.9 2146.4,313.4 2146.6,313.0 2146.9,312.6 2147.2,312.2 2147.5,311.8 2147.7,311.3 2148.0,310.9 2148.3,310.5 2148.5,310.1 2148.8,309.7 2149.1,309.2 2149.4,308.8 2149.6,308.4 2149.9,308.0 2150.2,307.6 2150.4,307.1 2150.7,306.7 2151.0,306.3 2151.3,305.9 2151.5,305.5 2151.8,305.0 2152.1,304.6 2152.3,304.2 2152.6,303.8 2152.9,303.4 2153.2,302.9 2153.4,302.5 2153.7,302.1 2154.0,301.7 2154.2,301.2 2154.5,300.8 2154.8,300.4 2155.0,300.0 2155.3,299.6 2155.6,299.1 2155.9,298.7 2156.1,298.3 2156.4,297.9 2156.7,297.5 2156.9,297.0 2157.2,296.6 2157.5,296.2 2157.7,295.8 2158.0,295.4 2158.3,294.9 2158.5,294.5 2158.8,294.1 2159.1,293.7 2159.3,293.2 2159.6,292.8 2159.9,292.4 2160.2,292.0 2160.4,291.6 2160.7,291.1 2161.0,290.7 2161.2,290.3 2161.5,289.9 2161.8,289.4 2162.0,289.0 2162.3,288.6 2162.6,288.2 2162.8,287.8 2163.1,287.3 2163.4,286.9 2163.6,286.5 2163.9,286.1 2164.2,285.6 2164.4,285.2 2164.7,284.8 2165.0,284.4 2165.2,283.9 2165.5,283.5 2165.8,283.1 2166.0,282.7 2166.3,282.3 2166.6,281.8 2166.8,281.4 2167.1,281.0 2167.4,280.6 2167.6,280.1 2167.9,279.7 2168.2,279.3 2168.4,278.9 2168.7,278.4 2169.0,278.0 2169.2,277.6 2169.5,277.2 2169.8,276.7 2170.0,276.3 2170.3,275.9 2170.6,275.5 2170.8,275.1 2171.1,274.6 2171.4,274.2 2171.6,273.8 2171.9,273.4 2172.1,272.9 2172.4,272.5 2172.7,272.1 2172.9,271.7 2173.2,271.2 2173.5,270.8 2173.7,270.4 2174.0,270.0 2174.3,269.5 2174.5,269.1 2174.8,268.7 2175.1,268.3 2175.3,267.8 2175.6,267.4 2175.8,267.0 2176.1,266.6 2176.4,266.1 2176.6,265.7 2176.9,265.3 2177.2,264.9 2177.4,264.4 2177.7,264.0 2178.0,263.6 2178.2,263.2 2178.5,262.7 2178.7,262.3 2179.0,261.9 2179.3,261.5 2179.5,261.0 2179.8,260.6 2180.1,260.2 2180.3,259.8 2180.6,259.3 2180.8,258.9 2181.1,258.5 2181.4,258.1 2181.6,257.6 2181.9,257.2 2182.2,256.8 2182.4,256.3 2182.7,255.9 2182.9,255.5 2183.2,255.1 2183.5,254.6 2183.7,254.2 2184.0,253.8 2184.3,253.4 2184.5,252.9 2184.8,252.5 2185.0,252.1 2185.3,251.7 2185.6,251.2 2185.8,250.8 2186.1,250.4 2186.3,250.0 2186.6,249.5 2186.9,249.1 2187.1,248.7 2187.4,248.2 2187.6,247.8 2187.9,247.4 2188.2,247.0 2188.4,246.5 2188.7,246.1 2188.9,245.7 2189.2,245.3 2189.5,244.8 2189.7,244.4 2190.0,244.0 2190.2,243.5 2190.5,243.1 2190.8,242.7 2191.0,242.3 2191.3,241.8 2191.5,241.4 2191.8,241.0 2192.1,240.6 2192.3,240.1 2192.6,239.7 2192.8,239.3 2193.1,238.8 2193.4,238.4 2193.6,238.0 2193.9,237.6 2194.1,237.1 2194.4,236.7 2194.7,236.3 2194.9,235.8 2195.2,235.4 2195.4,235.0 2195.7,234.6 2195.9,234.1 2196.2,233.7 2196.5,233.3 2196.7,232.8 2197.0,232.4 2197.2,232.0 2197.5,231.6 2197.8,231.1 2198.0,230.7 2198.3,230.3 2198.5,229.8 2198.8,229.4 2199.0,229.0 2199.3,228.6 2199.6,228.1 2199.8,227.7 2200.1,227.3 2200.3,226.8 2200.6,226.4 2200.8,226.0 2201.1,225.6 2201.4,225.1 2201.6,224.7 2201.9,224.3 2202.1,223.8 2202.4,223.4 2202.6,223.0 2202.9,222.6 2203.2,222.1 2203.4,221.7 2203.7,221.3 2203.9,220.8 2204.2,220.4 2204.4,220.0 2204.7,219.5 2204.9,219.1 2205.2,218.7 2205.5,218.3 2205.7,217.8 2206.0,217.4 2206.2,217.0 2206.5,216.5 2206.7,216.1 2207.0,215.7 2207.2,215.3 2207.5,214.8 2207.8,214.4 2208.0,214.0 2208.3,213.5 2208.5,213.1 2208.8,212.7 2209.0,212.2 2209.3,211.8 2209.5,211.4 2209.8,210.9 2210.1,210.5 2210.3,210.1 2210.6,209.7 2210.8,209.2 2211.1,208.8 2211.3,208.4 2211.6,207.9 2211.8,207.5 2212.1,207.1 2212.3,206.6 2212.6,206.2 2212.9,205.8 2213.1,205.4 2213.4,204.9 2213.6,204.5 2213.9,204.1 2214.1,203.6 2214.4,203.2 2214.6,202.8 2214.9,202.3 2215.1,201.9 2215.4,201.5 2215.6,201.0 2215.9,200.6 2216.2,200.2 2216.4,199.7 2216.7,199.3 2216.9,198.9 2217.2,198.5 2217.4,198.0 2217.7,197.6 2217.9,197.2 2218.2,196.7 2218.4,196.3 2218.7,195.9 2218.9,195.4 2219.2,195.0 2219.4,194.6 2219.7,194.1 2219.9,193.7 2220.2,193.3 2220.4,192.8 2220.7,192.4 2221.0,192.0 2221.2,191.5 2221.5,191.1 2221.7,190.7 2222.0,190.2 2222.2,189.8 2222.5,189.4 2222.7,189.0 2223.0,188.5 2223.2,188.1 2223.5,187.7 2223.7,187.2 2224.0,186.8 2224.2,186.4 2224.5,185.9 2224.7,185.5 2225.0,185.1 2225.2,184.6 2225.5,184.2 2225.7,183.8 2226.0,183.3 2226.2,182.9 2226.5,182.5 2226.7,182.0 2227.0,181.6 2227.2,181.2 2227.5,180.7 2227.7,180.3 2228.0,179.9 2228.2,179.4 2228.5,179.0 2228.7,178.6 2229.0,178.1 2229.2,177.7 2229.5,177.3 2229.7,176.8 2230.0,176.4 2230.2,176.0 2230.5,175.5 2230.7,175.1 2231.0,174.7 2231.2,174.2 2231.5,173.8 2231.7,173.4 2232.0,172.9 2232.2,172.5 2232.5,172.1 2232.7,171.6 2233.0,171.2 2233.2,170.8 2233.5,170.3 2233.7,169.9 2234.0,169.5 2234.2,169.0 2234.5,168.6 2234.7,168.2 2235.0,167.7 2235.2,167.3 2235.5,166.9 2235.7,166.4 2236.0,166.0 2236.2,165.6 2236.5,165.1 2236.7,164.7 2237.0,164.3 2237.2,163.8 2237.5,163.4 2237.7,163.0 2238.0,162.5 2238.2,162.1 2238.5,161.7 2238.7,161.2 2239.0,160.8 2239.2,160.4 2239.5,159.9 2239.7,159.5 2239.9,159.1 2240.2,158.6 2240.4,158.2 2240.7,157.7 2240.9,157.3 2241.2,156.9 2241.4,156.4 2241.7,156.0 2241.9,155.6 2242.2,155.1 2242.4,154.7 2242.7,154.3 2242.9,153.8 2243.2,153.4 2243.4,153.0 2243.7,152.5 2243.9,152.1 2244.1,151.7 2244.4,151.2 2244.6,150.8 2244.9,150.4 2245.1,149.9 2245.4,149.5 2245.6,149.0 2245.9,148.6 2246.1,148.2 2246.4,147.7 2246.6,147.3 2246.9,146.9 2247.1,146.4 2247.4,146.0 2247.6,145.6 2247.8,145.1 2248.1,144.7 2248.3,144.3 2248.6,143.8 2248.8,143.4 2249.1,143.0 2249.3,142.5 2249.6,142.1 2249.8,141.6 2250.1,141.2 2250.3,140.8 2250.5,140.3 2250.8,139.9 2251.0,139.5 2251.3,139.0 2251.5,138.6 2251.8,138.2 2252.0,137.7 2252.3,137.3 2252.5,136.9 2252.8,136.4 2253.0,136.0 2253.2,135.5 2253.5,135.1 2253.7,134.7 2254.0,134.2 2254.2,133.8 2254.5,133.4 2254.7,132.9 2255.0,132.5 2255.2,132.1 2255.4,131.6 2255.7,131.2 2255.9,130.7 2256.2,130.3 2256.4,129.9 2256.7,129.4 2256.9,129.0 2257.2,128.6 2257.4,128.1 2257.6,127.7 2257.9,127.3 2258.1,126.8 2258.4,126.4 2258.6,125.9 2258.9,125.5 2259.1,125.1 2259.3,124.6 2259.6,124.2 2259.8,123.8 2260.1,123.3 2260.3,122.9 2260.6,122.4 2260.8,122.0 2261.1,121.6 2261.3,121.1 2261.5,120.7 2261.8,120.3 2262.0,119.8 2262.3,119.4 2262.5,119.0 2262.8,118.5 2263.0,118.1 2263.2,117.6 2263.5,117.2 2263.7,116.8 2264.0,116.3 2264.2,115.9 2264.5,115.5 2264.7,115.0 2264.9,114.6 2265.2,114.1 2265.4,113.7 2265.7,113.3 2265.9,112.8 2266.1,112.4 2266.4,112.0 2266.6,111.5 2266.9,111.1 2267.1,110.6 2267.4,110.2" fill="none" stroke="#000" stroke-width="12" stroke-linejoin="round"/></g>
<path d="M1535.7,127.2 V823.6 H2411.1" fill="none" stroke="#000" stroke-width="3.2" stroke-linejoin="miter"/>
<path d="M1535.7,128.7 H1549.2 M1535.7,198.2 H1542.7 M1535.7,267.7 H1549.2 M1535.7,337.3 H1542.7 M1535.7,406.8 H1549.2 M1535.7,476.3 H1542.7 M1535.7,545.8 H1549.2 M1535.7,615.3 H1542.7 M1535.7,684.9 H1549.2 M1535.7,754.4 H1542.7 M1754.2,823.6 V810.1 M1972.6,823.6 V810.1 M2191.1,823.6 V810.1 M2409.5,823.6 V808.1 M1644.9,823.6 V816.6 M1863.4,823.6 V816.6 M2081.8,823.6 V816.6 M2300.3,823.6 V816.6" stroke="#000" stroke-width="2.8" fill="none"/>
<path d="M1792.4,448.8 L1802.4,604.7" stroke="#1f3ff0" stroke-width="4.2" fill="none"/>
<path d="M1804.5,638.2 L1792.8,601.3 L1811.4,600.1 Z" fill="#1f3ff0"/>
<path d="M1792.4,448.8 L1829.3,559.3" stroke="#1f3ff0" stroke-width="4.2" fill="none"/>
<path d="M1840.0,591.2 L1819.3,558.5 L1836.9,552.6 Z" fill="#1f3ff0"/>
<circle cx="1831.9" cy="607.3" r="17.8" fill="none" stroke="#1f3ff0" stroke-width="4.5"/>
<circle cx="1813.1" cy="657.0" r="17.8" fill="none" stroke="#1f3ff0" stroke-width="4.5"/>
<g font-family="Liberation Serif" fill="#000"><text x="1518.0" y="136.2" text-anchor="end" font-size="50">400</text>
<text x="1518.0" y="276.6" text-anchor="end" font-size="50">350</text>
<text x="1518.0" y="417.2" text-anchor="end" font-size="50">300</text>
<text x="1518.0" y="557.8" text-anchor="end" font-size="50">250</text>
<text x="1518.0" y="698.4" text-anchor="end" font-size="50">200</text>
<text x="1518.0" y="839.2" text-anchor="end" font-size="50">150</text>
<text x="1528.6" y="884.6" text-anchor="middle" font-size="50">0</text>
<text x="1747.6" y="884.6" text-anchor="middle" font-size="50">0.7</text>
<text x="1971.0" y="884.6" text-anchor="middle" font-size="50">1.4</text>
<text x="2189.0" y="884.6" text-anchor="middle" font-size="50">2.1</text>
<text x="2409.5" y="884.6" text-anchor="middle" font-size="50">2.8</text>
<text transform="translate(1409.5,479.5) rotate(-90)" text-anchor="middle" font-size="50">Temperature variation &#916;<tspan font-style="italic">T</tspan>(&#176;C)</text>
<text x="1979.3" y="933.0" text-anchor="middle" font-size="50">Radial displacement <tspan font-style="italic">u</tspan><tspan font-size="27" dy="16">0</tspan><tspan dy="-16">(m)</tspan></text>
<text x="1977" y="989.5" text-anchor="middle" font-size="50">(b)</text>
<text x="1763.6" y="415.8" font-size="50">&#916;<tspan font-style="italic">T</tspan><tspan font-size="29" dy="16.4">min</tspan></text>
<text x="2209.5" y="671.9" font-size="50"><tspan font-style="italic">L</tspan>=15 m</text>
<text x="2209.5" y="719.7" font-size="50"><tspan font-style="italic">R</tspan>=200 m</text><svg x="1554.1" y="0" width="59.8" height="120" overflow="hidden"><path d="M-11.9,30.1 H53.8" stroke="#dc2ce6" stroke-width="11.9" stroke-linecap="round"/></svg>
<svg x="1552.2" y="0" width="61.7" height="120" overflow="hidden"><path d="M5.3,79.1 H72.3" stroke="#40d440" stroke-width="10.6" stroke-linecap="round"/></svg>
<svg x="1804.1" y="0" width="30.7" height="120" overflow="hidden"><path d="M-11.9,30.1 H24.8" stroke="#e60c0c" stroke-width="11.9" stroke-linecap="round"/></svg>
<svg x="1860.3" y="0" width="25.5" height="120" overflow="hidden"><path d="M6.0,30.1 H37.4" stroke="#e60c0c" stroke-width="11.9" stroke-linecap="round"/></svg>
<svg x="1804.1" y="0" width="80.5" height="120" overflow="hidden"><path d="M-10.8,79.3 H75.1" stroke="#000000" stroke-width="10.8" stroke-linecap="round"/></svg>
<g fill="#2f6fe6"><circle cx="2079.9" cy="30.1" r="6.3"/><circle cx="2104.8" cy="30.1" r="6.3"/><circle cx="2130.5" cy="30.1" r="6.3"/><circle cx="2155.5" cy="30.1" r="6.3"/></g>
<text x="1622.9" y="41.8" font-size="50" font-style="italic" stroke="#000" stroke-width="0.5">t</text>
<path d="M1635.8,41.8 L1656.0,7.0" stroke="#000" stroke-width="1.0"/>
<text x="1649.6" y="41.8" font-size="50" font-style="italic" stroke="#000" stroke-width="0.5">r</text>
<text x="1671.0" y="58.5" font-size="27">0</text>
<rect x="1685.9" y="19.8" width="26.1" height="2.6" fill="#000"/><rect x="1685.9" y="27.9" width="26.1" height="2.5" fill="#000"/>
<text x="1712.9" y="41.8" font-size="50">0.10</text>
<text x="1895.5" y="41.8" font-size="50" font-style="italic" stroke="#000" stroke-width="0.5">t</text>
<path d="M1908.4,41.8 L1928.6,7.0" stroke="#000" stroke-width="1.0"/>
<text x="1922.2" y="41.8" font-size="50" font-style="italic" stroke="#000" stroke-width="0.5">r</text>
<text x="1943.6" y="58.5" font-size="27">0</text>
<rect x="1958.5" y="19.8" width="26.1" height="2.6" fill="#000"/><rect x="1958.5" y="27.9" width="26.1" height="2.5" fill="#000"/>
<text x="1985.5" y="41.8" font-size="50">0.15</text>
<text x="2169.4" y="41.8" font-size="50" font-style="italic" stroke="#000" stroke-width="0.5">t</text>
<path d="M2182.3,41.8 L2202.5,7.0" stroke="#000" stroke-width="1.0"/>
<text x="2196.1" y="41.8" font-size="50" font-style="italic" stroke="#000" stroke-width="0.5">r</text>
<text x="2217.5" y="58.5" font-size="27">0</text>
<rect x="2232.4" y="19.8" width="26.1" height="2.6" fill="#000"/><rect x="2232.4" y="27.9" width="26.1" height="2.5" fill="#000"/>
<text x="2259.4" y="41.8" font-size="50">0.20</text>
<text x="1622.9" y="92.3" font-size="50" font-style="italic" stroke="#000" stroke-width="0.5">t</text>
<path d="M1635.8,92.3 L1656.0,57.5" stroke="#000" stroke-width="1.0"/>
<text x="1649.6" y="92.3" font-size="50" font-style="italic" stroke="#000" stroke-width="0.5">r</text>
<text x="1671.0" y="109.0" font-size="27">0</text>
<rect x="1685.9" y="70.3" width="26.1" height="2.6" fill="#000"/><rect x="1685.9" y="78.4" width="26.1" height="2.5" fill="#000"/>
<text x="1712.9" y="92.3" font-size="50">0.25</text>
<text x="1895.5" y="92.3" font-size="50" font-style="italic" stroke="#000" stroke-width="0.5">t</text>
<path d="M1908.4,92.3 L1928.6,57.5" stroke="#000" stroke-width="1.0"/>
<text x="1922.2" y="92.3" font-size="50" font-style="italic" stroke="#000" stroke-width="0.5">r</text>
<text x="1943.6" y="109.0" font-size="27">0</text>
<rect x="1958.5" y="70.3" width="26.1" height="2.6" fill="#000"/><rect x="1958.5" y="78.4" width="26.1" height="2.5" fill="#000"/>
<text x="1985.5" y="92.3" font-size="50">0.30</text></g>
</svg>
</body></html>
